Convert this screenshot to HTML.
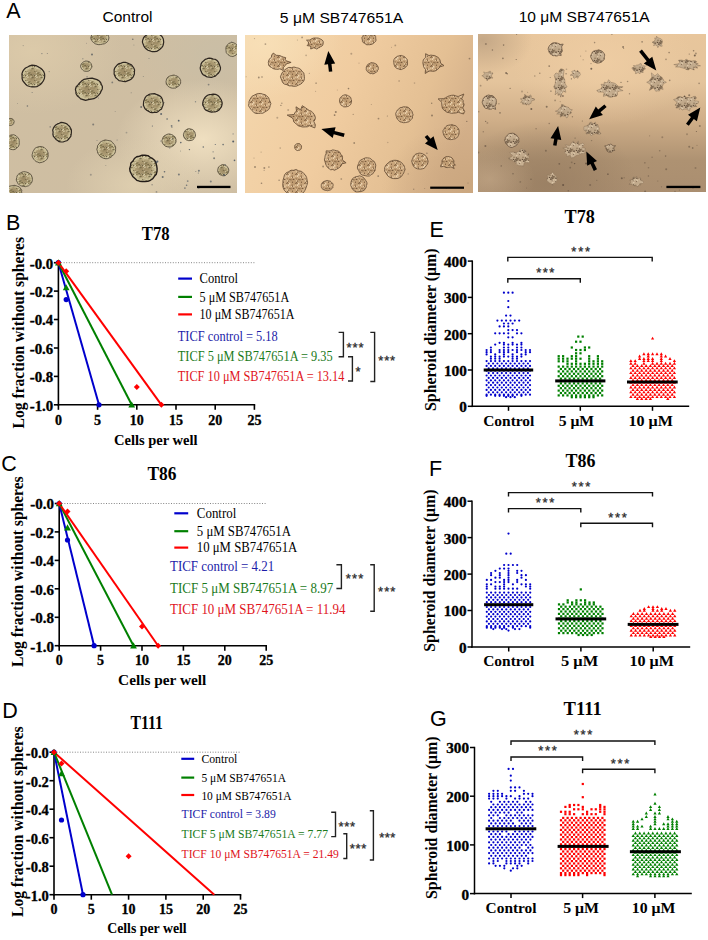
<!DOCTYPE html>
<html><head><meta charset="utf-8"><title>Figure</title>
<style>html,body{margin:0;padding:0;background:#fff;} svg{display:block;}</style>
</head><body>
<svg width="708" height="940" viewBox="0 0 708 940">
<rect width="708" height="940" fill="#fff"/>
<defs>
<pattern id="sp1" width="9" height="9" patternUnits="userSpaceOnUse"><circle cx="4.07" cy="5.04" r="0.81" fill="#d8cca4"/><circle cx="4.07" cy="7.70" r="0.44" fill="#857850"/><circle cx="4.28" cy="5.53" r="0.44" fill="#d8cca4"/><circle cx="2.73" cy="0.82" r="0.75" fill="#6f6444"/><circle cx="5.36" cy="3.57" r="0.58" fill="#857850"/><circle cx="5.85" cy="5.61" r="0.77" fill="#6f6444"/><circle cx="0.54" cy="1.71" r="0.47" fill="#6f6444"/><circle cx="7.00" cy="2.94" r="0.65" fill="#e4dab8"/><circle cx="4.67" cy="5.76" r="0.60" fill="#6f6444"/><circle cx="4.12" cy="2.50" r="0.85" fill="#6f6444"/><circle cx="6.37" cy="2.84" r="0.46" fill="#5e5438"/><circle cx="0.27" cy="5.07" r="0.40" fill="#6f6444"/><circle cx="7.62" cy="3.48" r="0.83" fill="#6f6444"/><circle cx="1.92" cy="8.34" r="0.38" fill="#d8cca4"/><circle cx="8.82" cy="3.58" r="0.39" fill="#e4dab8"/><circle cx="7.01" cy="2.43" r="0.39" fill="#5e5438"/><circle cx="0.14" cy="3.69" r="0.81" fill="#e4dab8"/><circle cx="2.22" cy="0.91" r="0.38" fill="#d8cca4"/><circle cx="1.60" cy="5.03" r="0.57" fill="#e4dab8"/><circle cx="8.87" cy="6.93" r="0.56" fill="#d8cca4"/><circle cx="1.05" cy="3.79" r="0.46" fill="#5e5438"/><circle cx="7.78" cy="8.77" r="0.65" fill="#6f6444"/><circle cx="1.90" cy="3.55" r="0.78" fill="#857850"/><circle cx="0.90" cy="8.90" r="0.46" fill="#5e5438"/><circle cx="0.09" cy="5.49" r="0.77" fill="#d8cca4"/><circle cx="0.66" cy="0.81" r="0.64" fill="#e4dab8"/><circle cx="0.14" cy="3.32" r="0.66" fill="#e4dab8"/><circle cx="8.63" cy="4.35" r="0.64" fill="#d8cca4"/><circle cx="1.65" cy="1.39" r="0.80" fill="#857850"/><circle cx="2.25" cy="1.71" r="0.72" fill="#857850"/></pattern>
<pattern id="sp2" width="9" height="9" patternUnits="userSpaceOnUse"><circle cx="1.77" cy="8.55" r="0.79" fill="#94734f"/><circle cx="0.71" cy="0.43" r="0.40" fill="#94734f"/><circle cx="8.66" cy="2.15" r="0.70" fill="#6e5034"/><circle cx="3.79" cy="8.14" r="0.60" fill="#94734f"/><circle cx="1.58" cy="6.48" r="0.38" fill="#f0d8b4"/><circle cx="4.31" cy="5.88" r="0.66" fill="#7a5c3c"/><circle cx="2.52" cy="8.26" r="0.45" fill="#7a5c3c"/><circle cx="0.62" cy="3.70" r="0.47" fill="#7a5c3c"/><circle cx="1.59" cy="3.32" r="0.64" fill="#f0d8b4"/><circle cx="0.83" cy="1.25" r="0.58" fill="#6e5034"/><circle cx="5.91" cy="6.22" r="0.64" fill="#f0d8b4"/><circle cx="5.31" cy="8.31" r="0.59" fill="#6e5034"/><circle cx="6.31" cy="8.66" r="0.36" fill="#7a5c3c"/><circle cx="4.34" cy="6.57" r="0.51" fill="#7a5c3c"/><circle cx="0.68" cy="4.91" r="0.72" fill="#f0d8b4"/><circle cx="7.14" cy="8.24" r="0.53" fill="#ead0a8"/><circle cx="8.11" cy="7.84" r="0.56" fill="#7a5c3c"/><circle cx="7.77" cy="5.16" r="0.66" fill="#ead0a8"/><circle cx="3.41" cy="0.11" r="0.39" fill="#7a5c3c"/><circle cx="5.75" cy="8.94" r="0.79" fill="#6e5034"/><circle cx="3.50" cy="6.62" r="0.64" fill="#ead0a8"/><circle cx="4.16" cy="4.87" r="0.61" fill="#94734f"/><circle cx="0.27" cy="5.41" r="0.59" fill="#f0d8b4"/><circle cx="8.62" cy="1.02" r="0.74" fill="#ead0a8"/><circle cx="2.30" cy="0.10" r="0.50" fill="#94734f"/><circle cx="1.82" cy="1.53" r="0.80" fill="#ead0a8"/><circle cx="4.48" cy="2.17" r="0.55" fill="#6e5034"/><circle cx="1.79" cy="3.88" r="0.75" fill="#f0d8b4"/><circle cx="7.92" cy="3.46" r="0.64" fill="#6e5034"/><circle cx="1.89" cy="1.21" r="0.53" fill="#7a5c3c"/></pattern>
<pattern id="sp3" width="9" height="9" patternUnits="userSpaceOnUse"><circle cx="6.40" cy="8.55" r="0.49" fill="#dcc8aa"/><circle cx="1.02" cy="4.24" r="0.81" fill="#8a7458"/><circle cx="3.44" cy="4.68" r="0.69" fill="#7a6450"/><circle cx="4.07" cy="0.67" r="0.37" fill="#7a6450"/><circle cx="0.37" cy="6.38" r="0.64" fill="#5a4634"/><circle cx="5.84" cy="5.08" r="0.67" fill="#8a7458"/><circle cx="4.09" cy="0.22" r="0.76" fill="#dcc8aa"/><circle cx="7.01" cy="7.17" r="0.84" fill="#6a5440"/><circle cx="4.02" cy="5.67" r="0.68" fill="#5a4634"/><circle cx="8.63" cy="6.16" r="0.45" fill="#8a7458"/><circle cx="2.30" cy="6.43" r="0.73" fill="#7a6450"/><circle cx="6.43" cy="1.61" r="0.49" fill="#5a4634"/><circle cx="4.86" cy="8.52" r="0.60" fill="#dcc8aa"/><circle cx="3.54" cy="7.13" r="0.80" fill="#6a5440"/><circle cx="3.69" cy="8.03" r="0.54" fill="#8a7458"/><circle cx="4.08" cy="5.63" r="0.80" fill="#8a7458"/><circle cx="4.95" cy="5.87" r="0.60" fill="#5a4634"/><circle cx="4.17" cy="5.86" r="0.45" fill="#6a5440"/><circle cx="1.92" cy="8.10" r="0.84" fill="#5a4634"/><circle cx="4.83" cy="7.12" r="0.51" fill="#6a5440"/><circle cx="3.14" cy="0.74" r="0.57" fill="#7a6450"/><circle cx="3.79" cy="2.48" r="0.81" fill="#dcc8aa"/><circle cx="7.28" cy="0.58" r="0.75" fill="#dcc8aa"/><circle cx="4.80" cy="6.18" r="0.81" fill="#8a7458"/></pattern>

<radialGradient id="f1" cx="0.5" cy="0.5" r="0.5">
 <stop offset="0" stop-color="#9a8762"/><stop offset="0.6" stop-color="#ad9c74"/><stop offset="0.88" stop-color="#cfc49c"/><stop offset="1" stop-color="#c4b890"/>
</radialGradient>
<radialGradient id="f2" cx="0.5" cy="0.5" r="0.5">
 <stop offset="0" stop-color="#bc986e"/><stop offset="0.75" stop-color="#caa67c"/><stop offset="1" stop-color="#dcbc94"/>
</radialGradient>
<radialGradient id="f3" cx="0.5" cy="0.5" r="0.5">
 <stop offset="0" stop-color="#bca486"/><stop offset="1" stop-color="#cbb496"/>
</radialGradient>
<linearGradient id="g1" x1="0" y1="0" x2="1" y2="1">
 <stop offset="0" stop-color="#d0bfa2"/><stop offset="1" stop-color="#cdbda2"/>
</linearGradient>
<radialGradient id="g1b" cx="0.85" cy="0.66" r="0.38">
 <stop offset="0" stop-color="#efdfc0" stop-opacity="1"/><stop offset="1" stop-color="#efdfc0" stop-opacity="0"/>
</radialGradient>
<radialGradient id="g1c" cx="0.1" cy="0.1" r="0.4">
 <stop offset="0" stop-color="#ddcbaa" stop-opacity="0.9"/><stop offset="1" stop-color="#ddcbaa" stop-opacity="0"/>
</radialGradient>
<radialGradient id="g1d" cx="0.55" cy="0.95" r="0.3">
 <stop offset="0" stop-color="#e2d2b2" stop-opacity="0.8"/><stop offset="1" stop-color="#e2d2b2" stop-opacity="0"/>
</radialGradient>
<linearGradient id="g2" x1="0" y1="0.2" x2="1" y2="0.5">
 <stop offset="0" stop-color="#f4d6ac"/><stop offset="0.45" stop-color="#f0cca0"/><stop offset="0.78" stop-color="#e4c094"/><stop offset="1" stop-color="#d4b08a"/>
</linearGradient>
<radialGradient id="g2b" cx="0.08" cy="0.05" r="0.35">
 <stop offset="0" stop-color="#f8e0b8" stop-opacity="0.9"/><stop offset="1" stop-color="#f8e0b8" stop-opacity="0"/>
</radialGradient>
<radialGradient id="g2c" cx="1.0" cy="0.95" r="0.4">
 <stop offset="0" stop-color="#c8a47c" stop-opacity="0.8"/><stop offset="1" stop-color="#c8a47c" stop-opacity="0"/>
</radialGradient>
<linearGradient id="g3" x1="0" y1="0" x2="0" y2="1">
 <stop offset="0" stop-color="#e8c69c"/><stop offset="0.3" stop-color="#e4c49c"/><stop offset="0.55" stop-color="#cfae88"/><stop offset="0.8" stop-color="#ae9272"/><stop offset="1" stop-color="#aa8e70"/>
</linearGradient>
<radialGradient id="g3b" cx="0.55" cy="0.18" r="0.4">
 <stop offset="0" stop-color="#f0cea4" stop-opacity="0.8"/><stop offset="1" stop-color="#f0cea4" stop-opacity="0"/>
</radialGradient>
<radialGradient id="g3c" cx="0.02" cy="0.04" r="0.22">
 <stop offset="0" stop-color="#c0a484" stop-opacity="0.9"/><stop offset="1" stop-color="#c0a484" stop-opacity="0"/>
</radialGradient>
<radialGradient id="g3e" cx="0.3" cy="0.95" r="0.4">
 <stop offset="0" stop-color="#967c60" stop-opacity="0.75"/><stop offset="0.5" stop-color="#967c60" stop-opacity="0.42"/><stop offset="1" stop-color="#967c60" stop-opacity="0"/>
</radialGradient>
<radialGradient id="g1e" cx="0.92" cy="0.12" r="0.35">
 <stop offset="0" stop-color="#c9bea6" stop-opacity="0.9"/><stop offset="1" stop-color="#c9bea6" stop-opacity="0"/>
</radialGradient>
<radialGradient id="g3d" cx="0.05" cy="0.92" r="0.2">
 <stop offset="0" stop-color="#c6aa8a" stop-opacity="0.6"/><stop offset="1" stop-color="#c6aa8a" stop-opacity="0"/>
</radialGradient>
<clipPath id="c1"><rect x="9" y="35" width="228" height="158"/></clipPath>
<clipPath id="c2"><rect x="245" y="35" width="228" height="158"/></clipPath>
<clipPath id="c3"><rect x="478" y="34" width="228" height="158"/></clipPath>
</defs>
<g clip-path="url(#c1)">
<rect x="9" y="35" width="228" height="158" fill="url(#g1)"/>
<rect x="9" y="35" width="228" height="158" fill="url(#g1e)"/>
<rect x="9" y="35" width="228" height="158" fill="url(#g1b)"/>
<rect x="9" y="35" width="228" height="158" fill="url(#g1c)"/>
<rect x="9" y="35" width="228" height="158" fill="url(#g1d)"/>
<circle cx="82.8" cy="58.8" r="0.8" fill="#3e4650" opacity="0.33"/>
<circle cx="131.2" cy="92.8" r="0.5" fill="#3e4650" opacity="0.48"/>
<circle cx="17.5" cy="103.5" r="0.5" fill="#3e4650" opacity="0.33"/>
<circle cx="105.8" cy="165.6" r="0.5" fill="#3e4650" opacity="0.38"/>
<circle cx="152.1" cy="184.7" r="0.8" fill="#3e4650" opacity="0.44"/>
<circle cx="231.6" cy="42.4" r="1.0" fill="#3e4650" opacity="0.40"/>
<circle cx="41.9" cy="53.6" r="0.6" fill="#3e4650" opacity="0.59"/>
<circle cx="50.2" cy="126.9" r="0.8" fill="#3e4650" opacity="0.43"/>
<circle cx="133.9" cy="44.9" r="0.5" fill="#3e4650" opacity="0.37"/>
<circle cx="164.1" cy="102.6" r="0.6" fill="#3e4650" opacity="0.50"/>
<circle cx="112.3" cy="82.4" r="0.9" fill="#3e4650" opacity="0.54"/>
<circle cx="64.7" cy="125.8" r="0.8" fill="#3e4650" opacity="0.61"/>
<circle cx="175.3" cy="80.5" r="1.0" fill="#3e4650" opacity="0.34"/>
<circle cx="104.3" cy="154.6" r="0.5" fill="#3e4650" opacity="0.47"/>
<circle cx="17.9" cy="140.6" r="0.9" fill="#3e4650" opacity="0.50"/>
<circle cx="208.6" cy="84.6" r="0.9" fill="#3e4650" opacity="0.51"/>
<circle cx="141.2" cy="107.1" r="1.0" fill="#3e4650" opacity="0.63"/>
<circle cx="117.1" cy="139.9" r="0.5" fill="#3e4650" opacity="0.55"/>
<circle cx="156.5" cy="191.9" r="0.9" fill="#3e4650" opacity="0.40"/>
<circle cx="97.0" cy="140.6" r="0.5" fill="#3e4650" opacity="0.46"/>
<circle cx="47.3" cy="53.5" r="0.5" fill="#3e4650" opacity="0.57"/>
<circle cx="38.5" cy="74.1" r="0.7" fill="#3e4650" opacity="0.60"/>
<circle cx="27.4" cy="106.0" r="0.8" fill="#3e4650" opacity="0.61"/>
<circle cx="195.8" cy="171.5" r="0.6" fill="#3e4650" opacity="0.45"/>
<circle cx="90.8" cy="174.7" r="1.0" fill="#3e4650" opacity="0.35"/>
<circle cx="49.2" cy="71.6" r="0.6" fill="#3e4650" opacity="0.47"/>
<circle cx="143.3" cy="76.5" r="0.5" fill="#3e4650" opacity="0.45"/>
<circle cx="93.2" cy="124.5" r="1.0" fill="#3e4650" opacity="0.54"/>
<circle cx="126.5" cy="132.6" r="0.9" fill="#3e4650" opacity="0.32"/>
<circle cx="214.1" cy="158.2" r="1.0" fill="#3e4650" opacity="0.58"/>
<circle cx="98.5" cy="98.0" r="0.5" fill="#3e4650" opacity="0.52"/>
<circle cx="23.2" cy="45.6" r="0.6" fill="#3e4650" opacity="0.36"/>
<circle cx="86.5" cy="43.3" r="0.5" fill="#3e4650" opacity="0.35"/>
<circle cx="32.1" cy="92.5" r="0.5" fill="#3e4650" opacity="0.61"/>
<circle cx="149.0" cy="58.5" r="0.6" fill="#3e4650" opacity="0.42"/>
<circle cx="92.0" cy="54.4" r="1.0" fill="#3e4650" opacity="0.65"/>
<circle cx="115.2" cy="111.4" r="0.5" fill="#3e4650" opacity="0.34"/>
<circle cx="87.1" cy="76.8" r="0.9" fill="#3e4650" opacity="0.36"/>
<circle cx="14.3" cy="185.3" r="0.8" fill="#3e4650" opacity="0.35"/>
<circle cx="132.8" cy="39.3" r="0.8" fill="#3e4650" opacity="0.64"/>
<polygon points="44.7,76.2 44.4,78.5 43.5,80.6 42.2,82.5 40.8,84.2 38.8,85.5 36.8,86.6 34.4,86.8 32.0,86.9 29.7,86.5 27.4,85.8 25.6,84.2 24.2,82.5 22.7,80.7 22.1,78.5 22.1,76.2 21.9,73.9 22.6,71.7 23.9,69.7 25.5,68.0 27.6,67.0 29.7,65.8 32.0,65.2 34.4,65.3 36.7,65.9 38.7,67.1 40.7,68.2 42.4,69.8 43.8,71.7 44.6,73.9" fill="url(#f1)"/>
<polygon points="44.7,76.2 44.4,78.5 43.5,80.6 42.2,82.5 40.8,84.2 38.8,85.5 36.8,86.6 34.4,86.8 32.0,86.9 29.7,86.5 27.4,85.8 25.6,84.2 24.2,82.5 22.7,80.7 22.1,78.5 22.1,76.2 21.9,73.9 22.6,71.7 23.9,69.7 25.5,68.0 27.6,67.0 29.7,65.8 32.0,65.2 34.4,65.3 36.7,65.9 38.7,67.1 40.7,68.2 42.4,69.8 43.8,71.7 44.6,73.9" fill="url(#sp1)"/>
<polygon points="44.7,76.2 44.4,78.5 43.5,80.6 42.2,82.5 40.8,84.2 38.8,85.5 36.8,86.6 34.4,86.8 32.0,86.9 29.7,86.5 27.4,85.8 25.6,84.2 24.2,82.5 22.7,80.7 22.1,78.5 22.1,76.2 21.9,73.9 22.6,71.7 23.9,69.7 25.5,68.0 27.6,67.0 29.7,65.8 32.0,65.2 34.4,65.3 36.7,65.9 38.7,67.1 40.7,68.2 42.4,69.8 43.8,71.7 44.6,73.9" fill="none" stroke="#2e2620" stroke-width="1.2" stroke-linejoin="round"/>
<polygon points="101.4,84.5 102.4,86.6 102.3,88.9 101.2,91.1 100.1,93.4 98.4,95.4 96.4,97.2 93.9,98.7 91.1,99.2 88.4,99.7 85.6,100.3 83.1,99.6 80.6,98.9 79.0,97.2 77.2,95.7 76.0,93.8 75.9,91.6 75.4,89.3 76.1,87.0 78.0,84.9 79.6,83.0 81.5,81.1 83.8,79.4 86.6,78.8 89.4,78.4 92.1,78.2 94.6,78.9 97.0,79.6 99.1,80.8 100.6,82.5" fill="url(#f1)"/>
<polygon points="101.4,84.5 102.4,86.6 102.3,88.9 101.2,91.1 100.1,93.4 98.4,95.4 96.4,97.2 93.9,98.7 91.1,99.2 88.4,99.7 85.6,100.3 83.1,99.6 80.6,98.9 79.0,97.2 77.2,95.7 76.0,93.8 75.9,91.6 75.4,89.3 76.1,87.0 78.0,84.9 79.6,83.0 81.5,81.1 83.8,79.4 86.6,78.8 89.4,78.4 92.1,78.2 94.6,78.9 97.0,79.6 99.1,80.8 100.6,82.5" fill="url(#sp1)"/>
<polygon points="101.4,84.5 102.4,86.6 102.3,88.9 101.2,91.1 100.1,93.4 98.4,95.4 96.4,97.2 93.9,98.7 91.1,99.2 88.4,99.7 85.6,100.3 83.1,99.6 80.6,98.9 79.0,97.2 77.2,95.7 76.0,93.8 75.9,91.6 75.4,89.3 76.1,87.0 78.0,84.9 79.6,83.0 81.5,81.1 83.8,79.4 86.6,78.8 89.4,78.4 92.1,78.2 94.6,78.9 97.0,79.6 99.1,80.8 100.6,82.5" fill="none" stroke="#2e2620" stroke-width="1.2" stroke-linejoin="round"/>
<polygon points="92.0,66.2 91.8,67.3 91.2,68.3 90.6,69.2 90.1,70.1 89.1,70.8 88.0,71.2 86.9,71.3 85.7,71.4 84.6,71.2 83.5,70.7 82.7,70.0 81.9,69.2 81.3,68.3 80.8,67.3 80.6,66.2 80.8,65.1 81.3,64.1 81.9,63.2 82.7,62.4 83.6,61.8 84.6,61.4 85.7,61.0 86.9,61.1 88.0,61.3 89.1,61.6 90.0,62.3 90.8,63.1 91.2,64.1 91.5,65.1" fill="url(#f1)"/>
<polygon points="92.0,66.2 91.8,67.3 91.2,68.3 90.6,69.2 90.1,70.1 89.1,70.8 88.0,71.2 86.9,71.3 85.7,71.4 84.6,71.2 83.5,70.7 82.7,70.0 81.9,69.2 81.3,68.3 80.8,67.3 80.6,66.2 80.8,65.1 81.3,64.1 81.9,63.2 82.7,62.4 83.6,61.8 84.6,61.4 85.7,61.0 86.9,61.1 88.0,61.3 89.1,61.6 90.0,62.3 90.8,63.1 91.2,64.1 91.5,65.1" fill="url(#sp1)"/>
<polygon points="92.0,66.2 91.8,67.3 91.2,68.3 90.6,69.2 90.1,70.1 89.1,70.8 88.0,71.2 86.9,71.3 85.7,71.4 84.6,71.2 83.5,70.7 82.7,70.0 81.9,69.2 81.3,68.3 80.8,67.3 80.6,66.2 80.8,65.1 81.3,64.1 81.9,63.2 82.7,62.4 83.6,61.8 84.6,61.4 85.7,61.0 86.9,61.1 88.0,61.3 89.1,61.6 90.0,62.3 90.8,63.1 91.2,64.1 91.5,65.1" fill="none" stroke="#5a5040" stroke-width="0.9" stroke-linejoin="round"/>
<polygon points="134.4,72.0 134.4,74.0 133.6,75.9 132.7,77.7 131.2,79.2 129.3,80.1 127.4,80.9 125.4,81.7 123.2,81.4 121.2,81.0 119.0,80.6 117.4,79.1 115.8,77.8 114.9,75.9 114.1,74.0 114.2,72.0 114.1,70.0 114.7,68.0 116.0,66.3 117.3,64.8 119.1,63.6 121.2,63.1 123.2,62.3 125.4,62.4 127.4,63.0 129.3,63.9 131.3,64.7 132.6,66.4 133.8,68.0 134.6,70.0" fill="url(#f1)"/>
<polygon points="134.4,72.0 134.4,74.0 133.6,75.9 132.7,77.7 131.2,79.2 129.3,80.1 127.4,80.9 125.4,81.7 123.2,81.4 121.2,81.0 119.0,80.6 117.4,79.1 115.8,77.8 114.9,75.9 114.1,74.0 114.2,72.0 114.1,70.0 114.7,68.0 116.0,66.3 117.3,64.8 119.1,63.6 121.2,63.1 123.2,62.3 125.4,62.4 127.4,63.0 129.3,63.9 131.3,64.7 132.6,66.4 133.8,68.0 134.6,70.0" fill="url(#sp1)"/>
<polygon points="134.4,72.0 134.4,74.0 133.6,75.9 132.7,77.7 131.2,79.2 129.3,80.1 127.4,80.9 125.4,81.7 123.2,81.4 121.2,81.0 119.0,80.6 117.4,79.1 115.8,77.8 114.9,75.9 114.1,74.0 114.2,72.0 114.1,70.0 114.7,68.0 116.0,66.3 117.3,64.8 119.1,63.6 121.2,63.1 123.2,62.3 125.4,62.4 127.4,63.0 129.3,63.9 131.3,64.7 132.6,66.4 133.8,68.0 134.6,70.0" fill="none" stroke="#2e2620" stroke-width="1.2" stroke-linejoin="round"/>
<polygon points="163.7,42.1 163.4,44.0 162.9,45.9 161.7,47.6 160.2,49.0 158.6,50.3 156.7,51.4 154.4,51.7 152.2,51.7 150.1,51.0 148.0,50.3 146.3,49.1 144.9,47.6 143.8,45.9 143.1,44.0 142.4,42.1 142.7,40.1 143.4,38.2 144.6,36.4 146.3,35.2 148.1,34.0 150.0,33.0 152.2,32.5 154.4,32.5 156.7,32.9 158.5,34.1 160.4,35.0 162.0,36.5 163.0,38.2 163.5,40.2" fill="url(#f1)"/>
<polygon points="163.7,42.1 163.4,44.0 162.9,45.9 161.7,47.6 160.2,49.0 158.6,50.3 156.7,51.4 154.4,51.7 152.2,51.7 150.1,51.0 148.0,50.3 146.3,49.1 144.9,47.6 143.8,45.9 143.1,44.0 142.4,42.1 142.7,40.1 143.4,38.2 144.6,36.4 146.3,35.2 148.1,34.0 150.0,33.0 152.2,32.5 154.4,32.5 156.7,32.9 158.5,34.1 160.4,35.0 162.0,36.5 163.0,38.2 163.5,40.2" fill="url(#sp1)"/>
<polygon points="163.7,42.1 163.4,44.0 162.9,45.9 161.7,47.6 160.2,49.0 158.6,50.3 156.7,51.4 154.4,51.7 152.2,51.7 150.1,51.0 148.0,50.3 146.3,49.1 144.9,47.6 143.8,45.9 143.1,44.0 142.4,42.1 142.7,40.1 143.4,38.2 144.6,36.4 146.3,35.2 148.1,34.0 150.0,33.0 152.2,32.5 154.4,32.5 156.7,32.9 158.5,34.1 160.4,35.0 162.0,36.5 163.0,38.2 163.5,40.2" fill="none" stroke="#2e2620" stroke-width="1.2" stroke-linejoin="round"/>
<polygon points="108.9,37.6 108.7,39.1 108.2,40.5 107.3,41.8 105.9,42.9 104.4,43.8 102.5,44.1 100.7,44.5 98.8,44.7 97.0,44.3 95.2,43.8 93.9,42.7 92.5,41.7 91.7,40.4 91.0,39.1 90.8,37.6 91.3,36.2 91.7,34.8 92.6,33.5 93.6,32.3 95.2,31.4 97.1,31.1 98.8,30.5 100.7,30.8 102.6,30.9 104.2,31.7 105.6,32.6 107.2,33.4 107.9,34.8 108.5,36.2" fill="url(#f1)"/>
<polygon points="108.9,37.6 108.7,39.1 108.2,40.5 107.3,41.8 105.9,42.9 104.4,43.8 102.5,44.1 100.7,44.5 98.8,44.7 97.0,44.3 95.2,43.8 93.9,42.7 92.5,41.7 91.7,40.4 91.0,39.1 90.8,37.6 91.3,36.2 91.7,34.8 92.6,33.5 93.6,32.3 95.2,31.4 97.1,31.1 98.8,30.5 100.7,30.8 102.6,30.9 104.2,31.7 105.6,32.6 107.2,33.4 107.9,34.8 108.5,36.2" fill="url(#sp1)"/>
<polygon points="108.9,37.6 108.7,39.1 108.2,40.5 107.3,41.8 105.9,42.9 104.4,43.8 102.5,44.1 100.7,44.5 98.8,44.7 97.0,44.3 95.2,43.8 93.9,42.7 92.5,41.7 91.7,40.4 91.0,39.1 90.8,37.6 91.3,36.2 91.7,34.8 92.6,33.5 93.6,32.3 95.2,31.4 97.1,31.1 98.8,30.5 100.7,30.8 102.6,30.9 104.2,31.7 105.6,32.6 107.2,33.4 107.9,34.8 108.5,36.2" fill="none" stroke="#5a5040" stroke-width="0.9" stroke-linejoin="round"/>
<polygon points="220.5,67.8 220.3,69.8 219.4,71.7 218.3,73.3 216.8,74.6 215.3,76.1 213.4,76.8 211.4,77.4 209.3,77.2 207.2,77.0 205.4,75.9 203.5,75.0 202.1,73.5 201.2,71.6 200.5,69.8 200.2,67.8 200.7,65.9 201.1,63.9 202.1,62.1 203.7,60.8 205.2,59.4 207.2,58.7 209.2,58.2 211.3,58.4 213.3,59.0 215.4,59.4 217.1,60.6 218.4,62.2 219.2,64.0 219.9,65.9" fill="url(#f1)"/>
<polygon points="220.5,67.8 220.3,69.8 219.4,71.7 218.3,73.3 216.8,74.6 215.3,76.1 213.4,76.8 211.4,77.4 209.3,77.2 207.2,77.0 205.4,75.9 203.5,75.0 202.1,73.5 201.2,71.6 200.5,69.8 200.2,67.8 200.7,65.9 201.1,63.9 202.1,62.1 203.7,60.8 205.2,59.4 207.2,58.7 209.2,58.2 211.3,58.4 213.3,59.0 215.4,59.4 217.1,60.6 218.4,62.2 219.2,64.0 219.9,65.9" fill="url(#sp1)"/>
<polygon points="220.5,67.8 220.3,69.8 219.4,71.7 218.3,73.3 216.8,74.6 215.3,76.1 213.4,76.8 211.4,77.4 209.3,77.2 207.2,77.0 205.4,75.9 203.5,75.0 202.1,73.5 201.2,71.6 200.5,69.8 200.2,67.8 200.7,65.9 201.1,63.9 202.1,62.1 203.7,60.8 205.2,59.4 207.2,58.7 209.2,58.2 211.3,58.4 213.3,59.0 215.4,59.4 217.1,60.6 218.4,62.2 219.2,64.0 219.9,65.9" fill="none" stroke="#2e2620" stroke-width="1.2" stroke-linejoin="round"/>
<polygon points="238.5,49.5 238.3,50.9 238.1,52.4 237.2,53.5 236.5,54.7 235.4,55.5 234.1,56.0 232.9,56.5 231.5,56.3 230.2,56.1 229.1,55.4 228.0,54.6 227.0,53.6 226.2,52.4 226.1,50.9 225.9,49.5 225.9,48.0 226.2,46.6 227.0,45.4 227.9,44.3 228.9,43.3 230.3,43.0 231.5,42.4 232.9,42.6 234.1,43.0 235.3,43.6 236.4,44.4 237.5,45.3 237.9,46.7 238.5,48.0" fill="url(#f1)"/>
<polygon points="238.5,49.5 238.3,50.9 238.1,52.4 237.2,53.5 236.5,54.7 235.4,55.5 234.1,56.0 232.9,56.5 231.5,56.3 230.2,56.1 229.1,55.4 228.0,54.6 227.0,53.6 226.2,52.4 226.1,50.9 225.9,49.5 225.9,48.0 226.2,46.6 227.0,45.4 227.9,44.3 228.9,43.3 230.3,43.0 231.5,42.4 232.9,42.6 234.1,43.0 235.3,43.6 236.4,44.4 237.5,45.3 237.9,46.7 238.5,48.0" fill="url(#sp1)"/>
<polygon points="238.5,49.5 238.3,50.9 238.1,52.4 237.2,53.5 236.5,54.7 235.4,55.5 234.1,56.0 232.9,56.5 231.5,56.3 230.2,56.1 229.1,55.4 228.0,54.6 227.0,53.6 226.2,52.4 226.1,50.9 225.9,49.5 225.9,48.0 226.2,46.6 227.0,45.4 227.9,44.3 228.9,43.3 230.3,43.0 231.5,42.4 232.9,42.6 234.1,43.0 235.3,43.6 236.4,44.4 237.5,45.3 237.9,46.7 238.5,48.0" fill="none" stroke="#5a5040" stroke-width="0.9" stroke-linejoin="round"/>
<polygon points="180.6,81.7 180.7,83.1 179.9,84.3 179.4,85.6 178.1,86.4 176.9,87.2 175.7,88.1 174.1,88.1 172.5,88.2 171.0,87.9 169.6,87.3 168.3,86.5 167.4,85.5 166.4,84.4 166.2,83.0 166.0,81.7 166.3,80.4 166.6,79.1 167.3,77.9 168.2,76.8 169.6,76.1 171.1,75.7 172.5,75.3 174.1,75.0 175.5,75.7 177.0,76.0 178.2,76.9 179.3,77.8 180.0,79.1 180.6,80.3" fill="url(#f1)"/>
<polygon points="180.6,81.7 180.7,83.1 179.9,84.3 179.4,85.6 178.1,86.4 176.9,87.2 175.7,88.1 174.1,88.1 172.5,88.2 171.0,87.9 169.6,87.3 168.3,86.5 167.4,85.5 166.4,84.4 166.2,83.0 166.0,81.7 166.3,80.4 166.6,79.1 167.3,77.9 168.2,76.8 169.6,76.1 171.1,75.7 172.5,75.3 174.1,75.0 175.5,75.7 177.0,76.0 178.2,76.9 179.3,77.8 180.0,79.1 180.6,80.3" fill="url(#sp1)"/>
<polygon points="180.6,81.7 180.7,83.1 179.9,84.3 179.4,85.6 178.1,86.4 176.9,87.2 175.7,88.1 174.1,88.1 172.5,88.2 171.0,87.9 169.6,87.3 168.3,86.5 167.4,85.5 166.4,84.4 166.2,83.0 166.0,81.7 166.3,80.4 166.6,79.1 167.3,77.9 168.2,76.8 169.6,76.1 171.1,75.7 172.5,75.3 174.1,75.0 175.5,75.7 177.0,76.0 178.2,76.9 179.3,77.8 180.0,79.1 180.6,80.3" fill="none" stroke="#5a5040" stroke-width="0.9" stroke-linejoin="round"/>
<polygon points="163.3,103.2 163.0,105.2 162.2,107.0 161.6,108.9 159.8,110.1 158.3,111.4 156.5,112.5 154.3,112.4 152.3,112.7 150.2,112.3 148.4,111.2 146.7,110.2 145.1,108.9 144.2,107.1 143.4,105.2 143.5,103.2 143.7,101.3 144.4,99.4 145.2,97.6 146.4,96.0 148.3,94.9 150.2,94.0 152.3,93.8 154.4,93.6 156.3,94.4 158.2,95.1 160.1,96.1 161.5,97.5 162.4,99.4 162.8,101.3" fill="url(#f1)"/>
<polygon points="163.3,103.2 163.0,105.2 162.2,107.0 161.6,108.9 159.8,110.1 158.3,111.4 156.5,112.5 154.3,112.4 152.3,112.7 150.2,112.3 148.4,111.2 146.7,110.2 145.1,108.9 144.2,107.1 143.4,105.2 143.5,103.2 143.7,101.3 144.4,99.4 145.2,97.6 146.4,96.0 148.3,94.9 150.2,94.0 152.3,93.8 154.4,93.6 156.3,94.4 158.2,95.1 160.1,96.1 161.5,97.5 162.4,99.4 162.8,101.3" fill="url(#sp1)"/>
<polygon points="163.3,103.2 163.0,105.2 162.2,107.0 161.6,108.9 159.8,110.1 158.3,111.4 156.5,112.5 154.3,112.4 152.3,112.7 150.2,112.3 148.4,111.2 146.7,110.2 145.1,108.9 144.2,107.1 143.4,105.2 143.5,103.2 143.7,101.3 144.4,99.4 145.2,97.6 146.4,96.0 148.3,94.9 150.2,94.0 152.3,93.8 154.4,93.6 156.3,94.4 158.2,95.1 160.1,96.1 161.5,97.5 162.4,99.4 162.8,101.3" fill="none" stroke="#2e2620" stroke-width="1.2" stroke-linejoin="round"/>
<polygon points="222.2,103.2 221.9,105.1 221.4,106.9 220.2,108.4 219.1,110.0 217.4,111.1 215.5,111.8 213.5,112.0 211.5,112.2 209.5,111.7 207.7,110.9 205.8,110.1 204.4,108.6 203.9,106.8 202.8,105.1 202.7,103.2 203.1,101.3 203.8,99.6 204.6,97.9 206.0,96.5 207.6,95.3 209.5,94.6 211.5,94.4 213.5,94.1 215.6,94.4 217.5,95.2 219.0,96.5 220.1,98.1 221.1,99.6 221.8,101.4" fill="url(#f1)"/>
<polygon points="222.2,103.2 221.9,105.1 221.4,106.9 220.2,108.4 219.1,110.0 217.4,111.1 215.5,111.8 213.5,112.0 211.5,112.2 209.5,111.7 207.7,110.9 205.8,110.1 204.4,108.6 203.9,106.8 202.8,105.1 202.7,103.2 203.1,101.3 203.8,99.6 204.6,97.9 206.0,96.5 207.6,95.3 209.5,94.6 211.5,94.4 213.5,94.1 215.6,94.4 217.5,95.2 219.0,96.5 220.1,98.1 221.1,99.6 221.8,101.4" fill="url(#sp1)"/>
<polygon points="222.2,103.2 221.9,105.1 221.4,106.9 220.2,108.4 219.1,110.0 217.4,111.1 215.5,111.8 213.5,112.0 211.5,112.2 209.5,111.7 207.7,110.9 205.8,110.1 204.4,108.6 203.9,106.8 202.8,105.1 202.7,103.2 203.1,101.3 203.8,99.6 204.6,97.9 206.0,96.5 207.6,95.3 209.5,94.6 211.5,94.4 213.5,94.1 215.6,94.4 217.5,95.2 219.0,96.5 220.1,98.1 221.1,99.6 221.8,101.4" fill="none" stroke="#2e2620" stroke-width="1.2" stroke-linejoin="round"/>
<polygon points="71.4,132.2 71.2,134.2 70.8,136.3 69.6,137.9 68.3,139.5 66.8,140.7 64.9,141.3 63.1,142.0 61.1,142.0 59.2,141.7 57.6,140.5 56.0,139.4 54.8,137.8 53.4,136.3 52.9,134.3 53.1,132.2 52.7,130.1 53.4,128.1 54.5,126.4 55.8,124.9 57.5,123.9 59.3,123.2 61.1,122.4 63.0,122.7 64.9,123.1 66.7,123.8 68.1,125.1 69.6,126.5 70.6,128.2 71.4,130.1" fill="url(#f1)"/>
<polygon points="71.4,132.2 71.2,134.2 70.8,136.3 69.6,137.9 68.3,139.5 66.8,140.7 64.9,141.3 63.1,142.0 61.1,142.0 59.2,141.7 57.6,140.5 56.0,139.4 54.8,137.8 53.4,136.3 52.9,134.3 53.1,132.2 52.7,130.1 53.4,128.1 54.5,126.4 55.8,124.9 57.5,123.9 59.3,123.2 61.1,122.4 63.0,122.7 64.9,123.1 66.7,123.8 68.1,125.1 69.6,126.5 70.6,128.2 71.4,130.1" fill="url(#sp1)"/>
<polygon points="71.4,132.2 71.2,134.2 70.8,136.3 69.6,137.9 68.3,139.5 66.8,140.7 64.9,141.3 63.1,142.0 61.1,142.0 59.2,141.7 57.6,140.5 56.0,139.4 54.8,137.8 53.4,136.3 52.9,134.3 53.1,132.2 52.7,130.1 53.4,128.1 54.5,126.4 55.8,124.9 57.5,123.9 59.3,123.2 61.1,122.4 63.0,122.7 64.9,123.1 66.7,123.8 68.1,125.1 69.6,126.5 70.6,128.2 71.4,130.1" fill="none" stroke="#2e2620" stroke-width="1.2" stroke-linejoin="round"/>
<polygon points="115.6,149.3 115.5,151.3 114.9,153.1 113.7,154.6 112.3,156.0 110.9,157.3 109.1,158.0 107.3,158.7 105.3,158.7 103.4,158.2 101.6,157.4 100.0,156.3 98.9,154.7 97.8,153.1 97.4,151.2 96.8,149.3 97.4,147.4 97.6,145.4 99.0,144.0 100.0,142.3 101.7,141.3 103.4,140.5 105.3,139.9 107.2,140.3 109.1,140.7 111.1,141.0 112.5,142.4 113.6,144.0 115.0,145.4 115.6,147.3" fill="url(#f1)"/>
<polygon points="115.6,149.3 115.5,151.3 114.9,153.1 113.7,154.6 112.3,156.0 110.9,157.3 109.1,158.0 107.3,158.7 105.3,158.7 103.4,158.2 101.6,157.4 100.0,156.3 98.9,154.7 97.8,153.1 97.4,151.2 96.8,149.3 97.4,147.4 97.6,145.4 99.0,144.0 100.0,142.3 101.7,141.3 103.4,140.5 105.3,139.9 107.2,140.3 109.1,140.7 111.1,141.0 112.5,142.4 113.6,144.0 115.0,145.4 115.6,147.3" fill="url(#sp1)"/>
<polygon points="115.6,149.3 115.5,151.3 114.9,153.1 113.7,154.6 112.3,156.0 110.9,157.3 109.1,158.0 107.3,158.7 105.3,158.7 103.4,158.2 101.6,157.4 100.0,156.3 98.9,154.7 97.8,153.1 97.4,151.2 96.8,149.3 97.4,147.4 97.6,145.4 99.0,144.0 100.0,142.3 101.7,141.3 103.4,140.5 105.3,139.9 107.2,140.3 109.1,140.7 111.1,141.0 112.5,142.4 113.6,144.0 115.0,145.4 115.6,147.3" fill="none" stroke="#5a5040" stroke-width="0.9" stroke-linejoin="round"/>
<polygon points="48.1,154.7 48.1,156.4 47.6,158.0 46.8,159.5 45.5,160.5 44.1,161.5 42.6,162.1 41.0,162.5 39.4,162.8 37.8,162.1 36.2,161.6 34.9,160.5 33.8,159.3 32.9,157.9 32.2,156.4 32.1,154.7 32.6,153.1 33.0,151.5 33.9,150.1 34.7,148.6 36.1,147.6 37.7,147.0 39.3,146.6 41.0,146.6 42.7,146.9 44.3,147.6 45.5,148.8 46.8,149.9 47.5,151.4 48.1,153.0" fill="url(#f1)"/>
<polygon points="48.1,154.7 48.1,156.4 47.6,158.0 46.8,159.5 45.5,160.5 44.1,161.5 42.6,162.1 41.0,162.5 39.4,162.8 37.8,162.1 36.2,161.6 34.9,160.5 33.8,159.3 32.9,157.9 32.2,156.4 32.1,154.7 32.6,153.1 33.0,151.5 33.9,150.1 34.7,148.6 36.1,147.6 37.7,147.0 39.3,146.6 41.0,146.6 42.7,146.9 44.3,147.6 45.5,148.8 46.8,149.9 47.5,151.4 48.1,153.0" fill="url(#sp1)"/>
<polygon points="48.1,154.7 48.1,156.4 47.6,158.0 46.8,159.5 45.5,160.5 44.1,161.5 42.6,162.1 41.0,162.5 39.4,162.8 37.8,162.1 36.2,161.6 34.9,160.5 33.8,159.3 32.9,157.9 32.2,156.4 32.1,154.7 32.6,153.1 33.0,151.5 33.9,150.1 34.7,148.6 36.1,147.6 37.7,147.0 39.3,146.6 41.0,146.6 42.7,146.9 44.3,147.6 45.5,148.8 46.8,149.9 47.5,151.4 48.1,153.0" fill="none" stroke="#5a5040" stroke-width="0.9" stroke-linejoin="round"/>
<polygon points="19.2,142.2 19.3,143.8 18.9,145.3 18.3,146.7 17.2,147.7 16.1,148.6 14.9,149.4 13.6,149.7 12.2,149.6 10.9,149.4 9.7,148.7 8.5,147.9 7.8,146.5 7.1,145.2 6.4,143.8 6.5,142.2 6.6,140.7 6.9,139.1 7.6,137.8 8.6,136.7 9.6,135.7 10.9,135.0 12.2,134.9 13.6,134.7 14.9,135.2 16.1,135.8 17.1,136.8 18.1,137.9 19.0,139.1 19.2,140.6" fill="url(#f1)"/>
<polygon points="19.2,142.2 19.3,143.8 18.9,145.3 18.3,146.7 17.2,147.7 16.1,148.6 14.9,149.4 13.6,149.7 12.2,149.6 10.9,149.4 9.7,148.7 8.5,147.9 7.8,146.5 7.1,145.2 6.4,143.8 6.5,142.2 6.6,140.7 6.9,139.1 7.6,137.8 8.6,136.7 9.6,135.7 10.9,135.0 12.2,134.9 13.6,134.7 14.9,135.2 16.1,135.8 17.1,136.8 18.1,137.9 19.0,139.1 19.2,140.6" fill="url(#sp1)"/>
<polygon points="19.2,142.2 19.3,143.8 18.9,145.3 18.3,146.7 17.2,147.7 16.1,148.6 14.9,149.4 13.6,149.7 12.2,149.6 10.9,149.4 9.7,148.7 8.5,147.9 7.8,146.5 7.1,145.2 6.4,143.8 6.5,142.2 6.6,140.7 6.9,139.1 7.6,137.8 8.6,136.7 9.6,135.7 10.9,135.0 12.2,134.9 13.6,134.7 14.9,135.2 16.1,135.8 17.1,136.8 18.1,137.9 19.0,139.1 19.2,140.6" fill="none" stroke="#5a5040" stroke-width="0.9" stroke-linejoin="round"/>
<polygon points="14.2,121.9 13.9,122.6 13.8,123.3 13.4,123.9 13.0,124.6 12.3,124.8 11.7,125.3 11.0,125.4 10.2,125.5 9.5,125.3 8.9,124.9 8.3,124.5 7.7,124.0 7.4,123.3 7.2,122.6 7.2,121.9 7.1,121.2 7.3,120.4 7.7,119.8 8.3,119.3 8.8,118.8 9.5,118.6 10.2,118.5 11.0,118.4 11.7,118.6 12.3,118.9 13.0,119.3 13.4,119.9 13.8,120.5 14.1,121.2" fill="url(#f1)"/>
<polygon points="14.2,121.9 13.9,122.6 13.8,123.3 13.4,123.9 13.0,124.6 12.3,124.8 11.7,125.3 11.0,125.4 10.2,125.5 9.5,125.3 8.9,124.9 8.3,124.5 7.7,124.0 7.4,123.3 7.2,122.6 7.2,121.9 7.1,121.2 7.3,120.4 7.7,119.8 8.3,119.3 8.8,118.8 9.5,118.6 10.2,118.5 11.0,118.4 11.7,118.6 12.3,118.9 13.0,119.3 13.4,119.9 13.8,120.5 14.1,121.2" fill="url(#sp1)"/>
<polygon points="14.2,121.9 13.9,122.6 13.8,123.3 13.4,123.9 13.0,124.6 12.3,124.8 11.7,125.3 11.0,125.4 10.2,125.5 9.5,125.3 8.9,124.9 8.3,124.5 7.7,124.0 7.4,123.3 7.2,122.6 7.2,121.9 7.1,121.2 7.3,120.4 7.7,119.8 8.3,119.3 8.8,118.8 9.5,118.6 10.2,118.5 11.0,118.4 11.7,118.6 12.3,118.9 13.0,119.3 13.4,119.9 13.8,120.5 14.1,121.2" fill="none" stroke="#5a5040" stroke-width="0.9" stroke-linejoin="round"/>
<polygon points="32.4,179.2 32.3,180.8 31.8,182.2 31.0,183.6 29.8,184.7 28.5,185.8 26.9,186.2 25.3,186.7 23.7,186.4 22.1,186.2 20.5,185.6 19.3,184.7 17.9,183.7 17.3,182.2 16.5,180.8 16.3,179.2 16.8,177.7 17.0,176.1 17.9,174.7 19.1,173.6 20.6,172.9 22.0,172.1 23.7,171.7 25.3,171.8 26.9,172.2 28.5,172.8 29.8,173.7 31.1,174.7 31.7,176.2 32.3,177.6" fill="url(#f1)"/>
<polygon points="32.4,179.2 32.3,180.8 31.8,182.2 31.0,183.6 29.8,184.7 28.5,185.8 26.9,186.2 25.3,186.7 23.7,186.4 22.1,186.2 20.5,185.6 19.3,184.7 17.9,183.7 17.3,182.2 16.5,180.8 16.3,179.2 16.8,177.7 17.0,176.1 17.9,174.7 19.1,173.6 20.6,172.9 22.0,172.1 23.7,171.7 25.3,171.8 26.9,172.2 28.5,172.8 29.8,173.7 31.1,174.7 31.7,176.2 32.3,177.6" fill="url(#sp1)"/>
<polygon points="32.4,179.2 32.3,180.8 31.8,182.2 31.0,183.6 29.8,184.7 28.5,185.8 26.9,186.2 25.3,186.7 23.7,186.4 22.1,186.2 20.5,185.6 19.3,184.7 17.9,183.7 17.3,182.2 16.5,180.8 16.3,179.2 16.8,177.7 17.0,176.1 17.9,174.7 19.1,173.6 20.6,172.9 22.0,172.1 23.7,171.7 25.3,171.8 26.9,172.2 28.5,172.8 29.8,173.7 31.1,174.7 31.7,176.2 32.3,177.6" fill="none" stroke="#5a5040" stroke-width="0.9" stroke-linejoin="round"/>
<polygon points="157.1,168.6 157.0,171.4 156.3,174.2 154.4,176.3 152.8,178.6 150.4,180.3 147.8,181.4 145.0,181.5 142.2,181.5 139.5,181.2 136.8,180.3 134.7,178.3 132.7,176.4 131.4,174.0 130.1,171.4 129.7,168.6 130.5,165.9 130.9,163.0 133.0,161.0 134.4,158.5 136.7,156.8 139.5,156.2 142.2,155.2 145.0,155.3 147.9,155.6 150.2,157.3 152.7,158.7 154.8,160.6 156.0,163.1 156.7,165.9" fill="url(#f1)"/>
<polygon points="157.1,168.6 157.0,171.4 156.3,174.2 154.4,176.3 152.8,178.6 150.4,180.3 147.8,181.4 145.0,181.5 142.2,181.5 139.5,181.2 136.8,180.3 134.7,178.3 132.7,176.4 131.4,174.0 130.1,171.4 129.7,168.6 130.5,165.9 130.9,163.0 133.0,161.0 134.4,158.5 136.7,156.8 139.5,156.2 142.2,155.2 145.0,155.3 147.9,155.6 150.2,157.3 152.7,158.7 154.8,160.6 156.0,163.1 156.7,165.9" fill="url(#sp1)"/>
<polygon points="157.1,168.6 157.0,171.4 156.3,174.2 154.4,176.3 152.8,178.6 150.4,180.3 147.8,181.4 145.0,181.5 142.2,181.5 139.5,181.2 136.8,180.3 134.7,178.3 132.7,176.4 131.4,174.0 130.1,171.4 129.7,168.6 130.5,165.9 130.9,163.0 133.0,161.0 134.4,158.5 136.7,156.8 139.5,156.2 142.2,155.2 145.0,155.3 147.9,155.6 150.2,157.3 152.7,158.7 154.8,160.6 156.0,163.1 156.7,165.9" fill="none" stroke="#231c18" stroke-width="1.4" stroke-linejoin="round"/>
<polygon points="176.0,140.6 176.0,142.0 175.4,143.2 174.7,144.4 173.8,145.4 172.6,146.2 171.3,146.8 169.8,147.0 168.4,147.0 167.0,146.7 165.6,146.3 164.5,145.4 163.4,144.5 162.6,143.3 162.1,142.0 161.9,140.6 162.4,139.3 162.8,138.0 163.4,136.7 164.4,135.7 165.7,135.1 166.9,134.4 168.4,134.0 169.8,134.0 171.2,134.5 172.6,135.0 173.6,135.9 174.9,136.7 175.4,138.0 176.0,139.2" fill="url(#f1)"/>
<polygon points="176.0,140.6 176.0,142.0 175.4,143.2 174.7,144.4 173.8,145.4 172.6,146.2 171.3,146.8 169.8,147.0 168.4,147.0 167.0,146.7 165.6,146.3 164.5,145.4 163.4,144.5 162.6,143.3 162.1,142.0 161.9,140.6 162.4,139.3 162.8,138.0 163.4,136.7 164.4,135.7 165.7,135.1 166.9,134.4 168.4,134.0 169.8,134.0 171.2,134.5 172.6,135.0 173.6,135.9 174.9,136.7 175.4,138.0 176.0,139.2" fill="url(#sp1)"/>
<polygon points="176.0,140.6 176.0,142.0 175.4,143.2 174.7,144.4 173.8,145.4 172.6,146.2 171.3,146.8 169.8,147.0 168.4,147.0 167.0,146.7 165.6,146.3 164.5,145.4 163.4,144.5 162.6,143.3 162.1,142.0 161.9,140.6 162.4,139.3 162.8,138.0 163.4,136.7 164.4,135.7 165.7,135.1 166.9,134.4 168.4,134.0 169.8,134.0 171.2,134.5 172.6,135.0 173.6,135.9 174.9,136.7 175.4,138.0 176.0,139.2" fill="none" stroke="#5a5040" stroke-width="0.9" stroke-linejoin="round"/>
<polygon points="195.5,134.8 195.4,136.1 194.9,137.2 194.3,138.3 193.4,139.2 192.5,140.2 191.2,140.4 190.0,140.6 188.8,140.7 187.6,140.4 186.4,139.9 185.4,139.2 184.7,138.2 184.0,137.2 183.6,136.0 183.4,134.8 183.6,133.6 184.1,132.4 184.6,131.3 185.4,130.3 186.4,129.6 187.5,129.0 188.8,128.7 190.0,128.9 191.2,129.2 192.4,129.5 193.5,130.3 194.2,131.3 194.9,132.3 195.2,133.6" fill="url(#f1)"/>
<polygon points="195.5,134.8 195.4,136.1 194.9,137.2 194.3,138.3 193.4,139.2 192.5,140.2 191.2,140.4 190.0,140.6 188.8,140.7 187.6,140.4 186.4,139.9 185.4,139.2 184.7,138.2 184.0,137.2 183.6,136.0 183.4,134.8 183.6,133.6 184.1,132.4 184.6,131.3 185.4,130.3 186.4,129.6 187.5,129.0 188.8,128.7 190.0,128.9 191.2,129.2 192.4,129.5 193.5,130.3 194.2,131.3 194.9,132.3 195.2,133.6" fill="url(#sp1)"/>
<polygon points="195.5,134.8 195.4,136.1 194.9,137.2 194.3,138.3 193.4,139.2 192.5,140.2 191.2,140.4 190.0,140.6 188.8,140.7 187.6,140.4 186.4,139.9 185.4,139.2 184.7,138.2 184.0,137.2 183.6,136.0 183.4,134.8 183.6,133.6 184.1,132.4 184.6,131.3 185.4,130.3 186.4,129.6 187.5,129.0 188.8,128.7 190.0,128.9 191.2,129.2 192.4,129.5 193.5,130.3 194.2,131.3 194.9,132.3 195.2,133.6" fill="none" stroke="#5a5040" stroke-width="0.9" stroke-linejoin="round"/>
<polygon points="228.8,170.2 228.6,171.4 228.3,172.5 227.8,173.5 226.8,174.2 226.0,175.0 224.9,175.6 223.8,175.8 222.6,175.7 221.5,175.3 220.5,174.9 219.4,174.4 218.9,173.4 218.2,172.4 217.7,171.4 217.7,170.2 217.9,169.1 218.2,168.0 218.6,166.9 219.6,166.2 220.5,165.5 221.5,164.9 222.6,164.6 223.8,164.7 224.9,165.1 226.0,165.4 226.8,166.2 227.5,167.0 228.1,168.0 228.6,169.0" fill="url(#f1)"/>
<polygon points="228.8,170.2 228.6,171.4 228.3,172.5 227.8,173.5 226.8,174.2 226.0,175.0 224.9,175.6 223.8,175.8 222.6,175.7 221.5,175.3 220.5,174.9 219.4,174.4 218.9,173.4 218.2,172.4 217.7,171.4 217.7,170.2 217.9,169.1 218.2,168.0 218.6,166.9 219.6,166.2 220.5,165.5 221.5,164.9 222.6,164.6 223.8,164.7 224.9,165.1 226.0,165.4 226.8,166.2 227.5,167.0 228.1,168.0 228.6,169.0" fill="url(#sp1)"/>
<polygon points="228.8,170.2 228.6,171.4 228.3,172.5 227.8,173.5 226.8,174.2 226.0,175.0 224.9,175.6 223.8,175.8 222.6,175.7 221.5,175.3 220.5,174.9 219.4,174.4 218.9,173.4 218.2,172.4 217.7,171.4 217.7,170.2 217.9,169.1 218.2,168.0 218.6,166.9 219.6,166.2 220.5,165.5 221.5,164.9 222.6,164.6 223.8,164.7 224.9,165.1 226.0,165.4 226.8,166.2 227.5,167.0 228.1,168.0 228.6,169.0" fill="none" stroke="#5a5040" stroke-width="0.9" stroke-linejoin="round"/>
<polygon points="21.6,191.5 21.7,192.8 21.2,194.0 20.3,195.0 19.1,195.9 17.9,196.8 16.3,197.3 14.6,197.5 13.0,197.5 11.4,197.1 9.9,196.5 8.5,195.9 7.3,195.0 6.7,193.9 5.8,192.8 5.9,191.5 6.1,190.3 6.7,189.1 7.1,187.9 8.4,187.0 9.7,186.2 11.3,185.8 13.0,185.7 14.6,185.6 16.3,185.8 17.7,186.4 19.3,186.9 20.2,188.0 21.0,189.1 21.8,190.2" fill="url(#f1)"/>
<polygon points="21.6,191.5 21.7,192.8 21.2,194.0 20.3,195.0 19.1,195.9 17.9,196.8 16.3,197.3 14.6,197.5 13.0,197.5 11.4,197.1 9.9,196.5 8.5,195.9 7.3,195.0 6.7,193.9 5.8,192.8 5.9,191.5 6.1,190.3 6.7,189.1 7.1,187.9 8.4,187.0 9.7,186.2 11.3,185.8 13.0,185.7 14.6,185.6 16.3,185.8 17.7,186.4 19.3,186.9 20.2,188.0 21.0,189.1 21.8,190.2" fill="url(#sp1)"/>
<polygon points="21.6,191.5 21.7,192.8 21.2,194.0 20.3,195.0 19.1,195.9 17.9,196.8 16.3,197.3 14.6,197.5 13.0,197.5 11.4,197.1 9.9,196.5 8.5,195.9 7.3,195.0 6.7,193.9 5.8,192.8 5.9,191.5 6.1,190.3 6.7,189.1 7.1,187.9 8.4,187.0 9.7,186.2 11.3,185.8 13.0,185.7 14.6,185.6 16.3,185.8 17.7,186.4 19.3,186.9 20.2,188.0 21.0,189.1 21.8,190.2" fill="none" stroke="#5a5040" stroke-width="0.9" stroke-linejoin="round"/>
<circle cx="225.1" cy="164.7" r="0.6" fill="#3e4a58" opacity="0.60"/>
<circle cx="164.5" cy="171.8" r="0.8" fill="#3e4a58" opacity="0.76"/>
<circle cx="178.7" cy="120.7" r="0.9" fill="#3e4a58" opacity="0.84"/>
<circle cx="224.2" cy="175.0" r="0.9" fill="#3e4a58" opacity="0.75"/>
<circle cx="169.7" cy="148.1" r="0.7" fill="#3e4a58" opacity="0.46"/>
<circle cx="152.4" cy="126.0" r="0.6" fill="#3e4a58" opacity="0.73"/>
<circle cx="233.2" cy="141.6" r="1.0" fill="#3e4a58" opacity="0.85"/>
<circle cx="233.1" cy="133.9" r="0.6" fill="#3e4a58" opacity="0.54"/>
<circle cx="167.1" cy="119.0" r="0.8" fill="#3e4a58" opacity="0.81"/>
<circle cx="223.1" cy="144.6" r="0.8" fill="#3e4a58" opacity="0.77"/>
<circle cx="157.4" cy="161.4" r="1.0" fill="#3e4a58" opacity="0.76"/>
<circle cx="215.3" cy="144.5" r="0.6" fill="#3e4a58" opacity="0.77"/>
<circle cx="178.9" cy="174.5" r="1.0" fill="#3e4a58" opacity="0.61"/>
<circle cx="184.9" cy="188.1" r="0.9" fill="#3e4a58" opacity="0.52"/>
<circle cx="161.1" cy="114.1" r="1.0" fill="#3e4a58" opacity="0.77"/>
<circle cx="162.7" cy="176.9" r="1.0" fill="#3e4a58" opacity="0.71"/>
<circle cx="180.5" cy="151.0" r="0.5" fill="#3e4a58" opacity="0.46"/>
<circle cx="234.5" cy="160.4" r="0.8" fill="#3e4a58" opacity="0.82"/>
<circle cx="187.7" cy="181.1" r="0.9" fill="#3e4a58" opacity="0.53"/>
<circle cx="171.9" cy="127.2" r="0.6" fill="#3e4a58" opacity="0.68"/>
<circle cx="172.6" cy="139.0" r="0.5" fill="#3e4a58" opacity="0.81"/>
<circle cx="180.8" cy="142.6" r="0.8" fill="#3e4a58" opacity="0.81"/>
<circle cx="186.6" cy="185.3" r="0.8" fill="#3e4a58" opacity="0.66"/>
<circle cx="195.5" cy="101.7" r="0.7" fill="#3e4a58" opacity="0.52"/>
<circle cx="150.3" cy="174.3" r="0.6" fill="#3e4a58" opacity="0.64"/>
<circle cx="213.1" cy="151.8" r="0.6" fill="#3e4a58" opacity="0.66"/>
<circle cx="198.3" cy="172.9" r="0.5" fill="#3e4a58" opacity="0.67"/>
<circle cx="171.6" cy="125.8" r="0.9" fill="#3e4a58" opacity="0.65"/>
<circle cx="198.9" cy="170.7" r="1.0" fill="#3e4a58" opacity="0.63"/>
<circle cx="203.3" cy="147.0" r="0.8" fill="#3e4a58" opacity="0.73"/>
<circle cx="189.4" cy="149.6" r="0.7" fill="#3e4a58" opacity="0.83"/>
<circle cx="210.8" cy="181.5" r="1.0" fill="#3e4a58" opacity="0.55"/>
<circle cx="198.7" cy="187.7" r="1.0" fill="#3e4a58" opacity="0.50"/>
<circle cx="160.6" cy="141.1" r="0.5" fill="#3e4a58" opacity="0.55"/>
<circle cx="156.4" cy="162.3" r="0.9" fill="#3e4a58" opacity="0.81"/>
<rect x="197" y="185.8" width="33.5" height="2.3" fill="#000"/>
</g>
<g clip-path="url(#c2)">
<rect x="245" y="35" width="228" height="158" fill="url(#g2)"/>
<rect x="245" y="35" width="228" height="158" fill="url(#g2b)"/>
<rect x="245" y="35" width="228" height="158" fill="url(#g2c)"/>
<circle cx="280.2" cy="148.1" r="0.8" fill="#5a4a3c" opacity="0.35"/>
<circle cx="446.3" cy="187.9" r="0.6" fill="#5a4a3c" opacity="0.63"/>
<circle cx="335.8" cy="112.0" r="1.0" fill="#5a4a3c" opacity="0.59"/>
<circle cx="281.8" cy="103.2" r="0.8" fill="#5a4a3c" opacity="0.42"/>
<circle cx="289.6" cy="85.3" r="0.9" fill="#5a4a3c" opacity="0.31"/>
<circle cx="371.3" cy="104.6" r="0.5" fill="#5a4a3c" opacity="0.42"/>
<circle cx="387.3" cy="115.9" r="0.5" fill="#5a4a3c" opacity="0.64"/>
<circle cx="424.7" cy="188.5" r="0.5" fill="#5a4a3c" opacity="0.39"/>
<circle cx="254.0" cy="158.1" r="0.6" fill="#5a4a3c" opacity="0.35"/>
<circle cx="341.3" cy="179.0" r="0.9" fill="#5a4a3c" opacity="0.39"/>
<circle cx="279.1" cy="180.2" r="0.8" fill="#5a4a3c" opacity="0.55"/>
<circle cx="265.4" cy="44.1" r="0.9" fill="#5a4a3c" opacity="0.45"/>
<circle cx="261.5" cy="183.3" r="0.8" fill="#5a4a3c" opacity="0.58"/>
<circle cx="264.1" cy="170.3" r="0.5" fill="#5a4a3c" opacity="0.60"/>
<circle cx="348.5" cy="88.6" r="0.8" fill="#5a4a3c" opacity="0.62"/>
<circle cx="306.1" cy="55.4" r="0.8" fill="#5a4a3c" opacity="0.38"/>
<circle cx="270.0" cy="60.5" r="0.5" fill="#5a4a3c" opacity="0.37"/>
<circle cx="316.1" cy="83.2" r="0.9" fill="#5a4a3c" opacity="0.40"/>
<circle cx="359.0" cy="63.1" r="0.7" fill="#5a4a3c" opacity="0.31"/>
<circle cx="302.1" cy="37.4" r="0.9" fill="#5a4a3c" opacity="0.49"/>
<circle cx="288.2" cy="110.0" r="1.0" fill="#5a4a3c" opacity="0.34"/>
<circle cx="431.7" cy="103.3" r="0.7" fill="#5a4a3c" opacity="0.59"/>
<circle cx="334.6" cy="115.1" r="0.9" fill="#5a4a3c" opacity="0.64"/>
<circle cx="323.1" cy="166.5" r="0.9" fill="#5a4a3c" opacity="0.52"/>
<circle cx="337.3" cy="89.9" r="0.5" fill="#5a4a3c" opacity="0.35"/>
<circle cx="261.1" cy="152.1" r="0.6" fill="#5a4a3c" opacity="0.36"/>
<circle cx="264.3" cy="167.9" r="1.0" fill="#5a4a3c" opacity="0.53"/>
<circle cx="309.3" cy="73.3" r="0.6" fill="#5a4a3c" opacity="0.46"/>
<circle cx="280.9" cy="105.4" r="0.6" fill="#5a4a3c" opacity="0.64"/>
<circle cx="466.8" cy="121.4" r="0.6" fill="#5a4a3c" opacity="0.64"/>
<circle cx="315.6" cy="91.3" r="0.5" fill="#5a4a3c" opacity="0.43"/>
<circle cx="353.2" cy="114.4" r="0.6" fill="#5a4a3c" opacity="0.48"/>
<circle cx="246.1" cy="76.7" r="0.5" fill="#5a4a3c" opacity="0.44"/>
<circle cx="254.5" cy="38.6" r="0.6" fill="#5a4a3c" opacity="0.38"/>
<circle cx="378.5" cy="118.6" r="0.9" fill="#5a4a3c" opacity="0.53"/>
<circle cx="408.2" cy="173.9" r="0.7" fill="#5a4a3c" opacity="0.41"/>
<circle cx="469.5" cy="58.6" r="0.9" fill="#5a4a3c" opacity="0.53"/>
<circle cx="255.0" cy="167.0" r="1.0" fill="#5a4a3c" opacity="0.52"/>
<circle cx="412.3" cy="163.3" r="0.5" fill="#5a4a3c" opacity="0.48"/>
<circle cx="360.0" cy="166.9" r="0.9" fill="#5a4a3c" opacity="0.59"/>
<circle cx="378.2" cy="176.1" r="0.9" fill="#5a4a3c" opacity="0.54"/>
<circle cx="297.4" cy="39.9" r="0.5" fill="#5a4a3c" opacity="0.43"/>
<circle cx="268.9" cy="167.1" r="0.8" fill="#5a4a3c" opacity="0.52"/>
<circle cx="387.8" cy="142.5" r="0.7" fill="#5a4a3c" opacity="0.30"/>
<circle cx="426.9" cy="153.2" r="0.8" fill="#5a4a3c" opacity="0.49"/>
<circle cx="395.3" cy="45.4" r="0.9" fill="#5a4a3c" opacity="0.39"/>
<circle cx="262.0" cy="77.0" r="0.9" fill="#5a4a3c" opacity="0.37"/>
<circle cx="413.7" cy="189.2" r="0.7" fill="#5a4a3c" opacity="0.43"/>
<circle cx="354.2" cy="143.0" r="0.9" fill="#5a4a3c" opacity="0.52"/>
<circle cx="391.5" cy="47.2" r="0.5" fill="#5a4a3c" opacity="0.39"/>
<circle cx="414.5" cy="83.1" r="0.8" fill="#5a4a3c" opacity="0.30"/>
<circle cx="258.8" cy="77.5" r="0.9" fill="#5a4a3c" opacity="0.54"/>
<circle cx="399.1" cy="81.0" r="0.8" fill="#5a4a3c" opacity="0.46"/>
<circle cx="351.3" cy="53.7" r="1.0" fill="#5a4a3c" opacity="0.37"/>
<circle cx="468.0" cy="182.9" r="0.5" fill="#5a4a3c" opacity="0.46"/>
<circle cx="431.9" cy="188.0" r="0.7" fill="#5a4a3c" opacity="0.39"/>
<circle cx="292.8" cy="184.4" r="0.6" fill="#5a4a3c" opacity="0.50"/>
<circle cx="277.3" cy="117.8" r="1.0" fill="#5a4a3c" opacity="0.35"/>
<circle cx="432.0" cy="115.4" r="1.0" fill="#5a4a3c" opacity="0.55"/>
<circle cx="297.8" cy="176.8" r="0.7" fill="#5a4a3c" opacity="0.31"/>
<polygon points="304.4,76.8 304.4,78.8 303.9,80.7 302.6,82.5 300.9,84.0 298.7,85.0 296.5,86.1 294.0,86.3 291.5,85.9 289.0,85.8 286.9,84.7 284.4,84.1 282.6,82.6 281.9,80.6 281.1,78.7 280.4,76.8 281.2,74.9 282.0,73.0 283.2,71.4 284.8,69.8 286.6,68.5 288.9,67.4 291.5,67.6 294.0,67.0 296.4,67.7 298.9,68.3 300.9,69.6 302.1,71.4 303.8,72.9 304.1,74.9" fill="url(#f2)"/>
<polygon points="304.4,76.8 304.4,78.8 303.9,80.7 302.6,82.5 300.9,84.0 298.7,85.0 296.5,86.1 294.0,86.3 291.5,85.9 289.0,85.8 286.9,84.7 284.4,84.1 282.6,82.6 281.9,80.6 281.1,78.7 280.4,76.8 281.2,74.9 282.0,73.0 283.2,71.4 284.8,69.8 286.6,68.5 288.9,67.4 291.5,67.6 294.0,67.0 296.4,67.7 298.9,68.3 300.9,69.6 302.1,71.4 303.8,72.9 304.1,74.9" fill="url(#sp2)"/>
<polygon points="304.4,76.8 304.4,78.8 303.9,80.7 302.6,82.5 300.9,84.0 298.7,85.0 296.5,86.1 294.0,86.3 291.5,85.9 289.0,85.8 286.9,84.7 284.4,84.1 282.6,82.6 281.9,80.6 281.1,78.7 280.4,76.8 281.2,74.9 282.0,73.0 283.2,71.4 284.8,69.8 286.6,68.5 288.9,67.4 291.5,67.6 294.0,67.0 296.4,67.7 298.9,68.3 300.9,69.6 302.1,71.4 303.8,72.9 304.1,74.9" fill="none" stroke="#6c523a" stroke-width="0.9" stroke-linejoin="round"/>
<polygon points="291.1,62.4 286.3,63.9 285.5,65.3 284.3,66.4 283.3,67.7 283.1,70.4 279.9,68.8 278.1,69.3 276.3,69.3 274.4,69.0 272.7,68.4 271.4,67.4 269.8,66.6 268.7,65.3 268.5,63.8 268.3,62.4 268.7,61.0 269.0,59.5 270.2,58.4 271.4,57.4 271.7,55.0 273.3,53.1 276.2,55.3 278.2,55.4 280.0,55.7 281.6,56.4 283.3,57.1 285.7,57.6 285.3,59.6 286.3,60.9" fill="url(#f2)"/>
<polygon points="291.1,62.4 286.3,63.9 285.5,65.3 284.3,66.4 283.3,67.7 283.1,70.4 279.9,68.8 278.1,69.3 276.3,69.3 274.4,69.0 272.7,68.4 271.4,67.4 269.8,66.6 268.7,65.3 268.5,63.8 268.3,62.4 268.7,61.0 269.0,59.5 270.2,58.4 271.4,57.4 271.7,55.0 273.3,53.1 276.2,55.3 278.2,55.4 280.0,55.7 281.6,56.4 283.3,57.1 285.7,57.6 285.3,59.6 286.3,60.9" fill="url(#sp2)"/>
<polygon points="291.1,62.4 286.3,63.9 285.5,65.3 284.3,66.4 283.3,67.7 283.1,70.4 279.9,68.8 278.1,69.3 276.3,69.3 274.4,69.0 272.7,68.4 271.4,67.4 269.8,66.6 268.7,65.3 268.5,63.8 268.3,62.4 268.7,61.0 269.0,59.5 270.2,58.4 271.4,57.4 271.7,55.0 273.3,53.1 276.2,55.3 278.2,55.4 280.0,55.7 281.6,56.4 283.3,57.1 285.7,57.6 285.3,59.6 286.3,60.9" fill="none" stroke="#6c523a" stroke-width="0.9" stroke-linejoin="round"/>
<polygon points="323.2,43.0 323.0,44.0 322.8,45.1 322.0,46.0 320.7,46.6 319.7,47.4 318.3,47.9 316.9,49.1 315.1,48.1 313.6,47.8 310.7,49.0 311.0,46.6 309.8,46.0 307.1,45.6 308.5,44.1 308.3,43.0 308.6,42.0 306.5,40.2 309.8,40.0 310.9,39.3 312.1,38.6 313.5,38.1 315.1,38.0 316.7,38.0 318.3,38.1 319.6,38.7 321.0,39.3 322.0,40.0 323.0,40.9 323.2,42.0" fill="url(#f2)"/>
<polygon points="323.2,43.0 323.0,44.0 322.8,45.1 322.0,46.0 320.7,46.6 319.7,47.4 318.3,47.9 316.9,49.1 315.1,48.1 313.6,47.8 310.7,49.0 311.0,46.6 309.8,46.0 307.1,45.6 308.5,44.1 308.3,43.0 308.6,42.0 306.5,40.2 309.8,40.0 310.9,39.3 312.1,38.6 313.5,38.1 315.1,38.0 316.7,38.0 318.3,38.1 319.6,38.7 321.0,39.3 322.0,40.0 323.0,40.9 323.2,42.0" fill="url(#sp2)"/>
<polygon points="323.2,43.0 323.0,44.0 322.8,45.1 322.0,46.0 320.7,46.6 319.7,47.4 318.3,47.9 316.9,49.1 315.1,48.1 313.6,47.8 310.7,49.0 311.0,46.6 309.8,46.0 307.1,45.6 308.5,44.1 308.3,43.0 308.6,42.0 306.5,40.2 309.8,40.0 310.9,39.3 312.1,38.6 313.5,38.1 315.1,38.0 316.7,38.0 318.3,38.1 319.6,38.7 321.0,39.3 322.0,40.0 323.0,40.9 323.2,42.0" fill="none" stroke="#6c523a" stroke-width="0.9" stroke-linejoin="round"/>
<polygon points="270.9,103.6 270.2,105.7 269.7,107.7 268.6,109.6 266.7,110.9 264.8,112.0 262.9,113.2 260.6,113.2 258.4,113.5 256.0,113.4 253.8,112.5 252.4,110.8 250.9,109.3 249.7,107.6 248.5,105.7 248.9,103.6 249.0,101.6 249.8,99.7 250.9,97.9 252.1,96.2 254.1,95.2 256.1,94.2 258.3,93.5 260.7,93.5 262.9,94.2 265.1,94.7 266.9,96.1 268.6,97.6 269.3,99.6 270.1,101.5" fill="url(#f2)"/>
<polygon points="270.9,103.6 270.2,105.7 269.7,107.7 268.6,109.6 266.7,110.9 264.8,112.0 262.9,113.2 260.6,113.2 258.4,113.5 256.0,113.4 253.8,112.5 252.4,110.8 250.9,109.3 249.7,107.6 248.5,105.7 248.9,103.6 249.0,101.6 249.8,99.7 250.9,97.9 252.1,96.2 254.1,95.2 256.1,94.2 258.3,93.5 260.7,93.5 262.9,94.2 265.1,94.7 266.9,96.1 268.6,97.6 269.3,99.6 270.1,101.5" fill="url(#sp2)"/>
<polygon points="270.9,103.6 270.2,105.7 269.7,107.7 268.6,109.6 266.7,110.9 264.8,112.0 262.9,113.2 260.6,113.2 258.4,113.5 256.0,113.4 253.8,112.5 252.4,110.8 250.9,109.3 249.7,107.6 248.5,105.7 248.9,103.6 249.0,101.6 249.8,99.7 250.9,97.9 252.1,96.2 254.1,95.2 256.1,94.2 258.3,93.5 260.7,93.5 262.9,94.2 265.1,94.7 266.9,96.1 268.6,97.6 269.3,99.6 270.1,101.5" fill="none" stroke="#6c523a" stroke-width="0.9" stroke-linejoin="round"/>
<polygon points="315.3,118.0 314.9,119.9 313.8,121.6 315.4,124.8 314.8,127.9 309.3,125.7 307.4,126.8 305.0,126.9 302.7,127.0 300.5,126.5 298.4,125.8 296.7,124.5 295.3,123.1 293.6,121.7 293.4,119.8 292.5,118.0 287.2,115.1 294.2,114.5 294.8,112.6 296.5,111.2 296.0,106.8 300.6,109.8 302.3,105.7 305.2,107.6 307.4,109.2 309.2,110.5 311.4,111.2 312.8,112.7 314.1,114.3 315.0,116.1" fill="url(#f2)"/>
<polygon points="315.3,118.0 314.9,119.9 313.8,121.6 315.4,124.8 314.8,127.9 309.3,125.7 307.4,126.8 305.0,126.9 302.7,127.0 300.5,126.5 298.4,125.8 296.7,124.5 295.3,123.1 293.6,121.7 293.4,119.8 292.5,118.0 287.2,115.1 294.2,114.5 294.8,112.6 296.5,111.2 296.0,106.8 300.6,109.8 302.3,105.7 305.2,107.6 307.4,109.2 309.2,110.5 311.4,111.2 312.8,112.7 314.1,114.3 315.0,116.1" fill="url(#sp2)"/>
<polygon points="315.3,118.0 314.9,119.9 313.8,121.6 315.4,124.8 314.8,127.9 309.3,125.7 307.4,126.8 305.0,126.9 302.7,127.0 300.5,126.5 298.4,125.8 296.7,124.5 295.3,123.1 293.6,121.7 293.4,119.8 292.5,118.0 287.2,115.1 294.2,114.5 294.8,112.6 296.5,111.2 296.0,106.8 300.6,109.8 302.3,105.7 305.2,107.6 307.4,109.2 309.2,110.5 311.4,111.2 312.8,112.7 314.1,114.3 315.0,116.1" fill="none" stroke="#6c523a" stroke-width="0.9" stroke-linejoin="round"/>
<polygon points="351.7,101.0 351.3,102.2 351.1,103.5 350.5,104.7 349.5,105.4 348.6,106.3 347.3,106.6 346.1,106.8 344.9,106.9 343.6,106.8 342.6,106.0 341.4,105.5 340.7,104.5 340.2,103.4 339.7,102.2 339.6,101.0 339.6,99.8 339.9,98.5 340.5,97.4 341.6,96.6 342.4,95.6 343.6,95.2 344.8,94.8 346.1,94.9 347.4,95.3 348.4,95.9 349.7,96.4 350.5,97.3 351.0,98.5 351.2,99.8" fill="url(#f2)"/>
<polygon points="351.7,101.0 351.3,102.2 351.1,103.5 350.5,104.7 349.5,105.4 348.6,106.3 347.3,106.6 346.1,106.8 344.9,106.9 343.6,106.8 342.6,106.0 341.4,105.5 340.7,104.5 340.2,103.4 339.7,102.2 339.6,101.0 339.6,99.8 339.9,98.5 340.5,97.4 341.6,96.6 342.4,95.6 343.6,95.2 344.8,94.8 346.1,94.9 347.4,95.3 348.4,95.9 349.7,96.4 350.5,97.3 351.0,98.5 351.2,99.8" fill="url(#sp2)"/>
<polygon points="351.7,101.0 351.3,102.2 351.1,103.5 350.5,104.7 349.5,105.4 348.6,106.3 347.3,106.6 346.1,106.8 344.9,106.9 343.6,106.8 342.6,106.0 341.4,105.5 340.7,104.5 340.2,103.4 339.7,102.2 339.6,101.0 339.6,99.8 339.9,98.5 340.5,97.4 341.6,96.6 342.4,95.6 343.6,95.2 344.8,94.8 346.1,94.9 347.4,95.3 348.4,95.9 349.7,96.4 350.5,97.3 351.0,98.5 351.2,99.8" fill="none" stroke="#6c523a" stroke-width="0.9" stroke-linejoin="round"/>
<polygon points="378.3,68.2 378.3,69.4 377.5,70.4 377.2,71.5 376.3,72.4 375.1,72.8 374.1,73.6 372.8,73.8 371.6,73.5 370.3,73.6 369.2,72.9 368.2,72.3 367.3,71.5 366.6,70.5 366.2,69.4 366.3,68.2 366.3,67.1 366.9,66.0 367.4,65.0 368.2,64.1 369.3,63.6 370.4,63.0 371.6,62.6 372.8,62.9 374.0,63.0 375.1,63.6 376.3,64.0 376.9,65.1 377.5,66.0 378.2,67.0" fill="url(#f2)"/>
<polygon points="378.3,68.2 378.3,69.4 377.5,70.4 377.2,71.5 376.3,72.4 375.1,72.8 374.1,73.6 372.8,73.8 371.6,73.5 370.3,73.6 369.2,72.9 368.2,72.3 367.3,71.5 366.6,70.5 366.2,69.4 366.3,68.2 366.3,67.1 366.9,66.0 367.4,65.0 368.2,64.1 369.3,63.6 370.4,63.0 371.6,62.6 372.8,62.9 374.0,63.0 375.1,63.6 376.3,64.0 376.9,65.1 377.5,66.0 378.2,67.0" fill="url(#sp2)"/>
<polygon points="378.3,68.2 378.3,69.4 377.5,70.4 377.2,71.5 376.3,72.4 375.1,72.8 374.1,73.6 372.8,73.8 371.6,73.5 370.3,73.6 369.2,72.9 368.2,72.3 367.3,71.5 366.6,70.5 366.2,69.4 366.3,68.2 366.3,67.1 366.9,66.0 367.4,65.0 368.2,64.1 369.3,63.6 370.4,63.0 371.6,62.6 372.8,62.9 374.0,63.0 375.1,63.6 376.3,64.0 376.9,65.1 377.5,66.0 378.2,67.0" fill="none" stroke="#6c523a" stroke-width="0.9" stroke-linejoin="round"/>
<polygon points="407.5,62.4 407.5,63.9 407.2,65.4 406.3,66.6 405.3,67.6 404.0,68.4 402.7,68.9 401.4,69.6 399.9,69.5 398.5,68.9 397.1,68.5 395.8,67.7 394.8,66.6 394.3,65.2 393.9,63.8 393.8,62.4 393.7,60.9 394.0,59.5 394.8,58.2 396.1,57.3 397.1,56.4 398.5,56.0 399.9,55.6 401.3,55.4 402.7,55.9 404.0,56.4 405.2,57.3 406.2,58.3 407.2,59.5 407.3,61.0" fill="url(#f2)"/>
<polygon points="407.5,62.4 407.5,63.9 407.2,65.4 406.3,66.6 405.3,67.6 404.0,68.4 402.7,68.9 401.4,69.6 399.9,69.5 398.5,68.9 397.1,68.5 395.8,67.7 394.8,66.6 394.3,65.2 393.9,63.8 393.8,62.4 393.7,60.9 394.0,59.5 394.8,58.2 396.1,57.3 397.1,56.4 398.5,56.0 399.9,55.6 401.3,55.4 402.7,55.9 404.0,56.4 405.2,57.3 406.2,58.3 407.2,59.5 407.3,61.0" fill="url(#sp2)"/>
<polygon points="407.5,62.4 407.5,63.9 407.2,65.4 406.3,66.6 405.3,67.6 404.0,68.4 402.7,68.9 401.4,69.6 399.9,69.5 398.5,68.9 397.1,68.5 395.8,67.7 394.8,66.6 394.3,65.2 393.9,63.8 393.8,62.4 393.7,60.9 394.0,59.5 394.8,58.2 396.1,57.3 397.1,56.4 398.5,56.0 399.9,55.6 401.3,55.4 402.7,55.9 404.0,56.4 405.2,57.3 406.2,58.3 407.2,59.5 407.3,61.0" fill="none" stroke="#6c523a" stroke-width="0.9" stroke-linejoin="round"/>
<polygon points="375.8,38.9 376.0,40.2 375.6,41.4 374.6,42.4 373.6,43.3 372.4,44.0 371.1,44.4 369.7,44.7 368.3,44.7 366.8,44.8 365.6,44.0 364.4,43.2 363.1,42.5 362.4,41.4 362.4,40.1 362.1,38.9 361.9,37.6 362.7,36.5 363.3,35.3 364.2,34.4 365.5,33.6 366.9,33.4 368.3,32.8 369.8,32.8 371.2,33.2 372.5,33.8 373.8,34.4 374.9,35.2 375.6,36.4 375.7,37.7" fill="url(#f2)"/>
<polygon points="375.8,38.9 376.0,40.2 375.6,41.4 374.6,42.4 373.6,43.3 372.4,44.0 371.1,44.4 369.7,44.7 368.3,44.7 366.8,44.8 365.6,44.0 364.4,43.2 363.1,42.5 362.4,41.4 362.4,40.1 362.1,38.9 361.9,37.6 362.7,36.5 363.3,35.3 364.2,34.4 365.5,33.6 366.9,33.4 368.3,32.8 369.8,32.8 371.2,33.2 372.5,33.8 373.8,34.4 374.9,35.2 375.6,36.4 375.7,37.7" fill="url(#sp2)"/>
<polygon points="375.8,38.9 376.0,40.2 375.6,41.4 374.6,42.4 373.6,43.3 372.4,44.0 371.1,44.4 369.7,44.7 368.3,44.7 366.8,44.8 365.6,44.0 364.4,43.2 363.1,42.5 362.4,41.4 362.4,40.1 362.1,38.9 361.9,37.6 362.7,36.5 363.3,35.3 364.2,34.4 365.5,33.6 366.9,33.4 368.3,32.8 369.8,32.8 371.2,33.2 372.5,33.8 373.8,34.4 374.9,35.2 375.6,36.4 375.7,37.7" fill="none" stroke="#6c523a" stroke-width="0.9" stroke-linejoin="round"/>
<polygon points="440.6,63.3 444.0,65.6 440.3,66.7 439.1,68.0 437.8,69.2 436.4,70.4 434.7,71.1 432.7,71.3 430.9,71.0 429.0,71.1 425.2,73.5 425.5,69.5 424.4,68.1 423.6,66.5 423.3,64.9 422.9,63.3 423.0,61.6 423.3,59.9 424.4,58.5 425.7,57.3 425.6,53.7 429.0,55.6 430.8,55.1 432.7,55.4 434.6,55.5 436.2,56.4 437.9,57.3 439.2,58.5 440.0,60.1 440.4,61.7" fill="url(#f2)"/>
<polygon points="440.6,63.3 444.0,65.6 440.3,66.7 439.1,68.0 437.8,69.2 436.4,70.4 434.7,71.1 432.7,71.3 430.9,71.0 429.0,71.1 425.2,73.5 425.5,69.5 424.4,68.1 423.6,66.5 423.3,64.9 422.9,63.3 423.0,61.6 423.3,59.9 424.4,58.5 425.7,57.3 425.6,53.7 429.0,55.6 430.8,55.1 432.7,55.4 434.6,55.5 436.2,56.4 437.9,57.3 439.2,58.5 440.0,60.1 440.4,61.7" fill="url(#sp2)"/>
<polygon points="440.6,63.3 444.0,65.6 440.3,66.7 439.1,68.0 437.8,69.2 436.4,70.4 434.7,71.1 432.7,71.3 430.9,71.0 429.0,71.1 425.2,73.5 425.5,69.5 424.4,68.1 423.6,66.5 423.3,64.9 422.9,63.3 423.0,61.6 423.3,59.9 424.4,58.5 425.7,57.3 425.6,53.7 429.0,55.6 430.8,55.1 432.7,55.4 434.6,55.5 436.2,56.4 437.9,57.3 439.2,58.5 440.0,60.1 440.4,61.7" fill="none" stroke="#6c523a" stroke-width="0.9" stroke-linejoin="round"/>
<polygon points="464.1,104.2 463.7,106.1 462.7,107.9 464.7,111.3 463.5,114.0 458.4,112.3 456.1,112.9 453.8,113.1 451.5,113.3 449.3,112.7 447.0,112.3 445.2,111.0 443.5,109.7 442.3,108.0 442.0,106.1 441.7,104.2 441.9,102.3 438.1,98.9 443.5,98.7 445.6,97.8 447.4,96.6 449.4,95.8 451.6,95.3 453.9,95.2 456.0,96.0 458.2,96.5 463.9,94.0 461.6,98.9 463.1,100.4 463.1,102.4" fill="url(#f2)"/>
<polygon points="464.1,104.2 463.7,106.1 462.7,107.9 464.7,111.3 463.5,114.0 458.4,112.3 456.1,112.9 453.8,113.1 451.5,113.3 449.3,112.7 447.0,112.3 445.2,111.0 443.5,109.7 442.3,108.0 442.0,106.1 441.7,104.2 441.9,102.3 438.1,98.9 443.5,98.7 445.6,97.8 447.4,96.6 449.4,95.8 451.6,95.3 453.9,95.2 456.0,96.0 458.2,96.5 463.9,94.0 461.6,98.9 463.1,100.4 463.1,102.4" fill="url(#sp2)"/>
<polygon points="464.1,104.2 463.7,106.1 462.7,107.9 464.7,111.3 463.5,114.0 458.4,112.3 456.1,112.9 453.8,113.1 451.5,113.3 449.3,112.7 447.0,112.3 445.2,111.0 443.5,109.7 442.3,108.0 442.0,106.1 441.7,104.2 441.9,102.3 438.1,98.9 443.5,98.7 445.6,97.8 447.4,96.6 449.4,95.8 451.6,95.3 453.9,95.2 456.0,96.0 458.2,96.5 463.9,94.0 461.6,98.9 463.1,100.4 463.1,102.4" fill="none" stroke="#6c523a" stroke-width="0.9" stroke-linejoin="round"/>
<polygon points="413.1,114.8 412.5,116.4 412.4,118.2 411.3,119.5 410.0,120.7 408.7,121.8 407.0,122.2 405.3,122.6 403.5,122.7 401.8,122.2 400.1,121.8 398.8,120.7 397.6,119.5 396.8,118.0 396.3,116.4 395.8,114.8 395.8,113.1 396.7,111.6 397.4,110.0 398.8,108.9 400.1,107.7 401.8,107.4 403.5,106.8 405.3,106.9 407.1,107.0 408.7,107.7 409.9,109.0 411.1,110.2 412.1,111.6 412.5,113.2" fill="url(#f2)"/>
<polygon points="413.1,114.8 412.5,116.4 412.4,118.2 411.3,119.5 410.0,120.7 408.7,121.8 407.0,122.2 405.3,122.6 403.5,122.7 401.8,122.2 400.1,121.8 398.8,120.7 397.6,119.5 396.8,118.0 396.3,116.4 395.8,114.8 395.8,113.1 396.7,111.6 397.4,110.0 398.8,108.9 400.1,107.7 401.8,107.4 403.5,106.8 405.3,106.9 407.1,107.0 408.7,107.7 409.9,109.0 411.1,110.2 412.1,111.6 412.5,113.2" fill="url(#sp2)"/>
<polygon points="413.1,114.8 412.5,116.4 412.4,118.2 411.3,119.5 410.0,120.7 408.7,121.8 407.0,122.2 405.3,122.6 403.5,122.7 401.8,122.2 400.1,121.8 398.8,120.7 397.6,119.5 396.8,118.0 396.3,116.4 395.8,114.8 395.8,113.1 396.7,111.6 397.4,110.0 398.8,108.9 400.1,107.7 401.8,107.4 403.5,106.8 405.3,106.9 407.1,107.0 408.7,107.7 409.9,109.0 411.1,110.2 412.1,111.6 412.5,113.2" fill="none" stroke="#6c523a" stroke-width="0.9" stroke-linejoin="round"/>
<polygon points="459.1,132.2 459.0,133.8 458.5,135.3 457.7,136.7 456.6,138.0 455.2,138.8 453.5,139.1 451.9,139.5 450.3,139.6 448.6,139.3 447.0,138.9 445.6,137.9 444.6,136.6 443.9,135.2 443.4,133.7 443.0,132.2 443.0,130.6 444.0,129.2 444.7,127.8 445.8,126.7 447.1,125.6 448.7,125.2 450.3,125.0 451.9,124.6 453.5,125.2 455.1,125.6 456.6,126.4 457.6,127.8 458.6,129.0 459.1,130.6" fill="url(#f2)"/>
<polygon points="459.1,132.2 459.0,133.8 458.5,135.3 457.7,136.7 456.6,138.0 455.2,138.8 453.5,139.1 451.9,139.5 450.3,139.6 448.6,139.3 447.0,138.9 445.6,137.9 444.6,136.6 443.9,135.2 443.4,133.7 443.0,132.2 443.0,130.6 444.0,129.2 444.7,127.8 445.8,126.7 447.1,125.6 448.7,125.2 450.3,125.0 451.9,124.6 453.5,125.2 455.1,125.6 456.6,126.4 457.6,127.8 458.6,129.0 459.1,130.6" fill="url(#sp2)"/>
<polygon points="459.1,132.2 459.0,133.8 458.5,135.3 457.7,136.7 456.6,138.0 455.2,138.8 453.5,139.1 451.9,139.5 450.3,139.6 448.6,139.3 447.0,138.9 445.6,137.9 444.6,136.6 443.9,135.2 443.4,133.7 443.0,132.2 443.0,130.6 444.0,129.2 444.7,127.8 445.8,126.7 447.1,125.6 448.7,125.2 450.3,125.0 451.9,124.6 453.5,125.2 455.1,125.6 456.6,126.4 457.6,127.8 458.6,129.0 459.1,130.6" fill="none" stroke="#6c523a" stroke-width="0.9" stroke-linejoin="round"/>
<polygon points="342.3,159.9 346.1,162.8 341.7,163.9 341.1,165.9 339.7,167.4 338.0,168.4 336.4,169.3 334.6,170.2 332.7,169.5 330.7,169.8 329.1,168.6 327.5,167.4 326.4,165.7 325.6,163.9 325.1,161.9 324.4,159.9 324.9,157.9 325.2,155.7 326.1,153.8 326.2,150.8 329.0,151.1 330.9,150.7 332.7,149.9 334.5,150.2 336.3,150.7 338.2,151.1 339.8,152.2 340.7,154.2 342.1,155.7 342.6,157.8" fill="url(#f2)"/>
<polygon points="342.3,159.9 346.1,162.8 341.7,163.9 341.1,165.9 339.7,167.4 338.0,168.4 336.4,169.3 334.6,170.2 332.7,169.5 330.7,169.8 329.1,168.6 327.5,167.4 326.4,165.7 325.6,163.9 325.1,161.9 324.4,159.9 324.9,157.9 325.2,155.7 326.1,153.8 326.2,150.8 329.0,151.1 330.9,150.7 332.7,149.9 334.5,150.2 336.3,150.7 338.2,151.1 339.8,152.2 340.7,154.2 342.1,155.7 342.6,157.8" fill="url(#sp2)"/>
<polygon points="342.3,159.9 346.1,162.8 341.7,163.9 341.1,165.9 339.7,167.4 338.0,168.4 336.4,169.3 334.6,170.2 332.7,169.5 330.7,169.8 329.1,168.6 327.5,167.4 326.4,165.7 325.6,163.9 325.1,161.9 324.4,159.9 324.9,157.9 325.2,155.7 326.1,153.8 326.2,150.8 329.0,151.1 330.9,150.7 332.7,149.9 334.5,150.2 336.3,150.7 338.2,151.1 339.8,152.2 340.7,154.2 342.1,155.7 342.6,157.8" fill="none" stroke="#6c523a" stroke-width="0.9" stroke-linejoin="round"/>
<polygon points="375.5,167.0 375.2,168.8 375.0,170.7 373.8,172.2 372.8,173.8 371.1,174.6 369.6,175.9 367.7,176.1 365.8,175.8 364.0,175.3 362.1,175.0 360.5,173.9 359.5,172.2 358.7,170.5 357.6,168.9 357.4,167.0 357.9,165.1 358.7,163.5 359.3,161.6 360.5,160.1 362.3,159.3 363.9,158.5 365.7,157.8 367.7,157.9 369.6,158.2 371.2,159.1 372.6,160.5 374.2,161.5 375.1,163.2 375.8,165.1" fill="url(#f2)"/>
<polygon points="375.5,167.0 375.2,168.8 375.0,170.7 373.8,172.2 372.8,173.8 371.1,174.6 369.6,175.9 367.7,176.1 365.8,175.8 364.0,175.3 362.1,175.0 360.5,173.9 359.5,172.2 358.7,170.5 357.6,168.9 357.4,167.0 357.9,165.1 358.7,163.5 359.3,161.6 360.5,160.1 362.3,159.3 363.9,158.5 365.7,157.8 367.7,157.9 369.6,158.2 371.2,159.1 372.6,160.5 374.2,161.5 375.1,163.2 375.8,165.1" fill="url(#sp2)"/>
<polygon points="375.5,167.0 375.2,168.8 375.0,170.7 373.8,172.2 372.8,173.8 371.1,174.6 369.6,175.9 367.7,176.1 365.8,175.8 364.0,175.3 362.1,175.0 360.5,173.9 359.5,172.2 358.7,170.5 357.6,168.9 357.4,167.0 357.9,165.1 358.7,163.5 359.3,161.6 360.5,160.1 362.3,159.3 363.9,158.5 365.7,157.8 367.7,157.9 369.6,158.2 371.2,159.1 372.6,160.5 374.2,161.5 375.1,163.2 375.8,165.1" fill="none" stroke="#6c523a" stroke-width="0.9" stroke-linejoin="round"/>
<polygon points="405.1,169.5 404.3,171.3 403.7,173.0 402.6,174.6 401.6,176.3 399.9,177.5 398.0,178.4 395.9,178.6 393.7,178.6 391.7,178.2 389.8,177.3 388.1,176.2 386.9,174.6 386.0,173.0 384.7,171.4 384.6,169.5 384.7,167.6 385.5,165.8 386.7,164.2 388.3,163.0 389.7,161.5 391.7,160.9 393.7,160.3 395.9,160.3 398.0,160.7 399.9,161.6 401.7,162.7 402.8,164.2 404.1,165.8 404.6,167.6" fill="url(#f2)"/>
<polygon points="405.1,169.5 404.3,171.3 403.7,173.0 402.6,174.6 401.6,176.3 399.9,177.5 398.0,178.4 395.9,178.6 393.7,178.6 391.7,178.2 389.8,177.3 388.1,176.2 386.9,174.6 386.0,173.0 384.7,171.4 384.6,169.5 384.7,167.6 385.5,165.8 386.7,164.2 388.3,163.0 389.7,161.5 391.7,160.9 393.7,160.3 395.9,160.3 398.0,160.7 399.9,161.6 401.7,162.7 402.8,164.2 404.1,165.8 404.6,167.6" fill="url(#sp2)"/>
<polygon points="405.1,169.5 404.3,171.3 403.7,173.0 402.6,174.6 401.6,176.3 399.9,177.5 398.0,178.4 395.9,178.6 393.7,178.6 391.7,178.2 389.8,177.3 388.1,176.2 386.9,174.6 386.0,173.0 384.7,171.4 384.6,169.5 384.7,167.6 385.5,165.8 386.7,164.2 388.3,163.0 389.7,161.5 391.7,160.9 393.7,160.3 395.9,160.3 398.0,160.7 399.9,161.6 401.7,162.7 402.8,164.2 404.1,165.8 404.6,167.6" fill="none" stroke="#6c523a" stroke-width="0.9" stroke-linejoin="round"/>
<polygon points="428.1,161.2 427.8,162.9 427.3,164.5 426.1,165.7 425.3,167.2 424.0,168.3 422.4,168.8 420.7,169.1 419.1,169.0 417.4,168.8 415.9,168.2 414.4,167.3 413.4,165.9 412.6,164.4 412.2,162.8 411.7,161.2 412.2,159.6 412.9,158.1 413.4,156.5 414.5,155.2 415.8,154.1 417.4,153.6 419.1,153.1 420.7,153.3 422.4,153.6 423.8,154.5 425.2,155.3 426.2,156.6 427.2,158.0 427.6,159.6" fill="url(#f2)"/>
<polygon points="428.1,161.2 427.8,162.9 427.3,164.5 426.1,165.7 425.3,167.2 424.0,168.3 422.4,168.8 420.7,169.1 419.1,169.0 417.4,168.8 415.9,168.2 414.4,167.3 413.4,165.9 412.6,164.4 412.2,162.8 411.7,161.2 412.2,159.6 412.9,158.1 413.4,156.5 414.5,155.2 415.8,154.1 417.4,153.6 419.1,153.1 420.7,153.3 422.4,153.6 423.8,154.5 425.2,155.3 426.2,156.6 427.2,158.0 427.6,159.6" fill="url(#sp2)"/>
<polygon points="428.1,161.2 427.8,162.9 427.3,164.5 426.1,165.7 425.3,167.2 424.0,168.3 422.4,168.8 420.7,169.1 419.1,169.0 417.4,168.8 415.9,168.2 414.4,167.3 413.4,165.9 412.6,164.4 412.2,162.8 411.7,161.2 412.2,159.6 412.9,158.1 413.4,156.5 414.5,155.2 415.8,154.1 417.4,153.6 419.1,153.1 420.7,153.3 422.4,153.6 423.8,154.5 425.2,155.3 426.2,156.6 427.2,158.0 427.6,159.6" fill="none" stroke="#6c523a" stroke-width="0.9" stroke-linejoin="round"/>
<polygon points="453.8,162.1 453.7,163.2 455.4,165.2 452.8,165.3 454.2,168.6 450.9,166.8 449.7,167.3 448.5,167.4 447.3,167.6 446.0,167.4 444.9,166.9 443.7,166.3 440.7,166.9 440.9,165.0 442.1,163.2 442.0,162.1 442.0,161.0 442.3,159.8 443.2,159.0 443.8,157.9 444.9,157.4 446.0,156.7 447.3,156.6 448.5,156.5 449.7,156.9 450.9,157.3 452.0,157.9 452.8,158.9 453.2,159.9 454.0,160.9" fill="url(#f2)"/>
<polygon points="453.8,162.1 453.7,163.2 455.4,165.2 452.8,165.3 454.2,168.6 450.9,166.8 449.7,167.3 448.5,167.4 447.3,167.6 446.0,167.4 444.9,166.9 443.7,166.3 440.7,166.9 440.9,165.0 442.1,163.2 442.0,162.1 442.0,161.0 442.3,159.8 443.2,159.0 443.8,157.9 444.9,157.4 446.0,156.7 447.3,156.6 448.5,156.5 449.7,156.9 450.9,157.3 452.0,157.9 452.8,158.9 453.2,159.9 454.0,160.9" fill="url(#sp2)"/>
<polygon points="453.8,162.1 453.7,163.2 455.4,165.2 452.8,165.3 454.2,168.6 450.9,166.8 449.7,167.3 448.5,167.4 447.3,167.6 446.0,167.4 444.9,166.9 443.7,166.3 440.7,166.9 440.9,165.0 442.1,163.2 442.0,162.1 442.0,161.0 442.3,159.8 443.2,159.0 443.8,157.9 444.9,157.4 446.0,156.7 447.3,156.6 448.5,156.5 449.7,156.9 450.9,157.3 452.0,157.9 452.8,158.9 453.2,159.9 454.0,160.9" fill="none" stroke="#6c523a" stroke-width="0.9" stroke-linejoin="round"/>
<polygon points="307.6,182.8 306.8,185.4 306.0,187.9 304.9,190.4 303.4,192.7 301.1,193.9 298.9,195.5 296.2,195.8 293.6,195.7 291.0,195.3 288.6,194.1 286.5,192.5 284.5,190.6 283.3,188.2 282.7,185.5 282.9,182.8 283.0,180.2 283.8,177.7 284.5,174.9 286.2,172.8 288.7,171.7 291.0,170.2 293.6,170.3 296.2,169.5 298.6,170.9 301.3,171.3 303.4,173.0 305.3,174.9 306.6,177.4 307.1,180.1" fill="url(#f2)"/>
<polygon points="307.6,182.8 306.8,185.4 306.0,187.9 304.9,190.4 303.4,192.7 301.1,193.9 298.9,195.5 296.2,195.8 293.6,195.7 291.0,195.3 288.6,194.1 286.5,192.5 284.5,190.6 283.3,188.2 282.7,185.5 282.9,182.8 283.0,180.2 283.8,177.7 284.5,174.9 286.2,172.8 288.7,171.7 291.0,170.2 293.6,170.3 296.2,169.5 298.6,170.9 301.3,171.3 303.4,173.0 305.3,174.9 306.6,177.4 307.1,180.1" fill="url(#sp2)"/>
<polygon points="307.6,182.8 306.8,185.4 306.0,187.9 304.9,190.4 303.4,192.7 301.1,193.9 298.9,195.5 296.2,195.8 293.6,195.7 291.0,195.3 288.6,194.1 286.5,192.5 284.5,190.6 283.3,188.2 282.7,185.5 282.9,182.8 283.0,180.2 283.8,177.7 284.5,174.9 286.2,172.8 288.7,171.7 291.0,170.2 293.6,170.3 296.2,169.5 298.6,170.9 301.3,171.3 303.4,173.0 305.3,174.9 306.6,177.4 307.1,180.1" fill="none" stroke="#6c523a" stroke-width="0.9" stroke-linejoin="round"/>
<polygon points="367.0,184.0 366.3,185.6 366.2,187.3 365.2,188.7 364.3,190.2 362.7,191.0 361.2,191.6 359.5,191.7 357.9,191.9 356.1,191.9 354.5,191.2 353.5,189.8 352.1,188.8 351.6,187.2 350.8,185.7 350.8,184.0 351.0,182.4 351.4,180.8 352.1,179.2 353.3,178.0 354.8,177.2 356.3,176.6 357.9,176.4 359.6,175.8 361.2,176.4 362.7,177.1 364.0,178.1 365.0,179.4 365.9,180.8 366.8,182.3" fill="url(#f2)"/>
<polygon points="367.0,184.0 366.3,185.6 366.2,187.3 365.2,188.7 364.3,190.2 362.7,191.0 361.2,191.6 359.5,191.7 357.9,191.9 356.1,191.9 354.5,191.2 353.5,189.8 352.1,188.8 351.6,187.2 350.8,185.7 350.8,184.0 351.0,182.4 351.4,180.8 352.1,179.2 353.3,178.0 354.8,177.2 356.3,176.6 357.9,176.4 359.6,175.8 361.2,176.4 362.7,177.1 364.0,178.1 365.0,179.4 365.9,180.8 366.8,182.3" fill="url(#sp2)"/>
<polygon points="367.0,184.0 366.3,185.6 366.2,187.3 365.2,188.7 364.3,190.2 362.7,191.0 361.2,191.6 359.5,191.7 357.9,191.9 356.1,191.9 354.5,191.2 353.5,189.8 352.1,188.8 351.6,187.2 350.8,185.7 350.8,184.0 351.0,182.4 351.4,180.8 352.1,179.2 353.3,178.0 354.8,177.2 356.3,176.6 357.9,176.4 359.6,175.8 361.2,176.4 362.7,177.1 364.0,178.1 365.0,179.4 365.9,180.8 366.8,182.3" fill="none" stroke="#6c523a" stroke-width="0.9" stroke-linejoin="round"/>
<polygon points="333.1,185.6 332.8,186.6 332.8,187.7 332.0,188.6 331.1,189.3 330.2,190.1 328.9,190.2 327.7,190.7 326.5,190.5 325.3,190.3 324.1,189.9 323.0,189.4 322.1,188.6 321.5,187.7 321.3,186.6 321.3,185.6 321.3,184.6 321.7,183.6 322.2,182.7 323.1,181.9 324.2,181.4 325.3,181.0 326.5,180.5 327.7,180.5 328.9,181.0 330.2,181.1 331.1,181.9 331.9,182.7 332.7,183.5 333.1,184.5" fill="url(#f2)"/>
<polygon points="333.1,185.6 332.8,186.6 332.8,187.7 332.0,188.6 331.1,189.3 330.2,190.1 328.9,190.2 327.7,190.7 326.5,190.5 325.3,190.3 324.1,189.9 323.0,189.4 322.1,188.6 321.5,187.7 321.3,186.6 321.3,185.6 321.3,184.6 321.7,183.6 322.2,182.7 323.1,181.9 324.2,181.4 325.3,181.0 326.5,180.5 327.7,180.5 328.9,181.0 330.2,181.1 331.1,181.9 331.9,182.7 332.7,183.5 333.1,184.5" fill="url(#sp2)"/>
<polygon points="333.1,185.6 332.8,186.6 332.8,187.7 332.0,188.6 331.1,189.3 330.2,190.1 328.9,190.2 327.7,190.7 326.5,190.5 325.3,190.3 324.1,189.9 323.0,189.4 322.1,188.6 321.5,187.7 321.3,186.6 321.3,185.6 321.3,184.6 321.7,183.6 322.2,182.7 323.1,181.9 324.2,181.4 325.3,181.0 326.5,180.5 327.7,180.5 328.9,181.0 330.2,181.1 331.1,181.9 331.9,182.7 332.7,183.5 333.1,184.5" fill="none" stroke="#6c523a" stroke-width="0.9" stroke-linejoin="round"/>
<polygon points="301.5,147.0 301.5,147.7 301.3,148.4 301.0,149.1 300.5,149.6 299.9,150.0 299.2,150.4 298.5,150.4 297.7,150.6 297.0,150.3 296.3,150.1 295.7,149.7 295.2,149.1 294.9,148.4 294.6,147.7 294.7,147.0 294.7,146.3 294.8,145.5 295.2,144.9 295.8,144.4 296.4,144.0 297.0,143.7 297.7,143.5 298.5,143.6 299.2,143.6 299.9,143.9 300.4,144.4 300.9,145.0 301.3,145.6 301.5,146.3" fill="url(#f2)"/>
<polygon points="301.5,147.0 301.5,147.7 301.3,148.4 301.0,149.1 300.5,149.6 299.9,150.0 299.2,150.4 298.5,150.4 297.7,150.6 297.0,150.3 296.3,150.1 295.7,149.7 295.2,149.1 294.9,148.4 294.6,147.7 294.7,147.0 294.7,146.3 294.8,145.5 295.2,144.9 295.8,144.4 296.4,144.0 297.0,143.7 297.7,143.5 298.5,143.6 299.2,143.6 299.9,143.9 300.4,144.4 300.9,145.0 301.3,145.6 301.5,146.3" fill="url(#sp2)"/>
<polygon points="301.5,147.0 301.5,147.7 301.3,148.4 301.0,149.1 300.5,149.6 299.9,150.0 299.2,150.4 298.5,150.4 297.7,150.6 297.0,150.3 296.3,150.1 295.7,149.7 295.2,149.1 294.9,148.4 294.6,147.7 294.7,147.0 294.7,146.3 294.8,145.5 295.2,144.9 295.8,144.4 296.4,144.0 297.0,143.7 297.7,143.5 298.5,143.6 299.2,143.6 299.9,143.9 300.4,144.4 300.9,145.0 301.3,145.6 301.5,146.3" fill="none" stroke="#6c523a" stroke-width="0.9" stroke-linejoin="round"/>
<polygon points="332.3,71.4 331.5,63.9 335.2,63.5 328.3,51.0 324.3,64.7 328.0,64.3 328.9,71.8" fill="#000"/>
<polygon points="344.7,133.6 334.6,130.9 335.6,127.3 321.4,129.1 332.7,137.9 333.7,134.3 343.7,137.0" fill="#000"/>
<polygon points="424.7,137.1 427.9,141.0 425.0,143.4 437.7,150.0 433.5,136.3 430.6,138.7 427.3,134.9" fill="#000"/>
<rect x="430.2" y="186.6" width="33.8" height="2.2" fill="#000"/>
</g>
<g clip-path="url(#c3)">
<rect x="478" y="34" width="228" height="158" fill="url(#g3)"/>
<rect x="478" y="34" width="228" height="158" fill="url(#g3b)"/>
<rect x="478" y="34" width="228" height="158" fill="url(#g3c)"/>
<rect x="478" y="34" width="228" height="158" fill="url(#g3e)"/>
<rect x="478" y="34" width="228" height="158" fill="url(#g3d)"/>
<circle cx="478.8" cy="111.7" r="0.7" fill="#4a3c30" opacity="0.42"/>
<circle cx="510.1" cy="88.3" r="0.6" fill="#4a3c30" opacity="0.64"/>
<circle cx="478.4" cy="152.6" r="1.0" fill="#4a3c30" opacity="0.35"/>
<circle cx="689.2" cy="146.7" r="1.0" fill="#4a3c30" opacity="0.42"/>
<circle cx="562.9" cy="96.1" r="1.0" fill="#4a3c30" opacity="0.54"/>
<circle cx="560.2" cy="101.6" r="0.6" fill="#4a3c30" opacity="0.32"/>
<circle cx="501.2" cy="165.9" r="0.6" fill="#4a3c30" opacity="0.67"/>
<circle cx="534.8" cy="76.0" r="0.8" fill="#4a3c30" opacity="0.38"/>
<circle cx="563.1" cy="185.1" r="1.0" fill="#4a3c30" opacity="0.62"/>
<circle cx="621.8" cy="178.3" r="1.0" fill="#4a3c30" opacity="0.52"/>
<circle cx="642.1" cy="41.8" r="0.9" fill="#4a3c30" opacity="0.48"/>
<circle cx="649.6" cy="135.8" r="0.6" fill="#4a3c30" opacity="0.32"/>
<circle cx="689.3" cy="54.1" r="0.7" fill="#4a3c30" opacity="0.44"/>
<circle cx="545.9" cy="150.8" r="1.0" fill="#4a3c30" opacity="0.40"/>
<circle cx="627.6" cy="81.5" r="0.8" fill="#4a3c30" opacity="0.46"/>
<circle cx="516.2" cy="59.5" r="0.6" fill="#4a3c30" opacity="0.66"/>
<circle cx="591.3" cy="68.8" r="1.0" fill="#4a3c30" opacity="0.70"/>
<circle cx="580.6" cy="56.1" r="0.6" fill="#4a3c30" opacity="0.34"/>
<circle cx="556.0" cy="48.4" r="0.6" fill="#4a3c30" opacity="0.40"/>
<circle cx="607.9" cy="174.2" r="0.9" fill="#4a3c30" opacity="0.47"/>
<circle cx="572.4" cy="116.8" r="0.7" fill="#4a3c30" opacity="0.44"/>
<circle cx="492.1" cy="77.8" r="1.0" fill="#4a3c30" opacity="0.35"/>
<circle cx="592.8" cy="133.5" r="1.0" fill="#4a3c30" opacity="0.39"/>
<circle cx="539.8" cy="73.3" r="0.7" fill="#4a3c30" opacity="0.48"/>
<circle cx="695.5" cy="168.1" r="1.0" fill="#4a3c30" opacity="0.31"/>
<circle cx="485.4" cy="146.1" r="1.0" fill="#4a3c30" opacity="0.49"/>
<circle cx="611.9" cy="34.0" r="0.7" fill="#4a3c30" opacity="0.67"/>
<circle cx="666.2" cy="169.2" r="1.0" fill="#4a3c30" opacity="0.40"/>
<circle cx="502.9" cy="58.4" r="0.8" fill="#4a3c30" opacity="0.57"/>
<circle cx="692.7" cy="148.0" r="0.8" fill="#4a3c30" opacity="0.61"/>
<circle cx="582.3" cy="121.1" r="0.5" fill="#4a3c30" opacity="0.61"/>
<circle cx="531.0" cy="179.3" r="0.8" fill="#4a3c30" opacity="0.42"/>
<circle cx="507.2" cy="73.8" r="0.8" fill="#4a3c30" opacity="0.58"/>
<circle cx="503.6" cy="45.1" r="0.8" fill="#4a3c30" opacity="0.53"/>
<circle cx="566.5" cy="69.3" r="0.8" fill="#4a3c30" opacity="0.30"/>
<circle cx="546.7" cy="106.8" r="1.0" fill="#4a3c30" opacity="0.56"/>
<circle cx="679.5" cy="109.1" r="0.6" fill="#4a3c30" opacity="0.40"/>
<circle cx="697.0" cy="145.3" r="0.6" fill="#4a3c30" opacity="0.31"/>
<circle cx="591.6" cy="140.6" r="0.7" fill="#4a3c30" opacity="0.40"/>
<circle cx="630.2" cy="180.2" r="0.6" fill="#4a3c30" opacity="0.31"/>
<circle cx="555.1" cy="100.4" r="0.9" fill="#4a3c30" opacity="0.38"/>
<circle cx="659.7" cy="150.8" r="0.8" fill="#4a3c30" opacity="0.38"/>
<circle cx="699.1" cy="83.3" r="0.9" fill="#4a3c30" opacity="0.39"/>
<circle cx="528.5" cy="154.2" r="0.6" fill="#4a3c30" opacity="0.68"/>
<circle cx="591.0" cy="63.6" r="0.6" fill="#4a3c30" opacity="0.47"/>
<circle cx="629.7" cy="183.9" r="0.5" fill="#4a3c30" opacity="0.46"/>
<circle cx="526.6" cy="187.9" r="0.5" fill="#4a3c30" opacity="0.32"/>
<circle cx="491.7" cy="96.1" r="1.0" fill="#4a3c30" opacity="0.65"/>
<circle cx="645.1" cy="191.6" r="1.0" fill="#4a3c30" opacity="0.43"/>
<circle cx="520.3" cy="181.9" r="0.9" fill="#4a3c30" opacity="0.31"/>
<circle cx="629.5" cy="93.8" r="0.7" fill="#4a3c30" opacity="0.43"/>
<circle cx="516.6" cy="34.5" r="0.6" fill="#4a3c30" opacity="0.44"/>
<circle cx="695.9" cy="53.5" r="1.0" fill="#4a3c30" opacity="0.38"/>
<circle cx="559.3" cy="163.8" r="0.9" fill="#4a3c30" opacity="0.47"/>
<circle cx="489.2" cy="108.8" r="0.7" fill="#4a3c30" opacity="0.67"/>
<circle cx="522.0" cy="91.6" r="1.0" fill="#4a3c30" opacity="0.31"/>
<circle cx="571.7" cy="162.3" r="0.9" fill="#4a3c30" opacity="0.32"/>
<circle cx="485.9" cy="43.9" r="1.0" fill="#4a3c30" opacity="0.40"/>
<circle cx="648.4" cy="176.0" r="0.7" fill="#4a3c30" opacity="0.41"/>
<circle cx="696.4" cy="131.5" r="0.6" fill="#4a3c30" opacity="0.59"/>
<circle cx="550.2" cy="77.5" r="0.5" fill="#4a3c30" opacity="0.60"/>
<circle cx="687.0" cy="134.2" r="1.0" fill="#4a3c30" opacity="0.31"/>
<circle cx="531.3" cy="109.1" r="1.0" fill="#4a3c30" opacity="0.68"/>
<circle cx="566.1" cy="73.7" r="0.7" fill="#4a3c30" opacity="0.50"/>
<circle cx="689.6" cy="62.9" r="0.9" fill="#4a3c30" opacity="0.60"/>
<circle cx="665.6" cy="156.1" r="0.8" fill="#4a3c30" opacity="0.43"/>
<circle cx="550.9" cy="91.2" r="0.9" fill="#4a3c30" opacity="0.33"/>
<circle cx="523.0" cy="153.0" r="0.6" fill="#4a3c30" opacity="0.33"/>
<circle cx="485.7" cy="121.3" r="0.6" fill="#4a3c30" opacity="0.69"/>
<circle cx="679.4" cy="190.1" r="0.6" fill="#4a3c30" opacity="0.33"/>
<circle cx="500.0" cy="112.8" r="0.9" fill="#4a3c30" opacity="0.48"/>
<circle cx="531.4" cy="99.9" r="0.8" fill="#4a3c30" opacity="0.57"/>
<circle cx="648.5" cy="167.8" r="0.8" fill="#4a3c30" opacity="0.35"/>
<circle cx="669.7" cy="80.4" r="0.8" fill="#4a3c30" opacity="0.45"/>
<circle cx="646.3" cy="65.5" r="0.6" fill="#4a3c30" opacity="0.40"/>
<circle cx="513.0" cy="173.7" r="0.8" fill="#4a3c30" opacity="0.43"/>
<circle cx="568.3" cy="190.8" r="0.8" fill="#4a3c30" opacity="0.39"/>
<circle cx="662.3" cy="137.2" r="1.0" fill="#4a3c30" opacity="0.34"/>
<circle cx="586.2" cy="163.4" r="1.0" fill="#4a3c30" opacity="0.67"/>
<circle cx="487.2" cy="80.4" r="0.5" fill="#4a3c30" opacity="0.38"/>
<circle cx="699.8" cy="126.1" r="1.0" fill="#4a3c30" opacity="0.45"/>
<circle cx="675.5" cy="105.0" r="0.6" fill="#4a3c30" opacity="0.61"/>
<circle cx="693.6" cy="50.7" r="0.8" fill="#4a3c30" opacity="0.55"/>
<circle cx="527.6" cy="92.3" r="0.5" fill="#4a3c30" opacity="0.38"/>
<circle cx="536.1" cy="128.7" r="0.8" fill="#4a3c30" opacity="0.38"/>
<circle cx="480.6" cy="85.7" r="0.9" fill="#4a3c30" opacity="0.37"/>
<circle cx="549.2" cy="66.1" r="0.9" fill="#4a3c30" opacity="0.52"/>
<circle cx="492.4" cy="50.0" r="0.7" fill="#4a3c30" opacity="0.52"/>
<circle cx="623.7" cy="48.4" r="0.5" fill="#4a3c30" opacity="0.58"/>
<circle cx="571.4" cy="78.8" r="0.6" fill="#4a3c30" opacity="0.68"/>
<circle cx="549.2" cy="123.5" r="0.7" fill="#4a3c30" opacity="0.47"/>
<circle cx="675.0" cy="191.5" r="0.7" fill="#4a3c30" opacity="0.38"/>
<circle cx="644.0" cy="66.2" r="0.5" fill="#4a3c30" opacity="0.66"/>
<circle cx="574.6" cy="163.6" r="0.7" fill="#4a3c30" opacity="0.65"/>
<circle cx="583.1" cy="59.7" r="0.5" fill="#4a3c30" opacity="0.52"/>
<circle cx="624.1" cy="177.7" r="0.5" fill="#4a3c30" opacity="0.55"/>
<circle cx="562.6" cy="113.7" r="0.5" fill="#4a3c30" opacity="0.41"/>
<circle cx="596.8" cy="180.2" r="0.5" fill="#4a3c30" opacity="0.50"/>
<circle cx="661.5" cy="186.8" r="0.6" fill="#4a3c30" opacity="0.35"/>
<circle cx="693.0" cy="188.1" r="0.7" fill="#4a3c30" opacity="0.32"/>
<circle cx="689.2" cy="95.3" r="1.0" fill="#4a3c30" opacity="0.55"/>
<circle cx="666.0" cy="59.3" r="0.9" fill="#4a3c30" opacity="0.39"/>
<circle cx="570.2" cy="167.7" r="0.9" fill="#4a3c30" opacity="0.37"/>
<circle cx="527.7" cy="97.2" r="0.8" fill="#4a3c30" opacity="0.45"/>
<circle cx="506.1" cy="73.0" r="0.9" fill="#4a3c30" opacity="0.66"/>
<circle cx="487.4" cy="122.9" r="0.9" fill="#4a3c30" opacity="0.32"/>
<circle cx="669.1" cy="52.6" r="0.8" fill="#4a3c30" opacity="0.52"/>
<circle cx="621.0" cy="82.4" r="0.7" fill="#4a3c30" opacity="0.53"/>
<circle cx="575.1" cy="138.1" r="0.7" fill="#4a3c30" opacity="0.48"/>
<circle cx="483.3" cy="131.8" r="0.7" fill="#4a3c30" opacity="0.39"/>
<circle cx="652.1" cy="157.2" r="0.7" fill="#4a3c30" opacity="0.37"/>
<circle cx="585.9" cy="50.9" r="0.5" fill="#4a3c30" opacity="0.47"/>
<circle cx="498.9" cy="103.8" r="0.8" fill="#4a3c30" opacity="0.32"/>
<circle cx="623.1" cy="47.0" r="0.9" fill="#4a3c30" opacity="0.61"/>
<circle cx="594.6" cy="42.6" r="0.8" fill="#4a3c30" opacity="0.45"/>
<circle cx="694.8" cy="55.5" r="1.0" fill="#4a3c30" opacity="0.70"/>
<circle cx="644.9" cy="162.8" r="0.6" fill="#4a3c30" opacity="0.69"/>
<circle cx="590.1" cy="185.1" r="1.0" fill="#4a3c30" opacity="0.37"/>
<circle cx="657.8" cy="181.0" r="0.5" fill="#4a3c30" opacity="0.44"/>
<circle cx="650.4" cy="59.1" r="1.0" fill="#4a3c30" opacity="0.41"/>
<polygon points="562.0,49.4 562.3,50.8 561.9,52.1 560.7,53.0 561.2,55.5 558.8,55.0 557.5,55.8 556.0,56.0 554.6,55.6 553.1,55.7 551.8,55.1 550.8,54.1 549.6,53.2 549.0,52.0 548.7,50.7 548.2,49.4 548.3,48.0 548.9,46.7 549.5,45.5 550.5,44.5 551.6,43.5 553.0,42.9 554.5,42.7 556.0,42.8 557.5,43.2 558.9,43.6 560.1,44.5 563.2,44.1 561.6,46.8 561.8,48.1" fill="url(#f3)"/>
<polygon points="562.0,49.4 562.3,50.8 561.9,52.1 560.7,53.0 561.2,55.5 558.8,55.0 557.5,55.8 556.0,56.0 554.6,55.6 553.1,55.7 551.8,55.1 550.8,54.1 549.6,53.2 549.0,52.0 548.7,50.7 548.2,49.4 548.3,48.0 548.9,46.7 549.5,45.5 550.5,44.5 551.6,43.5 553.0,42.9 554.5,42.7 556.0,42.8 557.5,43.2 558.9,43.6 560.1,44.5 563.2,44.1 561.6,46.8 561.8,48.1" fill="url(#sp3)"/>
<polygon points="562.0,49.4 562.3,50.8 561.9,52.1 560.7,53.0 561.2,55.5 558.8,55.0 557.5,55.8 556.0,56.0 554.6,55.6 553.1,55.7 551.8,55.1 550.8,54.1 549.6,53.2 549.0,52.0 548.7,50.7 548.2,49.4 548.3,48.0 548.9,46.7 549.5,45.5 550.5,44.5 551.6,43.5 553.0,42.9 554.5,42.7 556.0,42.8 557.5,43.2 558.9,43.6 560.1,44.5 563.2,44.1 561.6,46.8 561.8,48.1" fill="none" stroke="#6a5440" stroke-width="0.8" stroke-linejoin="round"/>
<polygon points="604.5,56.5 604.3,57.8 604.4,59.2 603.4,60.3 602.5,61.3 601.3,62.2 600.0,62.7 598.5,63.0 597.1,63.1 595.7,62.6 594.4,62.0 593.0,61.5 592.4,60.1 591.7,59.0 591.0,57.8 590.6,56.5 590.8,55.1 591.7,54.0 592.1,52.7 592.9,51.5 594.3,50.9 595.7,50.4 597.1,50.4 598.6,49.8 600.0,50.3 601.3,50.8 602.6,51.6 603.3,52.8 604.4,53.8 604.7,55.1" fill="url(#f3)"/>
<polygon points="604.5,56.5 604.3,57.8 604.4,59.2 603.4,60.3 602.5,61.3 601.3,62.2 600.0,62.7 598.5,63.0 597.1,63.1 595.7,62.6 594.4,62.0 593.0,61.5 592.4,60.1 591.7,59.0 591.0,57.8 590.6,56.5 590.8,55.1 591.7,54.0 592.1,52.7 592.9,51.5 594.3,50.9 595.7,50.4 597.1,50.4 598.6,49.8 600.0,50.3 601.3,50.8 602.6,51.6 603.3,52.8 604.4,53.8 604.7,55.1" fill="url(#sp3)"/>
<polygon points="604.5,56.5 604.3,57.8 604.4,59.2 603.4,60.3 602.5,61.3 601.3,62.2 600.0,62.7 598.5,63.0 597.1,63.1 595.7,62.6 594.4,62.0 593.0,61.5 592.4,60.1 591.7,59.0 591.0,57.8 590.6,56.5 590.8,55.1 591.7,54.0 592.1,52.7 592.9,51.5 594.3,50.9 595.7,50.4 597.1,50.4 598.6,49.8 600.0,50.3 601.3,50.8 602.6,51.6 603.3,52.8 604.4,53.8 604.7,55.1" fill="none" stroke="#6a5440" stroke-width="0.8" stroke-linejoin="round"/>
<polygon points="565.2,83.9 567.1,86.9 564.9,88.2 565.9,92.3 563.3,91.1 562.6,92.7 561.6,93.4 560.8,97.2 559.6,94.1 558.2,95.6 557.6,92.5 555.1,94.9 555.9,90.0 554.6,88.8 553.8,86.6 555.2,83.9 555.4,81.9 555.6,79.9 554.2,75.3 555.5,73.6 556.9,72.9 558.6,74.4 559.4,70.2 560.9,68.8 562.5,69.2 564.1,69.9 563.3,76.8 564.0,78.2 564.7,79.8 564.9,81.9" fill="url(#f3)"/>
<polygon points="565.2,83.9 567.1,86.9 564.9,88.2 565.9,92.3 563.3,91.1 562.6,92.7 561.6,93.4 560.8,97.2 559.6,94.1 558.2,95.6 557.6,92.5 555.1,94.9 555.9,90.0 554.6,88.8 553.8,86.6 555.2,83.9 555.4,81.9 555.6,79.9 554.2,75.3 555.5,73.6 556.9,72.9 558.6,74.4 559.4,70.2 560.9,68.8 562.5,69.2 564.1,69.9 563.3,76.8 564.0,78.2 564.7,79.8 564.9,81.9" fill="url(#sp3)"/>
<polygon points="565.2,83.9 567.1,86.9 564.9,88.2 565.9,92.3 563.3,91.1 562.6,92.7 561.6,93.4 560.8,97.2 559.6,94.1 558.2,95.6 557.6,92.5 555.1,94.9 555.9,90.0 554.6,88.8 553.8,86.6 555.2,83.9 555.4,81.9 555.6,79.9 554.2,75.3 555.5,73.6 556.9,72.9 558.6,74.4 559.4,70.2 560.9,68.8 562.5,69.2 564.1,69.9 563.3,76.8 564.0,78.2 564.7,79.8 564.9,81.9" fill="none" stroke="#8a7258" stroke-width="0.5" stroke-linejoin="round"/>
<polygon points="618.6,88.7 623.1,90.6 618.3,91.2 617.4,92.3 617.6,94.4 616.5,96.2 613.8,96.4 611.4,97.3 608.7,96.9 606.7,95.4 603.4,96.3 604.0,93.2 603.0,92.1 598.5,92.1 596.7,90.6 601.2,88.7 601.6,87.5 602.1,86.4 601.0,84.3 604.1,84.3 604.3,82.1 607.2,83.0 608.6,79.7 611.0,82.5 612.9,82.7 614.7,83.3 616.1,84.2 617.2,85.2 618.1,86.3 623.1,86.8" fill="url(#f3)"/>
<polygon points="618.6,88.7 623.1,90.6 618.3,91.2 617.4,92.3 617.6,94.4 616.5,96.2 613.8,96.4 611.4,97.3 608.7,96.9 606.7,95.4 603.4,96.3 604.0,93.2 603.0,92.1 598.5,92.1 596.7,90.6 601.2,88.7 601.6,87.5 602.1,86.4 601.0,84.3 604.1,84.3 604.3,82.1 607.2,83.0 608.6,79.7 611.0,82.5 612.9,82.7 614.7,83.3 616.1,84.2 617.2,85.2 618.1,86.3 623.1,86.8" fill="url(#sp3)"/>
<polygon points="618.6,88.7 623.1,90.6 618.3,91.2 617.4,92.3 617.6,94.4 616.5,96.2 613.8,96.4 611.4,97.3 608.7,96.9 606.7,95.4 603.4,96.3 604.0,93.2 603.0,92.1 598.5,92.1 596.7,90.6 601.2,88.7 601.6,87.5 602.1,86.4 601.0,84.3 604.1,84.3 604.3,82.1 607.2,83.0 608.6,79.7 611.0,82.5 612.9,82.7 614.7,83.3 616.1,84.2 617.2,85.2 618.1,86.3 623.1,86.8" fill="none" stroke="#8a7258" stroke-width="0.5" stroke-linejoin="round"/>
<polygon points="666.4,82.3 663.3,83.7 663.0,85.1 662.2,86.3 663.1,89.5 660.4,88.7 659.5,91.0 657.6,90.9 655.8,91.3 654.5,89.2 653.3,88.1 649.4,90.4 651.0,86.4 650.4,85.1 649.8,83.8 646.7,82.3 649.6,80.8 650.1,79.4 651.2,78.3 652.0,77.1 651.3,72.9 654.6,75.7 656.0,75.2 657.6,73.5 659.0,75.3 660.2,76.2 661.6,76.9 662.4,78.1 663.2,79.4 663.6,80.8" fill="url(#f3)"/>
<polygon points="666.4,82.3 663.3,83.7 663.0,85.1 662.2,86.3 663.1,89.5 660.4,88.7 659.5,91.0 657.6,90.9 655.8,91.3 654.5,89.2 653.3,88.1 649.4,90.4 651.0,86.4 650.4,85.1 649.8,83.8 646.7,82.3 649.6,80.8 650.1,79.4 651.2,78.3 652.0,77.1 651.3,72.9 654.6,75.7 656.0,75.2 657.6,73.5 659.0,75.3 660.2,76.2 661.6,76.9 662.4,78.1 663.2,79.4 663.6,80.8" fill="url(#sp3)"/>
<polygon points="666.4,82.3 663.3,83.7 663.0,85.1 662.2,86.3 663.1,89.5 660.4,88.7 659.5,91.0 657.6,90.9 655.8,91.3 654.5,89.2 653.3,88.1 649.4,90.4 651.0,86.4 650.4,85.1 649.8,83.8 646.7,82.3 649.6,80.8 650.1,79.4 651.2,78.3 652.0,77.1 651.3,72.9 654.6,75.7 656.0,75.2 657.6,73.5 659.0,75.3 660.2,76.2 661.6,76.9 662.4,78.1 663.2,79.4 663.6,80.8" fill="none" stroke="#8a7258" stroke-width="0.5" stroke-linejoin="round"/>
<polygon points="696.2,64.6 700.5,65.8 695.3,66.2 697.9,68.0 693.2,67.5 694.3,70.0 690.0,68.3 688.6,70.0 686.2,69.4 684.5,68.4 682.9,68.0 681.3,67.6 679.7,67.1 675.5,66.9 678.1,65.5 673.8,64.6 678.8,63.8 679.4,63.0 679.9,62.2 678.5,60.3 681.4,60.0 684.6,60.9 686.0,59.0 688.3,60.5 690.1,60.7 691.8,61.1 695.1,60.7 696.6,61.6 695.4,63.0 698.2,63.6" fill="url(#f3)"/>
<polygon points="696.2,64.6 700.5,65.8 695.3,66.2 697.9,68.0 693.2,67.5 694.3,70.0 690.0,68.3 688.6,70.0 686.2,69.4 684.5,68.4 682.9,68.0 681.3,67.6 679.7,67.1 675.5,66.9 678.1,65.5 673.8,64.6 678.8,63.8 679.4,63.0 679.9,62.2 678.5,60.3 681.4,60.0 684.6,60.9 686.0,59.0 688.3,60.5 690.1,60.7 691.8,61.1 695.1,60.7 696.6,61.6 695.4,63.0 698.2,63.6" fill="url(#sp3)"/>
<polygon points="696.2,64.6 700.5,65.8 695.3,66.2 697.9,68.0 693.2,67.5 694.3,70.0 690.0,68.3 688.6,70.0 686.2,69.4 684.5,68.4 682.9,68.0 681.3,67.6 679.7,67.1 675.5,66.9 678.1,65.5 673.8,64.6 678.8,63.8 679.4,63.0 679.9,62.2 678.5,60.3 681.4,60.0 684.6,60.9 686.0,59.0 688.3,60.5 690.1,60.7 691.8,61.1 695.1,60.7 696.6,61.6 695.4,63.0 698.2,63.6" fill="none" stroke="#8a7258" stroke-width="0.5" stroke-linejoin="round"/>
<polygon points="698.2,103.2 694.8,104.5 696.8,106.5 693.0,106.7 691.5,107.5 690.1,108.3 689.5,111.0 686.7,109.3 684.8,109.0 682.3,110.1 681.0,108.6 679.6,107.7 675.9,108.0 677.2,105.7 675.4,104.7 677.0,103.2 676.7,101.9 673.5,99.6 676.4,98.7 677.4,97.1 679.9,96.5 682.9,97.5 684.5,95.4 686.6,97.5 688.5,97.5 690.1,98.1 695.1,96.2 696.5,98.0 694.0,100.7 698.6,101.4" fill="url(#f3)"/>
<polygon points="698.2,103.2 694.8,104.5 696.8,106.5 693.0,106.7 691.5,107.5 690.1,108.3 689.5,111.0 686.7,109.3 684.8,109.0 682.3,110.1 681.0,108.6 679.6,107.7 675.9,108.0 677.2,105.7 675.4,104.7 677.0,103.2 676.7,101.9 673.5,99.6 676.4,98.7 677.4,97.1 679.9,96.5 682.9,97.5 684.5,95.4 686.6,97.5 688.5,97.5 690.1,98.1 695.1,96.2 696.5,98.0 694.0,100.7 698.6,101.4" fill="url(#sp3)"/>
<polygon points="698.2,103.2 694.8,104.5 696.8,106.5 693.0,106.7 691.5,107.5 690.1,108.3 689.5,111.0 686.7,109.3 684.8,109.0 682.3,110.1 681.0,108.6 679.6,107.7 675.9,108.0 677.2,105.7 675.4,104.7 677.0,103.2 676.7,101.9 673.5,99.6 676.4,98.7 677.4,97.1 679.9,96.5 682.9,97.5 684.5,95.4 686.6,97.5 688.5,97.5 690.1,98.1 695.1,96.2 696.5,98.0 694.0,100.7 698.6,101.4" fill="none" stroke="#8a7258" stroke-width="0.5" stroke-linejoin="round"/>
<polygon points="496.3,102.2 496.4,103.7 495.5,105.0 494.9,106.3 495.7,109.4 492.7,108.1 491.6,109.1 490.0,109.1 488.6,108.9 487.2,108.6 485.7,108.4 484.5,107.5 483.8,106.2 483.1,104.9 482.5,103.6 482.2,102.2 482.5,100.8 483.0,99.4 483.5,98.0 484.7,97.1 485.7,96.0 487.1,95.5 488.5,95.0 490.0,95.4 491.4,95.9 492.9,96.0 494.1,96.8 495.0,98.1 496.0,99.2 496.3,100.7" fill="url(#f3)"/>
<polygon points="496.3,102.2 496.4,103.7 495.5,105.0 494.9,106.3 495.7,109.4 492.7,108.1 491.6,109.1 490.0,109.1 488.6,108.9 487.2,108.6 485.7,108.4 484.5,107.5 483.8,106.2 483.1,104.9 482.5,103.6 482.2,102.2 482.5,100.8 483.0,99.4 483.5,98.0 484.7,97.1 485.7,96.0 487.1,95.5 488.5,95.0 490.0,95.4 491.4,95.9 492.9,96.0 494.1,96.8 495.0,98.1 496.0,99.2 496.3,100.7" fill="url(#sp3)"/>
<polygon points="496.3,102.2 496.4,103.7 495.5,105.0 494.9,106.3 495.7,109.4 492.7,108.1 491.6,109.1 490.0,109.1 488.6,108.9 487.2,108.6 485.7,108.4 484.5,107.5 483.8,106.2 483.1,104.9 482.5,103.6 482.2,102.2 482.5,100.8 483.0,99.4 483.5,98.0 484.7,97.1 485.7,96.0 487.1,95.5 488.5,95.0 490.0,95.4 491.4,95.9 492.9,96.0 494.1,96.8 495.0,98.1 496.0,99.2 496.3,100.7" fill="none" stroke="#6a5440" stroke-width="0.8" stroke-linejoin="round"/>
<polygon points="491.6,75.8 491.4,76.5 491.3,77.2 491.0,77.9 490.4,78.4 489.7,78.9 488.9,79.0 488.1,79.2 487.1,80.5 486.5,79.1 485.8,78.7 485.0,78.4 484.4,77.9 483.9,77.3 483.7,76.5 481.8,75.8 483.6,75.0 484.0,74.4 484.4,73.7 483.7,71.9 485.7,72.8 486.5,72.5 487.3,72.4 488.1,72.3 489.3,71.4 490.7,71.3 490.3,73.3 492.6,72.7 492.7,73.9 491.5,75.1" fill="url(#f3)"/>
<polygon points="491.6,75.8 491.4,76.5 491.3,77.2 491.0,77.9 490.4,78.4 489.7,78.9 488.9,79.0 488.1,79.2 487.1,80.5 486.5,79.1 485.8,78.7 485.0,78.4 484.4,77.9 483.9,77.3 483.7,76.5 481.8,75.8 483.6,75.0 484.0,74.4 484.4,73.7 483.7,71.9 485.7,72.8 486.5,72.5 487.3,72.4 488.1,72.3 489.3,71.4 490.7,71.3 490.3,73.3 492.6,72.7 492.7,73.9 491.5,75.1" fill="url(#sp3)"/>
<polygon points="491.6,75.8 491.4,76.5 491.3,77.2 491.0,77.9 490.4,78.4 489.7,78.9 488.9,79.0 488.1,79.2 487.1,80.5 486.5,79.1 485.8,78.7 485.0,78.4 484.4,77.9 483.9,77.3 483.7,76.5 481.8,75.8 483.6,75.0 484.0,74.4 484.4,73.7 483.7,71.9 485.7,72.8 486.5,72.5 487.3,72.4 488.1,72.3 489.3,71.4 490.7,71.3 490.3,73.3 492.6,72.7 492.7,73.9 491.5,75.1" fill="none" stroke="#8a7258" stroke-width="0.5" stroke-linejoin="round"/>
<polygon points="534.7,100.0 531.8,100.8 531.4,101.6 531.1,102.4 531.0,103.6 529.5,103.5 529.1,105.1 527.5,104.0 526.3,105.1 525.4,103.9 523.9,104.3 522.4,104.1 522.9,102.4 520.5,102.3 522.2,100.8 522.1,100.0 520.3,98.9 522.6,98.4 523.1,97.8 523.6,97.0 524.6,96.6 524.6,94.2 526.5,96.1 527.5,96.1 528.5,96.2 530.7,94.9 531.2,96.2 531.0,97.7 531.8,98.3 534.3,98.8" fill="url(#f3)"/>
<polygon points="534.7,100.0 531.8,100.8 531.4,101.6 531.1,102.4 531.0,103.6 529.5,103.5 529.1,105.1 527.5,104.0 526.3,105.1 525.4,103.9 523.9,104.3 522.4,104.1 522.9,102.4 520.5,102.3 522.2,100.8 522.1,100.0 520.3,98.9 522.6,98.4 523.1,97.8 523.6,97.0 524.6,96.6 524.6,94.2 526.5,96.1 527.5,96.1 528.5,96.2 530.7,94.9 531.2,96.2 531.0,97.7 531.8,98.3 534.3,98.8" fill="url(#sp3)"/>
<polygon points="534.7,100.0 531.8,100.8 531.4,101.6 531.1,102.4 531.0,103.6 529.5,103.5 529.1,105.1 527.5,104.0 526.3,105.1 525.4,103.9 523.9,104.3 522.4,104.1 522.9,102.4 520.5,102.3 522.2,100.8 522.1,100.0 520.3,98.9 522.6,98.4 523.1,97.8 523.6,97.0 524.6,96.6 524.6,94.2 526.5,96.1 527.5,96.1 528.5,96.2 530.7,94.9 531.2,96.2 531.0,97.7 531.8,98.3 534.3,98.8" fill="none" stroke="#8a7258" stroke-width="0.5" stroke-linejoin="round"/>
<polygon points="570.2,111.2 571.9,112.5 570.6,113.6 569.0,114.0 568.3,114.9 567.9,116.4 567.0,118.1 564.9,116.2 563.7,116.1 562.5,115.9 560.2,117.1 560.5,114.7 559.4,114.1 556.7,114.0 558.6,112.2 555.3,111.2 558.3,110.1 558.6,109.1 559.3,108.2 560.2,107.4 561.3,106.9 561.6,104.4 563.5,104.9 564.9,106.2 566.1,106.6 567.2,107.0 568.4,107.4 569.2,108.2 569.8,109.2 572.4,109.8" fill="url(#f3)"/>
<polygon points="570.2,111.2 571.9,112.5 570.6,113.6 569.0,114.0 568.3,114.9 567.9,116.4 567.0,118.1 564.9,116.2 563.7,116.1 562.5,115.9 560.2,117.1 560.5,114.7 559.4,114.1 556.7,114.0 558.6,112.2 555.3,111.2 558.3,110.1 558.6,109.1 559.3,108.2 560.2,107.4 561.3,106.9 561.6,104.4 563.5,104.9 564.9,106.2 566.1,106.6 567.2,107.0 568.4,107.4 569.2,108.2 569.8,109.2 572.4,109.8" fill="url(#sp3)"/>
<polygon points="570.2,111.2 571.9,112.5 570.6,113.6 569.0,114.0 568.3,114.9 567.9,116.4 567.0,118.1 564.9,116.2 563.7,116.1 562.5,115.9 560.2,117.1 560.5,114.7 559.4,114.1 556.7,114.0 558.6,112.2 555.3,111.2 558.3,110.1 558.6,109.1 559.3,108.2 560.2,107.4 561.3,106.9 561.6,104.4 563.5,104.9 564.9,106.2 566.1,106.6 567.2,107.0 568.4,107.4 569.2,108.2 569.8,109.2 572.4,109.8" fill="none" stroke="#8a7258" stroke-width="0.5" stroke-linejoin="round"/>
<polygon points="599.3,129.0 598.8,130.0 598.8,131.1 601.0,133.5 599.2,134.5 595.8,133.4 594.5,133.9 593.0,134.0 591.3,135.9 590.1,133.8 588.7,133.4 586.0,134.0 586.4,132.1 585.8,131.1 584.0,130.3 583.9,129.0 583.8,127.7 584.1,126.4 586.5,126.0 587.5,125.2 588.9,124.8 589.5,122.9 591.3,121.9 593.1,123.8 595.5,122.1 595.9,124.5 597.8,124.6 598.2,125.9 598.7,127.0 599.0,128.0" fill="url(#f3)"/>
<polygon points="599.3,129.0 598.8,130.0 598.8,131.1 601.0,133.5 599.2,134.5 595.8,133.4 594.5,133.9 593.0,134.0 591.3,135.9 590.1,133.8 588.7,133.4 586.0,134.0 586.4,132.1 585.8,131.1 584.0,130.3 583.9,129.0 583.8,127.7 584.1,126.4 586.5,126.0 587.5,125.2 588.9,124.8 589.5,122.9 591.3,121.9 593.1,123.8 595.5,122.1 595.9,124.5 597.8,124.6 598.2,125.9 598.7,127.0 599.0,128.0" fill="url(#sp3)"/>
<polygon points="599.3,129.0 598.8,130.0 598.8,131.1 601.0,133.5 599.2,134.5 595.8,133.4 594.5,133.9 593.0,134.0 591.3,135.9 590.1,133.8 588.7,133.4 586.0,134.0 586.4,132.1 585.8,131.1 584.0,130.3 583.9,129.0 583.8,127.7 584.1,126.4 586.5,126.0 587.5,125.2 588.9,124.8 589.5,122.9 591.3,121.9 593.1,123.8 595.5,122.1 595.9,124.5 597.8,124.6 598.2,125.9 598.7,127.0 599.0,128.0" fill="none" stroke="#8a7258" stroke-width="0.5" stroke-linejoin="round"/>
<polygon points="518.7,140.2 519.0,141.7 518.3,143.1 517.2,144.1 516.5,145.4 515.2,146.1 513.9,146.6 512.6,147.4 511.0,147.5 509.6,146.9 508.3,146.3 507.3,145.2 506.4,144.1 505.5,143.0 505.2,141.6 504.6,140.2 505.2,138.8 505.4,137.4 506.4,136.3 507.3,135.2 508.4,134.2 509.6,133.5 511.1,133.4 512.5,133.2 514.0,133.5 515.2,134.3 516.5,135.0 517.2,136.3 518.3,137.3 518.9,138.7" fill="url(#f3)"/>
<polygon points="518.7,140.2 519.0,141.7 518.3,143.1 517.2,144.1 516.5,145.4 515.2,146.1 513.9,146.6 512.6,147.4 511.0,147.5 509.6,146.9 508.3,146.3 507.3,145.2 506.4,144.1 505.5,143.0 505.2,141.6 504.6,140.2 505.2,138.8 505.4,137.4 506.4,136.3 507.3,135.2 508.4,134.2 509.6,133.5 511.1,133.4 512.5,133.2 514.0,133.5 515.2,134.3 516.5,135.0 517.2,136.3 518.3,137.3 518.9,138.7" fill="url(#sp3)"/>
<polygon points="518.7,140.2 519.0,141.7 518.3,143.1 517.2,144.1 516.5,145.4 515.2,146.1 513.9,146.6 512.6,147.4 511.0,147.5 509.6,146.9 508.3,146.3 507.3,145.2 506.4,144.1 505.5,143.0 505.2,141.6 504.6,140.2 505.2,138.8 505.4,137.4 506.4,136.3 507.3,135.2 508.4,134.2 509.6,133.5 511.1,133.4 512.5,133.2 514.0,133.5 515.2,134.3 516.5,135.0 517.2,136.3 518.3,137.3 518.9,138.7" fill="none" stroke="#6a5440" stroke-width="0.8" stroke-linejoin="round"/>
<polygon points="529.2,157.9 527.7,159.1 529.8,161.2 528.7,162.7 525.2,162.3 524.0,163.3 523.6,166.3 521.0,165.7 518.8,165.7 517.0,164.7 515.9,163.1 514.8,162.2 513.3,161.5 512.8,160.3 509.3,159.6 508.4,157.9 512.0,156.6 512.6,155.5 509.8,152.4 512.9,152.0 515.8,152.5 517.4,152.2 518.9,150.7 521.2,148.8 523.5,149.5 525.6,150.5 526.5,152.4 526.6,154.3 526.9,155.6 529.3,156.4" fill="url(#f3)"/>
<polygon points="529.2,157.9 527.7,159.1 529.8,161.2 528.7,162.7 525.2,162.3 524.0,163.3 523.6,166.3 521.0,165.7 518.8,165.7 517.0,164.7 515.9,163.1 514.8,162.2 513.3,161.5 512.8,160.3 509.3,159.6 508.4,157.9 512.0,156.6 512.6,155.5 509.8,152.4 512.9,152.0 515.8,152.5 517.4,152.2 518.9,150.7 521.2,148.8 523.5,149.5 525.6,150.5 526.5,152.4 526.6,154.3 526.9,155.6 529.3,156.4" fill="url(#sp3)"/>
<polygon points="529.2,157.9 527.7,159.1 529.8,161.2 528.7,162.7 525.2,162.3 524.0,163.3 523.6,166.3 521.0,165.7 518.8,165.7 517.0,164.7 515.9,163.1 514.8,162.2 513.3,161.5 512.8,160.3 509.3,159.6 508.4,157.9 512.0,156.6 512.6,155.5 509.8,152.4 512.9,152.0 515.8,152.5 517.4,152.2 518.9,150.7 521.2,148.8 523.5,149.5 525.6,150.5 526.5,152.4 526.6,154.3 526.9,155.6 529.3,156.4" fill="none" stroke="#8a7258" stroke-width="0.5" stroke-linejoin="round"/>
<polygon points="585.1,149.9 584.6,151.5 585.2,153.4 581.3,153.6 579.8,154.3 578.7,155.3 577.0,155.3 575.5,156.1 573.5,157.6 571.0,158.1 570.5,155.2 566.6,156.5 566.7,154.2 564.8,153.2 564.9,151.4 566.2,149.9 562.7,148.0 567.2,147.4 565.1,144.7 569.3,145.5 570.6,144.7 571.5,142.8 573.4,141.2 575.4,143.9 578.4,141.2 578.5,144.9 582.9,143.0 584.0,144.8 582.2,147.4 585.3,148.2" fill="url(#f3)"/>
<polygon points="585.1,149.9 584.6,151.5 585.2,153.4 581.3,153.6 579.8,154.3 578.7,155.3 577.0,155.3 575.5,156.1 573.5,157.6 571.0,158.1 570.5,155.2 566.6,156.5 566.7,154.2 564.8,153.2 564.9,151.4 566.2,149.9 562.7,148.0 567.2,147.4 565.1,144.7 569.3,145.5 570.6,144.7 571.5,142.8 573.4,141.2 575.4,143.9 578.4,141.2 578.5,144.9 582.9,143.0 584.0,144.8 582.2,147.4 585.3,148.2" fill="url(#sp3)"/>
<polygon points="585.1,149.9 584.6,151.5 585.2,153.4 581.3,153.6 579.8,154.3 578.7,155.3 577.0,155.3 575.5,156.1 573.5,157.6 571.0,158.1 570.5,155.2 566.6,156.5 566.7,154.2 564.8,153.2 564.9,151.4 566.2,149.9 562.7,148.0 567.2,147.4 565.1,144.7 569.3,145.5 570.6,144.7 571.5,142.8 573.4,141.2 575.4,143.9 578.4,141.2 578.5,144.9 582.9,143.0 584.0,144.8 582.2,147.4 585.3,148.2" fill="none" stroke="#8a7258" stroke-width="0.5" stroke-linejoin="round"/>
<polygon points="613.8,148.3 613.8,149.1 614.7,150.4 613.3,150.7 612.7,151.3 612.0,151.7 611.3,152.2 610.4,152.3 609.6,152.3 608.8,152.1 608.0,151.8 607.3,151.3 606.9,150.5 606.5,149.9 606.3,149.1 605.9,148.3 605.9,147.4 604.7,145.9 606.6,145.8 607.3,145.3 608.0,144.8 608.8,144.5 609.6,144.5 610.4,144.2 611.3,144.3 611.9,145.0 612.6,145.4 613.2,145.9 615.6,145.8 613.8,147.5" fill="url(#f3)"/>
<polygon points="613.8,148.3 613.8,149.1 614.7,150.4 613.3,150.7 612.7,151.3 612.0,151.7 611.3,152.2 610.4,152.3 609.6,152.3 608.8,152.1 608.0,151.8 607.3,151.3 606.9,150.5 606.5,149.9 606.3,149.1 605.9,148.3 605.9,147.4 604.7,145.9 606.6,145.8 607.3,145.3 608.0,144.8 608.8,144.5 609.6,144.5 610.4,144.2 611.3,144.3 611.9,145.0 612.6,145.4 613.2,145.9 615.6,145.8 613.8,147.5" fill="url(#sp3)"/>
<polygon points="613.8,148.3 613.8,149.1 614.7,150.4 613.3,150.7 612.7,151.3 612.0,151.7 611.3,152.2 610.4,152.3 609.6,152.3 608.8,152.1 608.0,151.8 607.3,151.3 606.9,150.5 606.5,149.9 606.3,149.1 605.9,148.3 605.9,147.4 604.7,145.9 606.6,145.8 607.3,145.3 608.0,144.8 608.8,144.5 609.6,144.5 610.4,144.2 611.3,144.3 611.9,145.0 612.6,145.4 613.2,145.9 615.6,145.8 613.8,147.5" fill="none" stroke="#6a5440" stroke-width="0.8" stroke-linejoin="round"/>
<polygon points="580.3,74.2 580.2,74.8 579.8,75.4 579.4,75.9 578.9,76.4 578.2,76.8 578.0,78.3 576.6,77.3 575.8,77.2 574.5,78.2 573.5,77.8 573.6,76.4 572.8,76.0 572.6,75.4 570.2,75.2 572.1,74.2 572.3,73.6 572.7,73.0 571.7,71.8 572.3,71.0 573.7,71.0 574.4,70.2 575.8,71.3 576.6,71.3 577.8,70.5 578.2,71.6 578.9,72.0 579.5,72.4 580.0,72.9 580.0,73.6" fill="url(#f3)"/>
<polygon points="580.3,74.2 580.2,74.8 579.8,75.4 579.4,75.9 578.9,76.4 578.2,76.8 578.0,78.3 576.6,77.3 575.8,77.2 574.5,78.2 573.5,77.8 573.6,76.4 572.8,76.0 572.6,75.4 570.2,75.2 572.1,74.2 572.3,73.6 572.7,73.0 571.7,71.8 572.3,71.0 573.7,71.0 574.4,70.2 575.8,71.3 576.6,71.3 577.8,70.5 578.2,71.6 578.9,72.0 579.5,72.4 580.0,72.9 580.0,73.6" fill="url(#sp3)"/>
<polygon points="580.3,74.2 580.2,74.8 579.8,75.4 579.4,75.9 578.9,76.4 578.2,76.8 578.0,78.3 576.6,77.3 575.8,77.2 574.5,78.2 573.5,77.8 573.6,76.4 572.8,76.0 572.6,75.4 570.2,75.2 572.1,74.2 572.3,73.6 572.7,73.0 571.7,71.8 572.3,71.0 573.7,71.0 574.4,70.2 575.8,71.3 576.6,71.3 577.8,70.5 578.2,71.6 578.9,72.0 579.5,72.4 580.0,72.9 580.0,73.6" fill="none" stroke="#8a7258" stroke-width="0.5" stroke-linejoin="round"/>
<polygon points="557.3,178.8 556.9,179.8 556.6,180.8 556.1,181.7 555.4,182.5 554.7,183.2 553.6,183.4 552.8,185.6 551.6,184.0 550.6,183.4 549.7,183.0 548.9,182.4 548.0,181.8 547.4,180.9 547.1,179.9 547.1,178.8 547.3,177.8 547.8,176.9 547.1,175.1 548.8,175.2 549.6,174.5 550.5,173.9 551.6,173.6 552.8,171.7 553.7,173.9 554.6,174.4 555.3,175.2 556.1,175.9 556.7,176.8 557.0,177.8" fill="url(#f3)"/>
<polygon points="557.3,178.8 556.9,179.8 556.6,180.8 556.1,181.7 555.4,182.5 554.7,183.2 553.6,183.4 552.8,185.6 551.6,184.0 550.6,183.4 549.7,183.0 548.9,182.4 548.0,181.8 547.4,180.9 547.1,179.9 547.1,178.8 547.3,177.8 547.8,176.9 547.1,175.1 548.8,175.2 549.6,174.5 550.5,173.9 551.6,173.6 552.8,171.7 553.7,173.9 554.6,174.4 555.3,175.2 556.1,175.9 556.7,176.8 557.0,177.8" fill="url(#sp3)"/>
<polygon points="557.3,178.8 556.9,179.8 556.6,180.8 556.1,181.7 555.4,182.5 554.7,183.2 553.6,183.4 552.8,185.6 551.6,184.0 550.6,183.4 549.7,183.0 548.9,182.4 548.0,181.8 547.4,180.9 547.1,179.9 547.1,178.8 547.3,177.8 547.8,176.9 547.1,175.1 548.8,175.2 549.6,174.5 550.5,173.9 551.6,173.6 552.8,171.7 553.7,173.9 554.6,174.4 555.3,175.2 556.1,175.9 556.7,176.8 557.0,177.8" fill="none" stroke="#8a7258" stroke-width="0.5" stroke-linejoin="round"/>
<polygon points="643.3,182.0 643.1,183.2 640.2,183.6 641.0,185.0 639.1,184.9 638.4,185.6 637.8,187.0 636.3,185.8 635.3,185.8 634.2,185.8 633.4,185.4 632.4,185.0 631.9,184.3 628.9,184.5 630.8,182.9 630.8,182.0 630.8,181.1 630.5,180.1 631.9,179.7 632.3,178.9 632.8,177.8 633.7,176.8 635.3,177.9 636.6,176.2 637.3,178.3 638.3,178.5 640.5,177.8 640.8,179.1 640.6,180.3 642.8,180.8" fill="url(#f3)"/>
<polygon points="643.3,182.0 643.1,183.2 640.2,183.6 641.0,185.0 639.1,184.9 638.4,185.6 637.8,187.0 636.3,185.8 635.3,185.8 634.2,185.8 633.4,185.4 632.4,185.0 631.9,184.3 628.9,184.5 630.8,182.9 630.8,182.0 630.8,181.1 630.5,180.1 631.9,179.7 632.3,178.9 632.8,177.8 633.7,176.8 635.3,177.9 636.6,176.2 637.3,178.3 638.3,178.5 640.5,177.8 640.8,179.1 640.6,180.3 642.8,180.8" fill="url(#sp3)"/>
<polygon points="643.3,182.0 643.1,183.2 640.2,183.6 641.0,185.0 639.1,184.9 638.4,185.6 637.8,187.0 636.3,185.8 635.3,185.8 634.2,185.8 633.4,185.4 632.4,185.0 631.9,184.3 628.9,184.5 630.8,182.9 630.8,182.0 630.8,181.1 630.5,180.1 631.9,179.7 632.3,178.9 632.8,177.8 633.7,176.8 635.3,177.9 636.6,176.2 637.3,178.3 638.3,178.5 640.5,177.8 640.8,179.1 640.6,180.3 642.8,180.8" fill="none" stroke="#8a7258" stroke-width="0.5" stroke-linejoin="round"/>
<polygon points="662.5,42.0 662.1,42.8 661.9,43.6 661.6,44.3 662.2,46.2 660.9,46.3 659.6,45.6 658.8,46.1 657.8,47.7 657.2,45.7 656.4,45.5 655.8,44.9 653.5,45.6 654.7,43.6 653.0,43.1 652.3,42.0 654.7,41.2 654.7,40.4 655.1,39.6 654.7,37.9 656.3,38.4 656.5,36.1 658.0,38.0 658.8,37.9 659.6,38.3 660.3,38.6 661.2,38.9 661.8,39.6 662.1,40.4 662.3,41.2" fill="url(#f3)"/>
<polygon points="662.5,42.0 662.1,42.8 661.9,43.6 661.6,44.3 662.2,46.2 660.9,46.3 659.6,45.6 658.8,46.1 657.8,47.7 657.2,45.7 656.4,45.5 655.8,44.9 653.5,45.6 654.7,43.6 653.0,43.1 652.3,42.0 654.7,41.2 654.7,40.4 655.1,39.6 654.7,37.9 656.3,38.4 656.5,36.1 658.0,38.0 658.8,37.9 659.6,38.3 660.3,38.6 661.2,38.9 661.8,39.6 662.1,40.4 662.3,41.2" fill="url(#sp3)"/>
<polygon points="662.5,42.0 662.1,42.8 661.9,43.6 661.6,44.3 662.2,46.2 660.9,46.3 659.6,45.6 658.8,46.1 657.8,47.7 657.2,45.7 656.4,45.5 655.8,44.9 653.5,45.6 654.7,43.6 653.0,43.1 652.3,42.0 654.7,41.2 654.7,40.4 655.1,39.6 654.7,37.9 656.3,38.4 656.5,36.1 658.0,38.0 658.8,37.9 659.6,38.3 660.3,38.6 661.2,38.9 661.8,39.6 662.1,40.4 662.3,41.2" fill="none" stroke="#8a7258" stroke-width="0.5" stroke-linejoin="round"/>
<polygon points="645.6,68.8 643.8,69.6 643.6,70.4 642.9,71.1 643.2,72.5 641.5,72.3 640.5,72.5 639.7,74.0 638.5,72.6 637.4,72.8 635.4,73.7 635.8,71.6 634.9,71.2 633.7,70.7 633.9,69.7 632.0,68.8 632.1,67.6 634.5,67.2 633.4,65.5 635.6,65.8 636.4,65.2 637.5,65.0 638.5,65.0 639.7,63.8 641.1,63.6 641.6,65.3 642.3,65.9 644.1,65.8 645.3,66.6 643.9,68.0" fill="url(#f3)"/>
<polygon points="645.6,68.8 643.8,69.6 643.6,70.4 642.9,71.1 643.2,72.5 641.5,72.3 640.5,72.5 639.7,74.0 638.5,72.6 637.4,72.8 635.4,73.7 635.8,71.6 634.9,71.2 633.7,70.7 633.9,69.7 632.0,68.8 632.1,67.6 634.5,67.2 633.4,65.5 635.6,65.8 636.4,65.2 637.5,65.0 638.5,65.0 639.7,63.8 641.1,63.6 641.6,65.3 642.3,65.9 644.1,65.8 645.3,66.6 643.9,68.0" fill="url(#sp3)"/>
<polygon points="645.6,68.8 643.8,69.6 643.6,70.4 642.9,71.1 643.2,72.5 641.5,72.3 640.5,72.5 639.7,74.0 638.5,72.6 637.4,72.8 635.4,73.7 635.8,71.6 634.9,71.2 633.7,70.7 633.9,69.7 632.0,68.8 632.1,67.6 634.5,67.2 633.4,65.5 635.6,65.8 636.4,65.2 637.5,65.0 638.5,65.0 639.7,63.8 641.1,63.6 641.6,65.3 642.3,65.9 644.1,65.8 645.3,66.6 643.9,68.0" fill="none" stroke="#8a7258" stroke-width="0.5" stroke-linejoin="round"/>
<polygon points="639.1,51.8 646.7,61.2 643.8,63.5 656.3,70.4 652.3,56.7 649.4,59.0 641.9,49.6" fill="#000"/>
<polygon points="604.4,104.4 598.2,109.5 595.8,106.6 589.2,119.3 602.9,115.1 600.5,112.2 606.6,107.0" fill="#000"/>
<polygon points="688.8,125.8 693.8,119.0 696.9,121.3 700.3,107.4 688.0,114.7 691.0,117.0 686.0,123.8" fill="#000"/>
<polygon points="556.5,145.8 557.6,139.4 561.3,140.0 558.1,126.1 550.5,138.2 554.2,138.8 553.1,145.2" fill="#000"/>
<polygon points="597.0,169.3 593.7,162.6 597.0,160.9 586.3,151.5 587.2,165.8 590.5,164.1 593.8,170.9" fill="#000"/>
<rect x="666.4" y="185.8" width="34" height="2.3" fill="#000"/>
</g>
<text x="6.2" y="17.6" font-family="'Liberation Sans', sans-serif" font-size="21.5" font-weight="normal" fill="#000" text-anchor="start">A</text>
<text x="102.5" y="22.4" font-family="'Liberation Sans', sans-serif" font-size="15.5" font-weight="normal" fill="#000" text-anchor="start" textLength="50.0" lengthAdjust="spacingAndGlyphs">Control</text>
<text x="279.8" y="22.6" font-family="'Liberation Sans', sans-serif" font-size="15.5" font-weight="normal" fill="#000" text-anchor="start" textLength="123.4" lengthAdjust="spacingAndGlyphs">5 μM SB747651A</text>
<text x="518.7" y="22.0" font-family="'Liberation Sans', sans-serif" font-size="15.5" font-weight="normal" fill="#000" text-anchor="start" textLength="131.0" lengthAdjust="spacingAndGlyphs">10 μM SB747651A</text>
<text x="6.0" y="229.7" font-family="'Liberation Sans', sans-serif" font-size="21.5" font-weight="normal" fill="#000" text-anchor="start">B</text>
<text x="141.8" y="240.3" font-family="'Liberation Serif', serif" font-size="18.5" font-weight="bold" fill="#000" text-anchor="start" textLength="27.8" lengthAdjust="spacingAndGlyphs">T78</text>
<line x1="58.4" y1="262.7" x2="254.5" y2="262.7" stroke="#666" stroke-width="0.8" stroke-dasharray="1,1.6"/>
<line x1="58.4" y1="262.7" x2="58.4" y2="405.6" stroke="#000" stroke-width="1.6"/>
<line x1="57.6" y1="404.8" x2="255.2" y2="404.8" stroke="#000" stroke-width="1.6"/>
<line x1="53.9" y1="262.7" x2="58.4" y2="262.7" stroke="#000" stroke-width="1.6"/>
<text x="53.2" y="268.6" font-family="'Liberation Serif', serif" font-size="15" font-weight="bold" fill="#000" text-anchor="end" textLength="23.5" lengthAdjust="spacingAndGlyphs" stroke="#000" stroke-width="0.35">-0.0</text>
<line x1="53.9" y1="291.1" x2="58.4" y2="291.1" stroke="#000" stroke-width="1.6"/>
<text x="53.2" y="297.0" font-family="'Liberation Serif', serif" font-size="15" font-weight="bold" fill="#000" text-anchor="end" textLength="23.5" lengthAdjust="spacingAndGlyphs" stroke="#000" stroke-width="0.35">-0.2</text>
<line x1="53.9" y1="319.5" x2="58.4" y2="319.5" stroke="#000" stroke-width="1.6"/>
<text x="53.2" y="325.4" font-family="'Liberation Serif', serif" font-size="15" font-weight="bold" fill="#000" text-anchor="end" textLength="23.5" lengthAdjust="spacingAndGlyphs" stroke="#000" stroke-width="0.35">-0.4</text>
<line x1="53.9" y1="348.0" x2="58.4" y2="348.0" stroke="#000" stroke-width="1.6"/>
<text x="53.2" y="353.9" font-family="'Liberation Serif', serif" font-size="15" font-weight="bold" fill="#000" text-anchor="end" textLength="23.5" lengthAdjust="spacingAndGlyphs" stroke="#000" stroke-width="0.35">-0.6</text>
<line x1="53.9" y1="376.4" x2="58.4" y2="376.4" stroke="#000" stroke-width="1.6"/>
<text x="53.2" y="382.3" font-family="'Liberation Serif', serif" font-size="15" font-weight="bold" fill="#000" text-anchor="end" textLength="23.5" lengthAdjust="spacingAndGlyphs" stroke="#000" stroke-width="0.35">-0.8</text>
<line x1="53.9" y1="404.8" x2="58.4" y2="404.8" stroke="#000" stroke-width="1.6"/>
<text x="53.2" y="410.7" font-family="'Liberation Serif', serif" font-size="15" font-weight="bold" fill="#000" text-anchor="end" textLength="23.5" lengthAdjust="spacingAndGlyphs" stroke="#000" stroke-width="0.35">-1.0</text>
<line x1="58.4" y1="404.8" x2="58.4" y2="409.8" stroke="#000" stroke-width="1.6"/>
<text x="58.4" y="424.8" font-family="'Liberation Serif', serif" font-size="15" font-weight="bold" fill="#000" text-anchor="middle" textLength="7.0" lengthAdjust="spacingAndGlyphs" stroke="#000" stroke-width="0.35">0</text>
<line x1="97.6" y1="404.8" x2="97.6" y2="409.8" stroke="#000" stroke-width="1.6"/>
<text x="97.6" y="424.8" font-family="'Liberation Serif', serif" font-size="15" font-weight="bold" fill="#000" text-anchor="middle" textLength="7.0" lengthAdjust="spacingAndGlyphs" stroke="#000" stroke-width="0.35">5</text>
<line x1="136.8" y1="404.8" x2="136.8" y2="409.8" stroke="#000" stroke-width="1.6"/>
<text x="136.8" y="424.8" font-family="'Liberation Serif', serif" font-size="15" font-weight="bold" fill="#000" text-anchor="middle" textLength="14.0" lengthAdjust="spacingAndGlyphs" stroke="#000" stroke-width="0.35">10</text>
<line x1="176.0" y1="404.8" x2="176.0" y2="409.8" stroke="#000" stroke-width="1.6"/>
<text x="176.0" y="424.8" font-family="'Liberation Serif', serif" font-size="15" font-weight="bold" fill="#000" text-anchor="middle" textLength="14.0" lengthAdjust="spacingAndGlyphs" stroke="#000" stroke-width="0.35">15</text>
<line x1="215.2" y1="404.8" x2="215.2" y2="409.8" stroke="#000" stroke-width="1.6"/>
<text x="215.2" y="424.8" font-family="'Liberation Serif', serif" font-size="15" font-weight="bold" fill="#000" text-anchor="middle" textLength="14.0" lengthAdjust="spacingAndGlyphs" stroke="#000" stroke-width="0.35">20</text>
<line x1="254.4" y1="404.8" x2="254.4" y2="409.8" stroke="#000" stroke-width="1.6"/>
<text x="254.4" y="424.8" font-family="'Liberation Serif', serif" font-size="15" font-weight="bold" fill="#000" text-anchor="middle" textLength="14.0" lengthAdjust="spacingAndGlyphs" stroke="#000" stroke-width="0.35">25</text>
<text x="114.0" y="444.5" font-family="'Liberation Serif', serif" font-size="15.5" font-weight="bold" fill="#000" text-anchor="start" textLength="83.6" lengthAdjust="spacingAndGlyphs">Cells per well</text>
<text transform="translate(24.3,428.4) rotate(-90)" font-family="'Liberation Serif', serif" font-size="17" font-weight="bold" textLength="191.4" lengthAdjust="spacingAndGlyphs">Log fraction without spheres</text>
<line x1="58.4" y1="262.7" x2="99.0" y2="404.8" stroke="#0000cc" stroke-width="2.0"/>
<line x1="58.4" y1="262.7" x2="131.7" y2="404.8" stroke="#008000" stroke-width="2.0"/>
<line x1="58.4" y1="262.7" x2="161.4" y2="404.8" stroke="#ff0000" stroke-width="2.0"/>
<circle cx="58.4" cy="262.7" r="2.6" fill="#0000cc"/>
<polygon points="58.4,259.3 61.8,265.4 55.0,265.4" fill="#008000"/>
<polygon points="58.4,259.7 61.4,262.7 58.4,265.7 55.4,262.7" fill="#ff0000"/>
<circle cx="66.2" cy="299.6" r="2.6" fill="#0000cc"/>
<polygon points="66.2,284.2 69.6,290.3 62.8,290.3" fill="#008000"/>
<polygon points="66.2,268.2 69.2,271.2 66.2,274.2 63.2,271.2" fill="#ff0000"/>
<polygon points="136.8,383.9 139.8,386.9 136.8,389.9 133.8,386.9" fill="#ff0000"/>
<circle cx="99.0" cy="404.8" r="2.6" fill="#0000cc"/>
<polygon points="131.7,401.4 135.1,407.5 128.3,407.5" fill="#008000"/>
<polygon points="161.4,401.8 164.4,404.8 161.4,407.8 158.4,404.8" fill="#ff0000"/>
<line x1="178.2" y1="278.6" x2="192.0" y2="278.6" stroke="#0000cc" stroke-width="2.2"/>
<text x="199.6" y="282.7" font-family="'Liberation Serif', serif" font-size="14" font-weight="normal" fill="#000" text-anchor="start" textLength="38.4" lengthAdjust="spacingAndGlyphs">Control</text>
<line x1="178.2" y1="296.9" x2="192.0" y2="296.9" stroke="#008000" stroke-width="2.2"/>
<text x="199.6" y="301.5" font-family="'Liberation Serif', serif" font-size="14" font-weight="normal" fill="#000" text-anchor="start" textLength="89.6" lengthAdjust="spacingAndGlyphs">5 μM SB747651A</text>
<line x1="178.2" y1="314.4" x2="192.0" y2="314.4" stroke="#ff0000" stroke-width="2.2"/>
<text x="199.6" y="319.2" font-family="'Liberation Serif', serif" font-size="14" font-weight="normal" fill="#000" text-anchor="start" textLength="94.8" lengthAdjust="spacingAndGlyphs">10 μM SB747651A</text>
<text x="177.8" y="341.1" font-family="'Liberation Serif', serif" font-size="14" font-weight="normal" fill="#1c1ca8" text-anchor="start" textLength="99.9" lengthAdjust="spacingAndGlyphs">TICF control = 5.18</text>
<text x="177.8" y="360.7" font-family="'Liberation Serif', serif" font-size="14" font-weight="normal" fill="#1a7a1a" text-anchor="start" textLength="154.9" lengthAdjust="spacingAndGlyphs">TICF 5 μM SB747651A = 9.35</text>
<text x="177.8" y="380.7" font-family="'Liberation Serif', serif" font-size="14" font-weight="normal" fill="#e0141c" text-anchor="start" textLength="166.6" lengthAdjust="spacingAndGlyphs">TICF 10 μM SB747651A = 13.14</text>
<polyline points="338.6,332.4 343.4,332.4 343.4,356.7 338.6,356.7" fill="none" stroke="#222" stroke-width="1.4"/>
<text x="349.1" y="352.0" font-family="'Liberation Sans', sans-serif" font-size="13.0" fill="#2a2a2a" text-anchor="middle" stroke="#2a2a2a" stroke-width="0.3">*</text>
<text x="355.1" y="352.0" font-family="'Liberation Sans', sans-serif" font-size="13.0" fill="#2a2a2a" text-anchor="middle" stroke="#2a2a2a" stroke-width="0.3">*</text>
<text x="361.1" y="352.0" font-family="'Liberation Sans', sans-serif" font-size="13.0" fill="#2a2a2a" text-anchor="middle" stroke="#2a2a2a" stroke-width="0.3">*</text>
<polyline points="348.0,356.7 352.4,356.7 352.4,381.0 348.0,381.0" fill="none" stroke="#222" stroke-width="1.4"/>
<text x="358.1" y="375.8" font-family="'Liberation Sans', sans-serif" font-size="13.0" fill="#2a2a2a" text-anchor="middle" stroke="#2a2a2a" stroke-width="0.3">*</text>
<polyline points="370.3,332.4 374.6,332.4 374.6,381.5 370.3,381.5" fill="none" stroke="#222" stroke-width="1.4"/>
<text x="380.8" y="364.5" font-family="'Liberation Sans', sans-serif" font-size="13.0" fill="#2a2a2a" text-anchor="middle" stroke="#2a2a2a" stroke-width="0.3">*</text>
<text x="386.7" y="364.5" font-family="'Liberation Sans', sans-serif" font-size="13.0" fill="#2a2a2a" text-anchor="middle" stroke="#2a2a2a" stroke-width="0.3">*</text>
<text x="392.6" y="364.5" font-family="'Liberation Sans', sans-serif" font-size="13.0" fill="#2a2a2a" text-anchor="middle" stroke="#2a2a2a" stroke-width="0.3">*</text>
<text x="1.2" y="471.2" font-family="'Liberation Sans', sans-serif" font-size="21.5" font-weight="normal" fill="#000" text-anchor="start">C</text>
<text x="147.4" y="480.2" font-family="'Liberation Serif', serif" font-size="18.5" font-weight="bold" fill="#000" text-anchor="start" textLength="29.0" lengthAdjust="spacingAndGlyphs">T86</text>
<line x1="59.2" y1="503.5" x2="265.8" y2="503.5" stroke="#666" stroke-width="0.8" stroke-dasharray="1,1.6"/>
<line x1="59.2" y1="503.5" x2="59.2" y2="646.5" stroke="#000" stroke-width="1.6"/>
<line x1="58.4" y1="645.7" x2="267.0" y2="645.7" stroke="#000" stroke-width="1.6"/>
<line x1="54.7" y1="503.5" x2="59.2" y2="503.5" stroke="#000" stroke-width="1.6"/>
<text x="54.0" y="509.4" font-family="'Liberation Serif', serif" font-size="15" font-weight="bold" fill="#000" text-anchor="end" textLength="23.7" lengthAdjust="spacingAndGlyphs" stroke="#000" stroke-width="0.35">-0.0</text>
<line x1="54.7" y1="531.9" x2="59.2" y2="531.9" stroke="#000" stroke-width="1.6"/>
<text x="54.0" y="537.8" font-family="'Liberation Serif', serif" font-size="15" font-weight="bold" fill="#000" text-anchor="end" textLength="23.7" lengthAdjust="spacingAndGlyphs" stroke="#000" stroke-width="0.35">-0.2</text>
<line x1="54.7" y1="560.4" x2="59.2" y2="560.4" stroke="#000" stroke-width="1.6"/>
<text x="54.0" y="566.3" font-family="'Liberation Serif', serif" font-size="15" font-weight="bold" fill="#000" text-anchor="end" textLength="23.7" lengthAdjust="spacingAndGlyphs" stroke="#000" stroke-width="0.35">-0.4</text>
<line x1="54.7" y1="588.8" x2="59.2" y2="588.8" stroke="#000" stroke-width="1.6"/>
<text x="54.0" y="594.7" font-family="'Liberation Serif', serif" font-size="15" font-weight="bold" fill="#000" text-anchor="end" textLength="23.7" lengthAdjust="spacingAndGlyphs" stroke="#000" stroke-width="0.35">-0.6</text>
<line x1="54.7" y1="617.3" x2="59.2" y2="617.3" stroke="#000" stroke-width="1.6"/>
<text x="54.0" y="623.2" font-family="'Liberation Serif', serif" font-size="15" font-weight="bold" fill="#000" text-anchor="end" textLength="23.7" lengthAdjust="spacingAndGlyphs" stroke="#000" stroke-width="0.35">-0.8</text>
<line x1="54.7" y1="645.7" x2="59.2" y2="645.7" stroke="#000" stroke-width="1.6"/>
<text x="54.0" y="651.6" font-family="'Liberation Serif', serif" font-size="15" font-weight="bold" fill="#000" text-anchor="end" textLength="23.7" lengthAdjust="spacingAndGlyphs" stroke="#000" stroke-width="0.35">-1.0</text>
<line x1="59.2" y1="645.7" x2="59.2" y2="650.7" stroke="#000" stroke-width="1.6"/>
<text x="59.2" y="665.2" font-family="'Liberation Serif', serif" font-size="15" font-weight="bold" fill="#000" text-anchor="middle" textLength="7.0" lengthAdjust="spacingAndGlyphs" stroke="#000" stroke-width="0.35">0</text>
<line x1="100.6" y1="645.7" x2="100.6" y2="650.7" stroke="#000" stroke-width="1.6"/>
<text x="100.6" y="665.2" font-family="'Liberation Serif', serif" font-size="15" font-weight="bold" fill="#000" text-anchor="middle" textLength="7.0" lengthAdjust="spacingAndGlyphs" stroke="#000" stroke-width="0.35">5</text>
<line x1="142.0" y1="645.7" x2="142.0" y2="650.7" stroke="#000" stroke-width="1.6"/>
<text x="142.0" y="665.2" font-family="'Liberation Serif', serif" font-size="15" font-weight="bold" fill="#000" text-anchor="middle" textLength="14.0" lengthAdjust="spacingAndGlyphs" stroke="#000" stroke-width="0.35">10</text>
<line x1="183.4" y1="645.7" x2="183.4" y2="650.7" stroke="#000" stroke-width="1.6"/>
<text x="183.4" y="665.2" font-family="'Liberation Serif', serif" font-size="15" font-weight="bold" fill="#000" text-anchor="middle" textLength="14.0" lengthAdjust="spacingAndGlyphs" stroke="#000" stroke-width="0.35">15</text>
<line x1="224.8" y1="645.7" x2="224.8" y2="650.7" stroke="#000" stroke-width="1.6"/>
<text x="224.8" y="665.2" font-family="'Liberation Serif', serif" font-size="15" font-weight="bold" fill="#000" text-anchor="middle" textLength="14.0" lengthAdjust="spacingAndGlyphs" stroke="#000" stroke-width="0.35">20</text>
<line x1="266.2" y1="645.7" x2="266.2" y2="650.7" stroke="#000" stroke-width="1.6"/>
<text x="266.2" y="665.2" font-family="'Liberation Serif', serif" font-size="15" font-weight="bold" fill="#000" text-anchor="middle" textLength="14.0" lengthAdjust="spacingAndGlyphs" stroke="#000" stroke-width="0.35">25</text>
<text x="118.1" y="684.7" font-family="'Liberation Serif', serif" font-size="15.5" font-weight="bold" fill="#000" text-anchor="start" textLength="88.3" lengthAdjust="spacingAndGlyphs">Cells per well</text>
<text transform="translate(22.7,667.1) rotate(-90)" font-family="'Liberation Serif', serif" font-size="17" font-weight="bold" textLength="190.7" lengthAdjust="spacingAndGlyphs">Log fraction without spheres</text>
<line x1="59.2" y1="503.5" x2="94.1" y2="645.7" stroke="#0000cc" stroke-width="2.0"/>
<line x1="59.2" y1="503.5" x2="133.5" y2="645.7" stroke="#008000" stroke-width="2.0"/>
<line x1="59.2" y1="503.5" x2="158.1" y2="645.7" stroke="#ff0000" stroke-width="2.0"/>
<circle cx="59.2" cy="503.5" r="2.6" fill="#0000cc"/>
<polygon points="59.2,500.1 62.6,506.2 55.8,506.2" fill="#008000"/>
<polygon points="59.2,500.5 62.2,503.5 59.2,506.5 56.2,503.5" fill="#ff0000"/>
<circle cx="67.5" cy="540.0" r="2.6" fill="#0000cc"/>
<polygon points="67.5,524.3 70.9,530.4 64.1,530.4" fill="#008000"/>
<polygon points="67.5,508.5 70.5,511.5 67.5,514.5 64.5,511.5" fill="#ff0000"/>
<polygon points="142.0,623.4 145.0,626.4 142.0,629.4 139.0,626.4" fill="#ff0000"/>
<circle cx="94.1" cy="645.7" r="2.6" fill="#0000cc"/>
<polygon points="133.5,642.3 136.9,648.4 130.1,648.4" fill="#008000"/>
<polygon points="158.1,642.7 161.1,645.7 158.1,648.7 155.1,645.7" fill="#ff0000"/>
<line x1="174.3" y1="513.3" x2="188.2" y2="513.3" stroke="#0000cc" stroke-width="2.2"/>
<text x="196.8" y="517.7" font-family="'Liberation Serif', serif" font-size="14" font-weight="normal" fill="#000" text-anchor="start" textLength="39.5" lengthAdjust="spacingAndGlyphs">Control</text>
<line x1="174.3" y1="531.2" x2="188.2" y2="531.2" stroke="#008000" stroke-width="2.2"/>
<text x="196.8" y="536.0" font-family="'Liberation Serif', serif" font-size="14" font-weight="normal" fill="#000" text-anchor="start" textLength="94.2" lengthAdjust="spacingAndGlyphs">5 μM SB747651A</text>
<line x1="174.3" y1="547.6" x2="188.2" y2="547.6" stroke="#ff0000" stroke-width="2.2"/>
<text x="196.8" y="551.6" font-family="'Liberation Serif', serif" font-size="14" font-weight="normal" fill="#000" text-anchor="start" textLength="100.5" lengthAdjust="spacingAndGlyphs">10 μM SB747651A</text>
<text x="170.0" y="570.5" font-family="'Liberation Serif', serif" font-size="14" font-weight="normal" fill="#1c1ca8" text-anchor="start" textLength="104.2" lengthAdjust="spacingAndGlyphs">TICF control = 4.21</text>
<text x="170.0" y="593.0" font-family="'Liberation Serif', serif" font-size="14" font-weight="normal" fill="#1a7a1a" text-anchor="start" textLength="163.2" lengthAdjust="spacingAndGlyphs">TICF 5 μM SB747651A = 8.97</text>
<text x="170.0" y="613.7" font-family="'Liberation Serif', serif" font-size="14" font-weight="normal" fill="#e0141c" text-anchor="start" textLength="175.4" lengthAdjust="spacingAndGlyphs">TICF 10 μM SB747651A = 11.94</text>
<polyline points="336.4,564.7 341.4,564.7 341.4,588.5 336.4,588.5" fill="none" stroke="#222" stroke-width="1.4"/>
<text x="348.3" y="582.6" font-family="'Liberation Sans', sans-serif" font-size="13.0" fill="#2a2a2a" text-anchor="middle" stroke="#2a2a2a" stroke-width="0.3">*</text>
<text x="354.5" y="582.6" font-family="'Liberation Sans', sans-serif" font-size="13.0" fill="#2a2a2a" text-anchor="middle" stroke="#2a2a2a" stroke-width="0.3">*</text>
<text x="360.7" y="582.6" font-family="'Liberation Sans', sans-serif" font-size="13.0" fill="#2a2a2a" text-anchor="middle" stroke="#2a2a2a" stroke-width="0.3">*</text>
<polyline points="370.2,564.7 374.2,564.7 374.2,611.2 370.2,611.2" fill="none" stroke="#222" stroke-width="1.4"/>
<text x="380.5" y="596.2" font-family="'Liberation Sans', sans-serif" font-size="13.0" fill="#2a2a2a" text-anchor="middle" stroke="#2a2a2a" stroke-width="0.3">*</text>
<text x="386.7" y="596.2" font-family="'Liberation Sans', sans-serif" font-size="13.0" fill="#2a2a2a" text-anchor="middle" stroke="#2a2a2a" stroke-width="0.3">*</text>
<text x="392.9" y="596.2" font-family="'Liberation Sans', sans-serif" font-size="13.0" fill="#2a2a2a" text-anchor="middle" stroke="#2a2a2a" stroke-width="0.3">*</text>
<text x="2.3" y="718.3" font-family="'Liberation Sans', sans-serif" font-size="21.5" font-weight="normal" fill="#000" text-anchor="start">D</text>
<text x="130.5" y="729.3" font-family="'Liberation Serif', serif" font-size="18.5" font-weight="bold" fill="#000" text-anchor="start" textLength="32.4" lengthAdjust="spacingAndGlyphs">T111</text>
<line x1="54.0" y1="752.2" x2="241.1" y2="752.2" stroke="#666" stroke-width="0.8" stroke-dasharray="1,1.6"/>
<line x1="54.0" y1="752.2" x2="54.0" y2="895.5" stroke="#000" stroke-width="1.6"/>
<line x1="53.2" y1="894.7" x2="241.3" y2="894.7" stroke="#000" stroke-width="1.6"/>
<line x1="49.5" y1="752.2" x2="54.0" y2="752.2" stroke="#000" stroke-width="1.6"/>
<text x="48.8" y="758.1" font-family="'Liberation Serif', serif" font-size="15" font-weight="bold" fill="#000" text-anchor="end" textLength="23.0" lengthAdjust="spacingAndGlyphs" stroke="#000" stroke-width="0.35">-0.0</text>
<line x1="49.5" y1="780.7" x2="54.0" y2="780.7" stroke="#000" stroke-width="1.6"/>
<text x="48.8" y="786.6" font-family="'Liberation Serif', serif" font-size="15" font-weight="bold" fill="#000" text-anchor="end" textLength="23.0" lengthAdjust="spacingAndGlyphs" stroke="#000" stroke-width="0.35">-0.2</text>
<line x1="49.5" y1="809.2" x2="54.0" y2="809.2" stroke="#000" stroke-width="1.6"/>
<text x="48.8" y="815.1" font-family="'Liberation Serif', serif" font-size="15" font-weight="bold" fill="#000" text-anchor="end" textLength="23.0" lengthAdjust="spacingAndGlyphs" stroke="#000" stroke-width="0.35">-0.4</text>
<line x1="49.5" y1="837.7" x2="54.0" y2="837.7" stroke="#000" stroke-width="1.6"/>
<text x="48.8" y="843.6" font-family="'Liberation Serif', serif" font-size="15" font-weight="bold" fill="#000" text-anchor="end" textLength="23.0" lengthAdjust="spacingAndGlyphs" stroke="#000" stroke-width="0.35">-0.6</text>
<line x1="49.5" y1="866.2" x2="54.0" y2="866.2" stroke="#000" stroke-width="1.6"/>
<text x="48.8" y="872.1" font-family="'Liberation Serif', serif" font-size="15" font-weight="bold" fill="#000" text-anchor="end" textLength="23.0" lengthAdjust="spacingAndGlyphs" stroke="#000" stroke-width="0.35">-0.8</text>
<line x1="49.5" y1="894.7" x2="54.0" y2="894.7" stroke="#000" stroke-width="1.6"/>
<text x="48.8" y="900.6" font-family="'Liberation Serif', serif" font-size="15" font-weight="bold" fill="#000" text-anchor="end" textLength="23.0" lengthAdjust="spacingAndGlyphs" stroke="#000" stroke-width="0.35">-1.0</text>
<line x1="54.0" y1="894.7" x2="54.0" y2="899.7" stroke="#000" stroke-width="1.6"/>
<text x="54.0" y="914.2" font-family="'Liberation Serif', serif" font-size="15" font-weight="bold" fill="#000" text-anchor="middle" textLength="7.0" lengthAdjust="spacingAndGlyphs" stroke="#000" stroke-width="0.35">0</text>
<line x1="91.3" y1="894.7" x2="91.3" y2="899.7" stroke="#000" stroke-width="1.6"/>
<text x="91.3" y="914.2" font-family="'Liberation Serif', serif" font-size="15" font-weight="bold" fill="#000" text-anchor="middle" textLength="7.0" lengthAdjust="spacingAndGlyphs" stroke="#000" stroke-width="0.35">5</text>
<line x1="128.6" y1="894.7" x2="128.6" y2="899.7" stroke="#000" stroke-width="1.6"/>
<text x="128.6" y="914.2" font-family="'Liberation Serif', serif" font-size="15" font-weight="bold" fill="#000" text-anchor="middle" textLength="14.0" lengthAdjust="spacingAndGlyphs" stroke="#000" stroke-width="0.35">10</text>
<line x1="165.9" y1="894.7" x2="165.9" y2="899.7" stroke="#000" stroke-width="1.6"/>
<text x="165.9" y="914.2" font-family="'Liberation Serif', serif" font-size="15" font-weight="bold" fill="#000" text-anchor="middle" textLength="14.0" lengthAdjust="spacingAndGlyphs" stroke="#000" stroke-width="0.35">15</text>
<line x1="203.2" y1="894.7" x2="203.2" y2="899.7" stroke="#000" stroke-width="1.6"/>
<text x="203.2" y="914.2" font-family="'Liberation Serif', serif" font-size="15" font-weight="bold" fill="#000" text-anchor="middle" textLength="14.0" lengthAdjust="spacingAndGlyphs" stroke="#000" stroke-width="0.35">20</text>
<line x1="240.5" y1="894.7" x2="240.5" y2="899.7" stroke="#000" stroke-width="1.6"/>
<text x="240.5" y="914.2" font-family="'Liberation Serif', serif" font-size="15" font-weight="bold" fill="#000" text-anchor="middle" textLength="14.0" lengthAdjust="spacingAndGlyphs" stroke="#000" stroke-width="0.35">25</text>
<text x="107.2" y="933.3" font-family="'Liberation Serif', serif" font-size="15.5" font-weight="bold" fill="#000" text-anchor="start" textLength="79.5" lengthAdjust="spacingAndGlyphs">Cells per well</text>
<text transform="translate(22.9,916.9) rotate(-90)" font-family="'Liberation Serif', serif" font-size="16.5" font-weight="bold" textLength="190.5" lengthAdjust="spacingAndGlyphs">Log fraction without spheres</text>
<line x1="54.0" y1="752.2" x2="83.0" y2="894.7" stroke="#0000cc" stroke-width="2.0"/>
<line x1="54.0" y1="752.2" x2="112.0" y2="894.7" stroke="#008000" stroke-width="2.0"/>
<line x1="54.0" y1="752.2" x2="214.3" y2="894.7" stroke="#ff0000" stroke-width="2.0"/>
<circle cx="54.0" cy="752.2" r="2.6" fill="#0000cc"/>
<polygon points="54.0,748.8 57.4,754.9 50.6,754.9" fill="#008000"/>
<polygon points="54.0,749.2 57.0,752.2 54.0,755.2 51.0,752.2" fill="#ff0000"/>
<circle cx="61.5" cy="820.0" r="2.6" fill="#0000cc"/>
<polygon points="61.5,770.2 64.9,776.3 58.1,776.3" fill="#008000"/>
<polygon points="61.5,760.6 64.5,763.6 61.5,766.6 58.5,763.6" fill="#ff0000"/>
<polygon points="128.6,853.2 131.6,856.2 128.6,859.2 125.6,856.2" fill="#ff0000"/>
<circle cx="83.0" cy="894.7" r="2.6" fill="#0000cc"/>
<line x1="181.3" y1="758.8" x2="194.2" y2="758.8" stroke="#0000cc" stroke-width="2.2"/>
<text x="201.4" y="762.9" font-family="'Liberation Serif', serif" font-size="13.5" font-weight="normal" fill="#000" text-anchor="start" textLength="35.9" lengthAdjust="spacingAndGlyphs">Control</text>
<line x1="181.3" y1="777.6" x2="194.2" y2="777.6" stroke="#008000" stroke-width="2.2"/>
<text x="201.4" y="782.1" font-family="'Liberation Serif', serif" font-size="13.5" font-weight="normal" fill="#000" text-anchor="start" textLength="84.6" lengthAdjust="spacingAndGlyphs">5 μM SB747651A</text>
<line x1="181.3" y1="795.0" x2="194.2" y2="795.0" stroke="#ff0000" stroke-width="2.2"/>
<text x="201.4" y="799.6" font-family="'Liberation Serif', serif" font-size="13.5" font-weight="normal" fill="#000" text-anchor="start" textLength="90.1" lengthAdjust="spacingAndGlyphs">10 μM SB747651A</text>
<text x="181.6" y="818.2" font-family="'Liberation Serif', serif" font-size="13.5" font-weight="normal" fill="#1c1ca8" text-anchor="start" textLength="94.2" lengthAdjust="spacingAndGlyphs">TICF control = 3.89</text>
<text x="181.6" y="838.1" font-family="'Liberation Serif', serif" font-size="13.5" font-weight="normal" fill="#1a7a1a" text-anchor="start" textLength="146.4" lengthAdjust="spacingAndGlyphs">TICF 5 μM SB747651A = 7.77</text>
<text x="181.6" y="858.3" font-family="'Liberation Serif', serif" font-size="13.5" font-weight="normal" fill="#e0141c" text-anchor="start" textLength="157.2" lengthAdjust="spacingAndGlyphs">TICF 10 μM SB747651A = 21.49</text>
<polyline points="331.2,812.3 335.5,812.3 335.5,836.6 331.2,836.6" fill="none" stroke="#222" stroke-width="1.4"/>
<text x="341.1" y="831.3" font-family="'Liberation Sans', sans-serif" font-size="13.0" fill="#2a2a2a" text-anchor="middle" stroke="#2a2a2a" stroke-width="0.3">*</text>
<text x="346.8" y="831.3" font-family="'Liberation Sans', sans-serif" font-size="13.0" fill="#2a2a2a" text-anchor="middle" stroke="#2a2a2a" stroke-width="0.3">*</text>
<text x="352.5" y="831.3" font-family="'Liberation Sans', sans-serif" font-size="13.0" fill="#2a2a2a" text-anchor="middle" stroke="#2a2a2a" stroke-width="0.3">*</text>
<polyline points="343.3,833.7 346.7,833.7 346.7,858.5 343.3,858.5" fill="none" stroke="#222" stroke-width="1.4"/>
<text x="352.3" y="852.5" font-family="'Liberation Sans', sans-serif" font-size="13.0" fill="#2a2a2a" text-anchor="middle" stroke="#2a2a2a" stroke-width="0.3">*</text>
<text x="358.0" y="852.5" font-family="'Liberation Sans', sans-serif" font-size="13.0" fill="#2a2a2a" text-anchor="middle" stroke="#2a2a2a" stroke-width="0.3">*</text>
<text x="363.7" y="852.5" font-family="'Liberation Sans', sans-serif" font-size="13.0" fill="#2a2a2a" text-anchor="middle" stroke="#2a2a2a" stroke-width="0.3">*</text>
<polyline points="369.8,810.8 373.4,810.8 373.4,860.0 369.8,860.0" fill="none" stroke="#222" stroke-width="1.4"/>
<text x="381.7" y="841.8" font-family="'Liberation Sans', sans-serif" font-size="13.0" fill="#2a2a2a" text-anchor="middle" stroke="#2a2a2a" stroke-width="0.3">*</text>
<text x="387.3" y="841.8" font-family="'Liberation Sans', sans-serif" font-size="13.0" fill="#2a2a2a" text-anchor="middle" stroke="#2a2a2a" stroke-width="0.3">*</text>
<text x="392.9" y="841.8" font-family="'Liberation Sans', sans-serif" font-size="13.0" fill="#2a2a2a" text-anchor="middle" stroke="#2a2a2a" stroke-width="0.3">*</text>
<text x="429.4" y="236.8" font-family="'Liberation Sans', sans-serif" font-size="21.5" font-weight="normal" fill="#000" text-anchor="start">E</text>
<text x="564.6" y="223.1" font-family="'Liberation Serif', serif" font-size="18.5" font-weight="bold" fill="#000" text-anchor="start" textLength="30.3" lengthAdjust="spacingAndGlyphs">T78</text>
<g fill="#0000cc">
<circle cx="486.6" cy="394.7" r="1.1"/>
<circle cx="490.9" cy="394.7" r="1.1"/>
<circle cx="495.2" cy="394.7" r="1.1"/>
<circle cx="499.6" cy="394.7" r="1.1"/>
<circle cx="503.9" cy="394.7" r="1.1"/>
<circle cx="508.3" cy="394.7" r="1.1"/>
<circle cx="512.6" cy="394.7" r="1.1"/>
<circle cx="517.0" cy="394.7" r="1.1"/>
<circle cx="521.4" cy="394.7" r="1.1"/>
<circle cx="525.7" cy="394.7" r="1.1"/>
<circle cx="530.0" cy="394.7" r="1.1"/>
<circle cx="488.7" cy="392.3" r="1.1"/>
<circle cx="493.1" cy="392.3" r="1.1"/>
<circle cx="497.4" cy="392.3" r="1.1"/>
<circle cx="501.8" cy="392.3" r="1.1"/>
<circle cx="506.1" cy="392.3" r="1.1"/>
<circle cx="510.5" cy="392.3" r="1.1"/>
<circle cx="514.8" cy="392.3" r="1.1"/>
<circle cx="519.2" cy="392.3" r="1.1"/>
<circle cx="523.5" cy="392.3" r="1.1"/>
<circle cx="527.9" cy="392.3" r="1.1"/>
<circle cx="486.6" cy="389.9" r="1.1"/>
<circle cx="490.9" cy="389.9" r="1.1"/>
<circle cx="495.2" cy="389.9" r="1.1"/>
<circle cx="499.6" cy="389.9" r="1.1"/>
<circle cx="503.9" cy="389.9" r="1.1"/>
<circle cx="508.3" cy="389.9" r="1.1"/>
<circle cx="512.6" cy="389.9" r="1.1"/>
<circle cx="517.0" cy="389.9" r="1.1"/>
<circle cx="521.4" cy="389.9" r="1.1"/>
<circle cx="525.7" cy="389.9" r="1.1"/>
<circle cx="530.0" cy="389.9" r="1.1"/>
<circle cx="488.7" cy="387.5" r="1.1"/>
<circle cx="493.1" cy="387.5" r="1.1"/>
<circle cx="497.4" cy="387.5" r="1.1"/>
<circle cx="501.8" cy="387.5" r="1.1"/>
<circle cx="506.1" cy="387.5" r="1.1"/>
<circle cx="510.5" cy="387.5" r="1.1"/>
<circle cx="514.8" cy="387.5" r="1.1"/>
<circle cx="519.2" cy="387.5" r="1.1"/>
<circle cx="523.5" cy="387.5" r="1.1"/>
<circle cx="527.9" cy="387.5" r="1.1"/>
<circle cx="486.6" cy="385.1" r="1.1"/>
<circle cx="490.9" cy="385.1" r="1.1"/>
<circle cx="495.2" cy="385.1" r="1.1"/>
<circle cx="499.6" cy="385.1" r="1.1"/>
<circle cx="503.9" cy="385.1" r="1.1"/>
<circle cx="508.3" cy="385.1" r="1.1"/>
<circle cx="512.6" cy="385.1" r="1.1"/>
<circle cx="517.0" cy="385.1" r="1.1"/>
<circle cx="521.4" cy="385.1" r="1.1"/>
<circle cx="525.7" cy="385.1" r="1.1"/>
<circle cx="530.0" cy="385.1" r="1.1"/>
<circle cx="488.7" cy="382.7" r="1.1"/>
<circle cx="493.1" cy="382.7" r="1.1"/>
<circle cx="497.4" cy="382.7" r="1.1"/>
<circle cx="501.8" cy="382.7" r="1.1"/>
<circle cx="506.1" cy="382.7" r="1.1"/>
<circle cx="510.5" cy="382.7" r="1.1"/>
<circle cx="514.8" cy="382.7" r="1.1"/>
<circle cx="519.2" cy="382.7" r="1.1"/>
<circle cx="523.5" cy="382.7" r="1.1"/>
<circle cx="527.9" cy="382.7" r="1.1"/>
<circle cx="486.6" cy="380.3" r="1.1"/>
<circle cx="490.9" cy="380.3" r="1.1"/>
<circle cx="495.2" cy="380.3" r="1.1"/>
<circle cx="499.6" cy="380.3" r="1.1"/>
<circle cx="503.9" cy="380.3" r="1.1"/>
<circle cx="508.3" cy="380.3" r="1.1"/>
<circle cx="512.6" cy="380.3" r="1.1"/>
<circle cx="517.0" cy="380.3" r="1.1"/>
<circle cx="521.4" cy="380.3" r="1.1"/>
<circle cx="525.7" cy="380.3" r="1.1"/>
<circle cx="530.0" cy="380.3" r="1.1"/>
<circle cx="488.7" cy="377.9" r="1.1"/>
<circle cx="493.1" cy="377.9" r="1.1"/>
<circle cx="497.4" cy="377.9" r="1.1"/>
<circle cx="501.8" cy="377.9" r="1.1"/>
<circle cx="506.1" cy="377.9" r="1.1"/>
<circle cx="510.5" cy="377.9" r="1.1"/>
<circle cx="514.8" cy="377.9" r="1.1"/>
<circle cx="519.2" cy="377.9" r="1.1"/>
<circle cx="523.5" cy="377.9" r="1.1"/>
<circle cx="527.9" cy="377.9" r="1.1"/>
<circle cx="486.6" cy="375.5" r="1.1"/>
<circle cx="490.9" cy="375.5" r="1.1"/>
<circle cx="495.2" cy="375.5" r="1.1"/>
<circle cx="499.6" cy="375.5" r="1.1"/>
<circle cx="503.9" cy="375.5" r="1.1"/>
<circle cx="508.3" cy="375.5" r="1.1"/>
<circle cx="512.6" cy="375.5" r="1.1"/>
<circle cx="517.0" cy="375.5" r="1.1"/>
<circle cx="521.4" cy="375.5" r="1.1"/>
<circle cx="525.7" cy="375.5" r="1.1"/>
<circle cx="530.0" cy="375.5" r="1.1"/>
<circle cx="488.7" cy="373.1" r="1.1"/>
<circle cx="493.1" cy="373.1" r="1.1"/>
<circle cx="497.4" cy="373.1" r="1.1"/>
<circle cx="501.8" cy="373.1" r="1.1"/>
<circle cx="506.1" cy="373.1" r="1.1"/>
<circle cx="510.5" cy="373.1" r="1.1"/>
<circle cx="514.8" cy="373.1" r="1.1"/>
<circle cx="519.2" cy="373.1" r="1.1"/>
<circle cx="523.5" cy="373.1" r="1.1"/>
<circle cx="527.9" cy="373.1" r="1.1"/>
<circle cx="486.6" cy="370.7" r="1.1"/>
<circle cx="490.9" cy="370.7" r="1.1"/>
<circle cx="495.2" cy="370.7" r="1.1"/>
<circle cx="499.6" cy="370.7" r="1.1"/>
<circle cx="503.9" cy="370.7" r="1.1"/>
<circle cx="508.3" cy="370.7" r="1.1"/>
<circle cx="512.6" cy="370.7" r="1.1"/>
<circle cx="517.0" cy="370.7" r="1.1"/>
<circle cx="521.4" cy="370.7" r="1.1"/>
<circle cx="525.7" cy="370.7" r="1.1"/>
<circle cx="530.0" cy="370.7" r="1.1"/>
<circle cx="488.7" cy="368.3" r="1.1"/>
<circle cx="493.1" cy="368.3" r="1.1"/>
<circle cx="497.4" cy="368.3" r="1.1"/>
<circle cx="501.8" cy="368.3" r="1.1"/>
<circle cx="506.1" cy="368.3" r="1.1"/>
<circle cx="510.5" cy="368.3" r="1.1"/>
<circle cx="514.8" cy="368.3" r="1.1"/>
<circle cx="519.2" cy="368.3" r="1.1"/>
<circle cx="523.5" cy="368.3" r="1.1"/>
<circle cx="527.9" cy="368.3" r="1.1"/>
<circle cx="486.6" cy="365.9" r="1.1"/>
<circle cx="490.9" cy="365.9" r="1.1"/>
<circle cx="495.2" cy="365.9" r="1.1"/>
<circle cx="499.6" cy="365.9" r="1.1"/>
<circle cx="503.9" cy="365.9" r="1.1"/>
<circle cx="508.3" cy="365.9" r="1.1"/>
<circle cx="512.6" cy="365.9" r="1.1"/>
<circle cx="517.0" cy="365.9" r="1.1"/>
<circle cx="521.4" cy="365.9" r="1.1"/>
<circle cx="525.7" cy="365.9" r="1.1"/>
<circle cx="530.0" cy="365.9" r="1.1"/>
<circle cx="488.7" cy="363.5" r="1.1"/>
<circle cx="493.1" cy="363.5" r="1.1"/>
<circle cx="497.4" cy="363.5" r="1.1"/>
<circle cx="501.8" cy="363.5" r="1.1"/>
<circle cx="506.1" cy="363.5" r="1.1"/>
<circle cx="510.5" cy="363.5" r="1.1"/>
<circle cx="514.8" cy="363.5" r="1.1"/>
<circle cx="519.2" cy="363.5" r="1.1"/>
<circle cx="523.5" cy="363.5" r="1.1"/>
<circle cx="527.9" cy="363.5" r="1.1"/>
<circle cx="486.6" cy="361.1" r="1.1"/>
<circle cx="490.9" cy="361.1" r="1.1"/>
<circle cx="495.2" cy="361.1" r="1.1"/>
<circle cx="499.6" cy="361.1" r="1.1"/>
<circle cx="503.9" cy="361.1" r="1.1"/>
<circle cx="508.3" cy="361.1" r="1.1"/>
<circle cx="512.6" cy="361.1" r="1.1"/>
<circle cx="517.0" cy="361.1" r="1.1"/>
<circle cx="521.4" cy="361.1" r="1.1"/>
<circle cx="525.7" cy="361.1" r="1.1"/>
<circle cx="530.0" cy="361.1" r="1.1"/>
<circle cx="506.1" cy="397.2" r="1.1"/>
<circle cx="510.5" cy="397.2" r="1.1"/>
<circle cx="514.8" cy="397.2" r="1.1"/>
<circle cx="486.6" cy="395.8" r="1.1"/>
<circle cx="495.2" cy="395.8" r="1.1"/>
<circle cx="499.6" cy="395.8" r="1.1"/>
<circle cx="503.9" cy="395.8" r="1.1"/>
<circle cx="508.3" cy="395.8" r="1.1"/>
<circle cx="512.6" cy="395.8" r="1.1"/>
<circle cx="521.4" cy="395.8" r="1.1"/>
<circle cx="490.9" cy="358.7" r="1.1"/>
<circle cx="495.2" cy="358.7" r="1.1"/>
<circle cx="499.6" cy="358.7" r="1.1"/>
<circle cx="512.6" cy="358.7" r="1.1"/>
<circle cx="517.0" cy="358.7" r="1.1"/>
<circle cx="490.9" cy="356.6" r="1.1"/>
<circle cx="495.2" cy="356.6" r="1.1"/>
<circle cx="499.6" cy="356.6" r="1.1"/>
<circle cx="503.9" cy="356.6" r="1.1"/>
<circle cx="508.3" cy="356.6" r="1.1"/>
<circle cx="512.6" cy="356.6" r="1.1"/>
<circle cx="517.0" cy="356.6" r="1.1"/>
<circle cx="521.4" cy="356.6" r="1.1"/>
<circle cx="486.6" cy="354.4" r="1.1"/>
<circle cx="495.2" cy="354.4" r="1.1"/>
<circle cx="503.9" cy="354.4" r="1.1"/>
<circle cx="512.6" cy="354.4" r="1.1"/>
<circle cx="521.4" cy="354.4" r="1.1"/>
<circle cx="525.7" cy="354.4" r="1.1"/>
<circle cx="486.6" cy="352.2" r="1.1"/>
<circle cx="490.9" cy="352.2" r="1.1"/>
<circle cx="499.6" cy="352.2" r="1.1"/>
<circle cx="503.9" cy="352.2" r="1.1"/>
<circle cx="508.3" cy="352.2" r="1.1"/>
<circle cx="517.0" cy="352.2" r="1.1"/>
<circle cx="525.7" cy="352.2" r="1.1"/>
<circle cx="530.0" cy="352.2" r="1.1"/>
<circle cx="486.6" cy="350.0" r="1.1"/>
<circle cx="490.9" cy="350.0" r="1.1"/>
<circle cx="499.6" cy="350.0" r="1.1"/>
<circle cx="503.9" cy="350.0" r="1.1"/>
<circle cx="508.3" cy="350.0" r="1.1"/>
<circle cx="512.6" cy="350.0" r="1.1"/>
<circle cx="517.0" cy="350.0" r="1.1"/>
<circle cx="521.4" cy="350.0" r="1.1"/>
<circle cx="525.7" cy="350.0" r="1.1"/>
<circle cx="530.0" cy="350.0" r="1.1"/>
<circle cx="490.9" cy="347.5" r="1.1"/>
<circle cx="503.9" cy="347.5" r="1.1"/>
<circle cx="508.3" cy="347.5" r="1.1"/>
<circle cx="517.0" cy="347.5" r="1.1"/>
<circle cx="521.4" cy="347.5" r="1.1"/>
<circle cx="495.2" cy="344.6" r="1.1"/>
<circle cx="503.9" cy="344.6" r="1.1"/>
<circle cx="508.3" cy="344.6" r="1.1"/>
<circle cx="512.6" cy="344.6" r="1.1"/>
<circle cx="517.0" cy="344.6" r="1.1"/>
<circle cx="521.4" cy="344.6" r="1.1"/>
<circle cx="499.6" cy="342.8" r="1.1"/>
<circle cx="503.9" cy="342.8" r="1.1"/>
<circle cx="512.6" cy="342.8" r="1.1"/>
<circle cx="521.4" cy="342.8" r="1.1"/>
<circle cx="508.3" cy="337.3" r="1.1"/>
<circle cx="512.6" cy="337.3" r="1.1"/>
<circle cx="495.2" cy="333.3" r="1.1"/>
<circle cx="499.6" cy="333.3" r="1.1"/>
<circle cx="503.9" cy="333.3" r="1.1"/>
<circle cx="508.3" cy="333.3" r="1.1"/>
<circle cx="517.0" cy="333.3" r="1.1"/>
<circle cx="521.4" cy="333.3" r="1.1"/>
<circle cx="508.3" cy="330.1" r="1.1"/>
<circle cx="512.6" cy="330.1" r="1.1"/>
<circle cx="517.0" cy="330.1" r="1.1"/>
<circle cx="499.6" cy="326.4" r="1.1"/>
<circle cx="503.9" cy="326.4" r="1.1"/>
<circle cx="508.3" cy="326.4" r="1.1"/>
<circle cx="503.9" cy="323.5" r="1.1"/>
<circle cx="508.3" cy="323.5" r="1.1"/>
<circle cx="512.6" cy="323.5" r="1.1"/>
<circle cx="497.4" cy="320.6" r="1.1"/>
<circle cx="501.8" cy="320.6" r="1.1"/>
<circle cx="506.1" cy="320.6" r="1.1"/>
<circle cx="510.5" cy="320.6" r="1.1"/>
<circle cx="514.8" cy="320.6" r="1.1"/>
<circle cx="519.2" cy="320.6" r="1.1"/>
<circle cx="506.1" cy="315.6" r="1.1"/>
<circle cx="510.5" cy="315.6" r="1.1"/>
<circle cx="508.3" cy="307.2" r="1.1"/>
<circle cx="508.3" cy="301.0" r="1.1"/>
<circle cx="503.9" cy="292.7" r="1.1"/>
<circle cx="508.3" cy="292.7" r="1.1"/>
<circle cx="512.6" cy="292.7" r="1.1"/>
</g>
<g fill="#008000">
<rect x="557.6" y="394.3" width="2.2" height="2.2"/>
<rect x="562.0" y="394.3" width="2.2" height="2.2"/>
<rect x="566.4" y="394.3" width="2.2" height="2.2"/>
<rect x="570.7" y="394.3" width="2.2" height="2.2"/>
<rect x="575.0" y="394.3" width="2.2" height="2.2"/>
<rect x="579.4" y="394.3" width="2.2" height="2.2"/>
<rect x="583.8" y="394.3" width="2.2" height="2.2"/>
<rect x="588.1" y="394.3" width="2.2" height="2.2"/>
<rect x="592.4" y="394.3" width="2.2" height="2.2"/>
<rect x="596.8" y="394.3" width="2.2" height="2.2"/>
<rect x="601.1" y="394.3" width="2.2" height="2.2"/>
<rect x="559.8" y="391.9" width="2.2" height="2.2"/>
<rect x="564.2" y="391.9" width="2.2" height="2.2"/>
<rect x="568.5" y="391.9" width="2.2" height="2.2"/>
<rect x="572.9" y="391.9" width="2.2" height="2.2"/>
<rect x="577.2" y="391.9" width="2.2" height="2.2"/>
<rect x="581.6" y="391.9" width="2.2" height="2.2"/>
<rect x="585.9" y="391.9" width="2.2" height="2.2"/>
<rect x="590.3" y="391.9" width="2.2" height="2.2"/>
<rect x="594.6" y="391.9" width="2.2" height="2.2"/>
<rect x="599.0" y="391.9" width="2.2" height="2.2"/>
<rect x="557.6" y="389.5" width="2.2" height="2.2"/>
<rect x="562.0" y="389.5" width="2.2" height="2.2"/>
<rect x="566.4" y="389.5" width="2.2" height="2.2"/>
<rect x="570.7" y="389.5" width="2.2" height="2.2"/>
<rect x="575.0" y="389.5" width="2.2" height="2.2"/>
<rect x="579.4" y="389.5" width="2.2" height="2.2"/>
<rect x="583.8" y="389.5" width="2.2" height="2.2"/>
<rect x="588.1" y="389.5" width="2.2" height="2.2"/>
<rect x="592.4" y="389.5" width="2.2" height="2.2"/>
<rect x="596.8" y="389.5" width="2.2" height="2.2"/>
<rect x="601.1" y="389.5" width="2.2" height="2.2"/>
<rect x="559.8" y="387.1" width="2.2" height="2.2"/>
<rect x="564.2" y="387.1" width="2.2" height="2.2"/>
<rect x="568.5" y="387.1" width="2.2" height="2.2"/>
<rect x="572.9" y="387.1" width="2.2" height="2.2"/>
<rect x="577.2" y="387.1" width="2.2" height="2.2"/>
<rect x="581.6" y="387.1" width="2.2" height="2.2"/>
<rect x="585.9" y="387.1" width="2.2" height="2.2"/>
<rect x="590.3" y="387.1" width="2.2" height="2.2"/>
<rect x="594.6" y="387.1" width="2.2" height="2.2"/>
<rect x="599.0" y="387.1" width="2.2" height="2.2"/>
<rect x="557.6" y="384.7" width="2.2" height="2.2"/>
<rect x="562.0" y="384.7" width="2.2" height="2.2"/>
<rect x="566.4" y="384.7" width="2.2" height="2.2"/>
<rect x="570.7" y="384.7" width="2.2" height="2.2"/>
<rect x="575.0" y="384.7" width="2.2" height="2.2"/>
<rect x="579.4" y="384.7" width="2.2" height="2.2"/>
<rect x="583.8" y="384.7" width="2.2" height="2.2"/>
<rect x="588.1" y="384.7" width="2.2" height="2.2"/>
<rect x="592.4" y="384.7" width="2.2" height="2.2"/>
<rect x="596.8" y="384.7" width="2.2" height="2.2"/>
<rect x="601.1" y="384.7" width="2.2" height="2.2"/>
<rect x="559.8" y="382.3" width="2.2" height="2.2"/>
<rect x="564.2" y="382.3" width="2.2" height="2.2"/>
<rect x="568.5" y="382.3" width="2.2" height="2.2"/>
<rect x="572.9" y="382.3" width="2.2" height="2.2"/>
<rect x="577.2" y="382.3" width="2.2" height="2.2"/>
<rect x="581.6" y="382.3" width="2.2" height="2.2"/>
<rect x="585.9" y="382.3" width="2.2" height="2.2"/>
<rect x="590.3" y="382.3" width="2.2" height="2.2"/>
<rect x="594.6" y="382.3" width="2.2" height="2.2"/>
<rect x="599.0" y="382.3" width="2.2" height="2.2"/>
<rect x="557.6" y="379.9" width="2.2" height="2.2"/>
<rect x="562.0" y="379.9" width="2.2" height="2.2"/>
<rect x="566.4" y="379.9" width="2.2" height="2.2"/>
<rect x="570.7" y="379.9" width="2.2" height="2.2"/>
<rect x="575.0" y="379.9" width="2.2" height="2.2"/>
<rect x="579.4" y="379.9" width="2.2" height="2.2"/>
<rect x="583.8" y="379.9" width="2.2" height="2.2"/>
<rect x="588.1" y="379.9" width="2.2" height="2.2"/>
<rect x="592.4" y="379.9" width="2.2" height="2.2"/>
<rect x="596.8" y="379.9" width="2.2" height="2.2"/>
<rect x="601.1" y="379.9" width="2.2" height="2.2"/>
<rect x="559.8" y="377.5" width="2.2" height="2.2"/>
<rect x="564.2" y="377.5" width="2.2" height="2.2"/>
<rect x="568.5" y="377.5" width="2.2" height="2.2"/>
<rect x="572.9" y="377.5" width="2.2" height="2.2"/>
<rect x="577.2" y="377.5" width="2.2" height="2.2"/>
<rect x="581.6" y="377.5" width="2.2" height="2.2"/>
<rect x="585.9" y="377.5" width="2.2" height="2.2"/>
<rect x="590.3" y="377.5" width="2.2" height="2.2"/>
<rect x="594.6" y="377.5" width="2.2" height="2.2"/>
<rect x="599.0" y="377.5" width="2.2" height="2.2"/>
<rect x="557.6" y="375.1" width="2.2" height="2.2"/>
<rect x="562.0" y="375.1" width="2.2" height="2.2"/>
<rect x="566.4" y="375.1" width="2.2" height="2.2"/>
<rect x="570.7" y="375.1" width="2.2" height="2.2"/>
<rect x="575.0" y="375.1" width="2.2" height="2.2"/>
<rect x="579.4" y="375.1" width="2.2" height="2.2"/>
<rect x="583.8" y="375.1" width="2.2" height="2.2"/>
<rect x="588.1" y="375.1" width="2.2" height="2.2"/>
<rect x="592.4" y="375.1" width="2.2" height="2.2"/>
<rect x="596.8" y="375.1" width="2.2" height="2.2"/>
<rect x="601.1" y="375.1" width="2.2" height="2.2"/>
<rect x="559.8" y="372.7" width="2.2" height="2.2"/>
<rect x="564.2" y="372.7" width="2.2" height="2.2"/>
<rect x="568.5" y="372.7" width="2.2" height="2.2"/>
<rect x="572.9" y="372.7" width="2.2" height="2.2"/>
<rect x="577.2" y="372.7" width="2.2" height="2.2"/>
<rect x="581.6" y="372.7" width="2.2" height="2.2"/>
<rect x="585.9" y="372.7" width="2.2" height="2.2"/>
<rect x="590.3" y="372.7" width="2.2" height="2.2"/>
<rect x="594.6" y="372.7" width="2.2" height="2.2"/>
<rect x="599.0" y="372.7" width="2.2" height="2.2"/>
<rect x="557.6" y="370.3" width="2.2" height="2.2"/>
<rect x="562.0" y="370.3" width="2.2" height="2.2"/>
<rect x="566.4" y="370.3" width="2.2" height="2.2"/>
<rect x="570.7" y="370.3" width="2.2" height="2.2"/>
<rect x="575.0" y="370.3" width="2.2" height="2.2"/>
<rect x="579.4" y="370.3" width="2.2" height="2.2"/>
<rect x="583.8" y="370.3" width="2.2" height="2.2"/>
<rect x="588.1" y="370.3" width="2.2" height="2.2"/>
<rect x="592.4" y="370.3" width="2.2" height="2.2"/>
<rect x="596.8" y="370.3" width="2.2" height="2.2"/>
<rect x="601.1" y="370.3" width="2.2" height="2.2"/>
<rect x="559.8" y="367.9" width="2.2" height="2.2"/>
<rect x="564.2" y="367.9" width="2.2" height="2.2"/>
<rect x="568.5" y="367.9" width="2.2" height="2.2"/>
<rect x="572.9" y="367.9" width="2.2" height="2.2"/>
<rect x="577.2" y="367.9" width="2.2" height="2.2"/>
<rect x="581.6" y="367.9" width="2.2" height="2.2"/>
<rect x="585.9" y="367.9" width="2.2" height="2.2"/>
<rect x="590.3" y="367.9" width="2.2" height="2.2"/>
<rect x="594.6" y="367.9" width="2.2" height="2.2"/>
<rect x="599.0" y="367.9" width="2.2" height="2.2"/>
<rect x="557.6" y="365.5" width="2.2" height="2.2"/>
<rect x="562.0" y="365.5" width="2.2" height="2.2"/>
<rect x="566.4" y="365.5" width="2.2" height="2.2"/>
<rect x="570.7" y="365.5" width="2.2" height="2.2"/>
<rect x="575.0" y="365.5" width="2.2" height="2.2"/>
<rect x="579.4" y="365.5" width="2.2" height="2.2"/>
<rect x="583.8" y="365.5" width="2.2" height="2.2"/>
<rect x="588.1" y="365.5" width="2.2" height="2.2"/>
<rect x="592.4" y="365.5" width="2.2" height="2.2"/>
<rect x="596.8" y="365.5" width="2.2" height="2.2"/>
<rect x="601.1" y="365.5" width="2.2" height="2.2"/>
<rect x="570.7" y="396.1" width="2.2" height="2.2"/>
<rect x="575.0" y="396.1" width="2.2" height="2.2"/>
<rect x="579.4" y="396.1" width="2.2" height="2.2"/>
<rect x="583.8" y="396.1" width="2.2" height="2.2"/>
<rect x="588.1" y="396.1" width="2.2" height="2.2"/>
<rect x="592.4" y="396.1" width="2.2" height="2.2"/>
<rect x="566.4" y="362.7" width="2.2" height="2.2"/>
<rect x="570.7" y="362.7" width="2.2" height="2.2"/>
<rect x="575.0" y="362.7" width="2.2" height="2.2"/>
<rect x="579.4" y="362.7" width="2.2" height="2.2"/>
<rect x="583.8" y="362.7" width="2.2" height="2.2"/>
<rect x="588.1" y="362.7" width="2.2" height="2.2"/>
<rect x="592.4" y="362.7" width="2.2" height="2.2"/>
<rect x="596.8" y="362.7" width="2.2" height="2.2"/>
<rect x="601.1" y="362.7" width="2.2" height="2.2"/>
<rect x="557.6" y="360.2" width="2.2" height="2.2"/>
<rect x="562.0" y="360.2" width="2.2" height="2.2"/>
<rect x="566.4" y="360.2" width="2.2" height="2.2"/>
<rect x="575.0" y="360.2" width="2.2" height="2.2"/>
<rect x="588.1" y="360.2" width="2.2" height="2.2"/>
<rect x="592.4" y="360.2" width="2.2" height="2.2"/>
<rect x="596.8" y="360.2" width="2.2" height="2.2"/>
<rect x="601.1" y="360.2" width="2.2" height="2.2"/>
<rect x="557.6" y="357.6" width="2.2" height="2.2"/>
<rect x="562.0" y="357.6" width="2.2" height="2.2"/>
<rect x="566.4" y="357.6" width="2.2" height="2.2"/>
<rect x="570.7" y="357.6" width="2.2" height="2.2"/>
<rect x="575.0" y="357.6" width="2.2" height="2.2"/>
<rect x="579.4" y="357.6" width="2.2" height="2.2"/>
<rect x="588.1" y="357.6" width="2.2" height="2.2"/>
<rect x="596.8" y="357.6" width="2.2" height="2.2"/>
<rect x="557.6" y="355.1" width="2.2" height="2.2"/>
<rect x="562.0" y="355.1" width="2.2" height="2.2"/>
<rect x="570.7" y="355.1" width="2.2" height="2.2"/>
<rect x="575.0" y="355.1" width="2.2" height="2.2"/>
<rect x="588.1" y="355.1" width="2.2" height="2.2"/>
<rect x="596.8" y="355.1" width="2.2" height="2.2"/>
<rect x="575.0" y="352.2" width="2.2" height="2.2"/>
<rect x="579.4" y="352.2" width="2.2" height="2.2"/>
<rect x="575.0" y="348.9" width="2.2" height="2.2"/>
<rect x="579.4" y="348.9" width="2.2" height="2.2"/>
<rect x="583.8" y="348.9" width="2.2" height="2.2"/>
<rect x="570.7" y="346.4" width="2.2" height="2.2"/>
<rect x="583.8" y="346.4" width="2.2" height="2.2"/>
<rect x="588.1" y="346.4" width="2.2" height="2.2"/>
<rect x="575.0" y="340.6" width="2.2" height="2.2"/>
<rect x="579.4" y="340.6" width="2.2" height="2.2"/>
<rect x="577.2" y="335.5" width="2.2" height="2.2"/>
<rect x="581.6" y="335.5" width="2.2" height="2.2"/>
</g>
<g fill="#ff0000">
<polygon points="630.9,395.2 632.5,398.1 629.2,398.1"/>
<polygon points="635.2,395.2 636.8,398.1 633.6,398.1"/>
<polygon points="639.6,395.2 641.2,398.1 638.0,398.1"/>
<polygon points="643.9,395.2 645.5,398.1 642.3,398.1"/>
<polygon points="648.2,395.2 649.9,398.1 646.6,398.1"/>
<polygon points="652.6,395.2 654.2,398.1 651.0,398.1"/>
<polygon points="657.0,395.2 658.6,398.1 655.4,398.1"/>
<polygon points="661.3,395.2 662.9,398.1 659.7,398.1"/>
<polygon points="665.6,395.2 667.2,398.1 664.0,398.1"/>
<polygon points="670.0,395.2 671.6,398.1 668.4,398.1"/>
<polygon points="674.4,395.2 676.0,398.1 672.8,398.1"/>
<polygon points="633.0,392.8 634.6,395.7 631.4,395.7"/>
<polygon points="637.4,392.8 639.0,395.7 635.8,395.7"/>
<polygon points="641.7,392.8 643.3,395.7 640.1,395.7"/>
<polygon points="646.1,392.8 647.7,395.7 644.5,395.7"/>
<polygon points="650.4,392.8 652.0,395.7 648.8,395.7"/>
<polygon points="654.8,392.8 656.4,395.7 653.2,395.7"/>
<polygon points="659.1,392.8 660.7,395.7 657.5,395.7"/>
<polygon points="663.5,392.8 665.1,395.7 661.9,395.7"/>
<polygon points="667.8,392.8 669.4,395.7 666.2,395.7"/>
<polygon points="672.2,392.8 673.8,395.7 670.6,395.7"/>
<polygon points="630.9,390.4 632.5,393.3 629.2,393.3"/>
<polygon points="635.2,390.4 636.8,393.3 633.6,393.3"/>
<polygon points="639.6,390.4 641.2,393.3 638.0,393.3"/>
<polygon points="643.9,390.4 645.5,393.3 642.3,393.3"/>
<polygon points="648.2,390.4 649.9,393.3 646.6,393.3"/>
<polygon points="652.6,390.4 654.2,393.3 651.0,393.3"/>
<polygon points="657.0,390.4 658.6,393.3 655.4,393.3"/>
<polygon points="661.3,390.4 662.9,393.3 659.7,393.3"/>
<polygon points="665.6,390.4 667.2,393.3 664.0,393.3"/>
<polygon points="670.0,390.4 671.6,393.3 668.4,393.3"/>
<polygon points="674.4,390.4 676.0,393.3 672.8,393.3"/>
<polygon points="633.0,388.0 634.6,390.9 631.4,390.9"/>
<polygon points="637.4,388.0 639.0,390.9 635.8,390.9"/>
<polygon points="641.7,388.0 643.3,390.9 640.1,390.9"/>
<polygon points="646.1,388.0 647.7,390.9 644.5,390.9"/>
<polygon points="650.4,388.0 652.0,390.9 648.8,390.9"/>
<polygon points="654.8,388.0 656.4,390.9 653.2,390.9"/>
<polygon points="659.1,388.0 660.7,390.9 657.5,390.9"/>
<polygon points="663.5,388.0 665.1,390.9 661.9,390.9"/>
<polygon points="667.8,388.0 669.4,390.9 666.2,390.9"/>
<polygon points="672.2,388.0 673.8,390.9 670.6,390.9"/>
<polygon points="630.9,385.6 632.5,388.5 629.2,388.5"/>
<polygon points="635.2,385.6 636.8,388.5 633.6,388.5"/>
<polygon points="639.6,385.6 641.2,388.5 638.0,388.5"/>
<polygon points="643.9,385.6 645.5,388.5 642.3,388.5"/>
<polygon points="648.2,385.6 649.9,388.5 646.6,388.5"/>
<polygon points="652.6,385.6 654.2,388.5 651.0,388.5"/>
<polygon points="657.0,385.6 658.6,388.5 655.4,388.5"/>
<polygon points="661.3,385.6 662.9,388.5 659.7,388.5"/>
<polygon points="665.6,385.6 667.2,388.5 664.0,388.5"/>
<polygon points="670.0,385.6 671.6,388.5 668.4,388.5"/>
<polygon points="674.4,385.6 676.0,388.5 672.8,388.5"/>
<polygon points="633.0,383.2 634.6,386.1 631.4,386.1"/>
<polygon points="637.4,383.2 639.0,386.1 635.8,386.1"/>
<polygon points="641.7,383.2 643.3,386.1 640.1,386.1"/>
<polygon points="646.1,383.2 647.7,386.1 644.5,386.1"/>
<polygon points="650.4,383.2 652.0,386.1 648.8,386.1"/>
<polygon points="654.8,383.2 656.4,386.1 653.2,386.1"/>
<polygon points="659.1,383.2 660.7,386.1 657.5,386.1"/>
<polygon points="663.5,383.2 665.1,386.1 661.9,386.1"/>
<polygon points="667.8,383.2 669.4,386.1 666.2,386.1"/>
<polygon points="672.2,383.2 673.8,386.1 670.6,386.1"/>
<polygon points="630.9,380.8 632.5,383.7 629.2,383.7"/>
<polygon points="635.2,380.8 636.8,383.7 633.6,383.7"/>
<polygon points="639.6,380.8 641.2,383.7 638.0,383.7"/>
<polygon points="643.9,380.8 645.5,383.7 642.3,383.7"/>
<polygon points="648.2,380.8 649.9,383.7 646.6,383.7"/>
<polygon points="652.6,380.8 654.2,383.7 651.0,383.7"/>
<polygon points="657.0,380.8 658.6,383.7 655.4,383.7"/>
<polygon points="661.3,380.8 662.9,383.7 659.7,383.7"/>
<polygon points="665.6,380.8 667.2,383.7 664.0,383.7"/>
<polygon points="670.0,380.8 671.6,383.7 668.4,383.7"/>
<polygon points="674.4,380.8 676.0,383.7 672.8,383.7"/>
<polygon points="633.0,378.4 634.6,381.3 631.4,381.3"/>
<polygon points="637.4,378.4 639.0,381.3 635.8,381.3"/>
<polygon points="641.7,378.4 643.3,381.3 640.1,381.3"/>
<polygon points="646.1,378.4 647.7,381.3 644.5,381.3"/>
<polygon points="650.4,378.4 652.0,381.3 648.8,381.3"/>
<polygon points="654.8,378.4 656.4,381.3 653.2,381.3"/>
<polygon points="659.1,378.4 660.7,381.3 657.5,381.3"/>
<polygon points="663.5,378.4 665.1,381.3 661.9,381.3"/>
<polygon points="667.8,378.4 669.4,381.3 666.2,381.3"/>
<polygon points="672.2,378.4 673.8,381.3 670.6,381.3"/>
<polygon points="630.9,376.0 632.5,378.9 629.2,378.9"/>
<polygon points="635.2,376.0 636.8,378.9 633.6,378.9"/>
<polygon points="639.6,376.0 641.2,378.9 638.0,378.9"/>
<polygon points="643.9,376.0 645.5,378.9 642.3,378.9"/>
<polygon points="648.2,376.0 649.9,378.9 646.6,378.9"/>
<polygon points="652.6,376.0 654.2,378.9 651.0,378.9"/>
<polygon points="657.0,376.0 658.6,378.9 655.4,378.9"/>
<polygon points="661.3,376.0 662.9,378.9 659.7,378.9"/>
<polygon points="665.6,376.0 667.2,378.9 664.0,378.9"/>
<polygon points="670.0,376.0 671.6,378.9 668.4,378.9"/>
<polygon points="674.4,376.0 676.0,378.9 672.8,378.9"/>
<polygon points="633.0,373.6 634.6,376.5 631.4,376.5"/>
<polygon points="637.4,373.6 639.0,376.5 635.8,376.5"/>
<polygon points="641.7,373.6 643.3,376.5 640.1,376.5"/>
<polygon points="646.1,373.6 647.7,376.5 644.5,376.5"/>
<polygon points="650.4,373.6 652.0,376.5 648.8,376.5"/>
<polygon points="654.8,373.6 656.4,376.5 653.2,376.5"/>
<polygon points="659.1,373.6 660.7,376.5 657.5,376.5"/>
<polygon points="663.5,373.6 665.1,376.5 661.9,376.5"/>
<polygon points="667.8,373.6 669.4,376.5 666.2,376.5"/>
<polygon points="672.2,373.6 673.8,376.5 670.6,376.5"/>
<polygon points="630.9,371.2 632.5,374.1 629.2,374.1"/>
<polygon points="635.2,371.2 636.8,374.1 633.6,374.1"/>
<polygon points="639.6,371.2 641.2,374.1 638.0,374.1"/>
<polygon points="643.9,371.2 645.5,374.1 642.3,374.1"/>
<polygon points="648.2,371.2 649.9,374.1 646.6,374.1"/>
<polygon points="652.6,371.2 654.2,374.1 651.0,374.1"/>
<polygon points="657.0,371.2 658.6,374.1 655.4,374.1"/>
<polygon points="661.3,371.2 662.9,374.1 659.7,374.1"/>
<polygon points="665.6,371.2 667.2,374.1 664.0,374.1"/>
<polygon points="670.0,371.2 671.6,374.1 668.4,374.1"/>
<polygon points="674.4,371.2 676.0,374.1 672.8,374.1"/>
<polygon points="633.0,368.8 634.6,371.7 631.4,371.7"/>
<polygon points="637.4,368.8 639.0,371.7 635.8,371.7"/>
<polygon points="641.7,368.8 643.3,371.7 640.1,371.7"/>
<polygon points="646.1,368.8 647.7,371.7 644.5,371.7"/>
<polygon points="650.4,368.8 652.0,371.7 648.8,371.7"/>
<polygon points="654.8,368.8 656.4,371.7 653.2,371.7"/>
<polygon points="659.1,368.8 660.7,371.7 657.5,371.7"/>
<polygon points="663.5,368.8 665.1,371.7 661.9,371.7"/>
<polygon points="667.8,368.8 669.4,371.7 666.2,371.7"/>
<polygon points="672.2,368.8 673.8,371.7 670.6,371.7"/>
<polygon points="630.9,366.4 632.5,369.3 629.2,369.3"/>
<polygon points="635.2,366.4 636.8,369.3 633.6,369.3"/>
<polygon points="639.6,366.4 641.2,369.3 638.0,369.3"/>
<polygon points="643.9,366.4 645.5,369.3 642.3,369.3"/>
<polygon points="648.2,366.4 649.9,369.3 646.6,369.3"/>
<polygon points="652.6,366.4 654.2,369.3 651.0,369.3"/>
<polygon points="657.0,366.4 658.6,369.3 655.4,369.3"/>
<polygon points="661.3,366.4 662.9,369.3 659.7,369.3"/>
<polygon points="665.6,366.4 667.2,369.3 664.0,369.3"/>
<polygon points="670.0,366.4 671.6,369.3 668.4,369.3"/>
<polygon points="674.4,366.4 676.0,369.3 672.8,369.3"/>
<polygon points="633.0,364.0 634.6,366.9 631.4,366.9"/>
<polygon points="637.4,364.0 639.0,366.9 635.8,366.9"/>
<polygon points="641.7,364.0 643.3,366.9 640.1,366.9"/>
<polygon points="646.1,364.0 647.7,366.9 644.5,366.9"/>
<polygon points="650.4,364.0 652.0,366.9 648.8,366.9"/>
<polygon points="654.8,364.0 656.4,366.9 653.2,366.9"/>
<polygon points="659.1,364.0 660.7,366.9 657.5,366.9"/>
<polygon points="663.5,364.0 665.1,366.9 661.9,366.9"/>
<polygon points="667.8,364.0 669.4,366.9 666.2,366.9"/>
<polygon points="672.2,364.0 673.8,366.9 670.6,366.9"/>
<polygon points="637.4,397.0 639.0,399.9 635.8,399.9"/>
<polygon points="641.7,397.0 643.3,399.9 640.1,399.9"/>
<polygon points="646.1,397.0 647.7,399.9 644.5,399.9"/>
<polygon points="650.4,397.0 652.0,399.9 648.8,399.9"/>
<polygon points="667.8,397.0 669.4,399.9 666.2,399.9"/>
<polygon points="630.9,361.8 632.5,364.7 629.2,364.7"/>
<polygon points="635.2,361.8 636.8,364.7 633.6,364.7"/>
<polygon points="643.9,361.8 645.5,364.7 642.3,364.7"/>
<polygon points="652.6,361.8 654.2,364.7 651.0,364.7"/>
<polygon points="657.0,361.8 658.6,364.7 655.4,364.7"/>
<polygon points="661.3,361.8 662.9,364.7 659.7,364.7"/>
<polygon points="665.6,361.8 667.2,364.7 664.0,364.7"/>
<polygon points="670.0,361.8 671.6,364.7 668.4,364.7"/>
<polygon points="674.4,361.8 676.0,364.7 672.8,364.7"/>
<polygon points="630.9,359.2 632.5,362.1 629.2,362.1"/>
<polygon points="635.2,359.2 636.8,362.1 633.6,362.1"/>
<polygon points="643.9,359.2 645.5,362.1 642.3,362.1"/>
<polygon points="648.2,359.2 649.9,362.1 646.6,362.1"/>
<polygon points="652.6,359.2 654.2,362.1 651.0,362.1"/>
<polygon points="661.3,359.2 662.9,362.1 659.7,362.1"/>
<polygon points="674.4,359.2 676.0,362.1 672.8,362.1"/>
<polygon points="639.6,357.0 641.2,359.9 638.0,359.9"/>
<polygon points="643.9,357.0 645.5,359.9 642.3,359.9"/>
<polygon points="648.2,357.0 649.9,359.9 646.6,359.9"/>
<polygon points="652.6,357.0 654.2,359.9 651.0,359.9"/>
<polygon points="661.3,357.0 662.9,359.9 659.7,359.9"/>
<polygon points="670.0,357.0 671.6,359.9 668.4,359.9"/>
<polygon points="639.6,354.5 641.2,357.4 638.0,357.4"/>
<polygon points="648.2,354.5 649.9,357.4 646.6,357.4"/>
<polygon points="661.3,354.5 662.9,357.4 659.7,357.4"/>
<polygon points="665.6,354.5 667.2,357.4 664.0,357.4"/>
<polygon points="643.9,352.3 645.5,355.2 642.3,355.2"/>
<polygon points="648.2,352.3 649.9,355.2 646.6,355.2"/>
<polygon points="652.6,352.3 654.2,355.2 651.0,355.2"/>
<polygon points="657.0,352.3 658.6,355.2 655.4,355.2"/>
<polygon points="661.3,352.3 662.9,355.2 659.7,355.2"/>
<polygon points="652.6,336.7 654.2,339.6 651.0,339.6"/>
</g>
<rect x="483.7" y="368.5" width="49.5" height="3" fill="#000"/>
<rect x="555.2" y="379.4" width="50.2" height="3" fill="#000"/>
<rect x="627.0" y="380.5" width="50.7" height="3" fill="#000"/>
<line x1="472.3" y1="260.4" x2="472.3" y2="407.1" stroke="#000" stroke-width="1.5"/>
<line x1="471.6" y1="406.3" x2="689.2" y2="406.3" stroke="#000" stroke-width="1.5"/>
<line x1="467.8" y1="406.3" x2="472.3" y2="406.3" stroke="#000" stroke-width="1.5"/>
<text x="466.8" y="412.2" font-family="'Liberation Serif', serif" font-size="15" font-weight="bold" fill="#000" text-anchor="end" textLength="7.6" lengthAdjust="spacingAndGlyphs" stroke="#000" stroke-width="0.35">0</text>
<line x1="467.8" y1="370.0" x2="472.3" y2="370.0" stroke="#000" stroke-width="1.5"/>
<text x="466.8" y="375.9" font-family="'Liberation Serif', serif" font-size="15" font-weight="bold" fill="#000" text-anchor="end" textLength="22.8" lengthAdjust="spacingAndGlyphs" stroke="#000" stroke-width="0.35">100</text>
<line x1="467.8" y1="333.7" x2="472.3" y2="333.7" stroke="#000" stroke-width="1.5"/>
<text x="466.8" y="339.6" font-family="'Liberation Serif', serif" font-size="15" font-weight="bold" fill="#000" text-anchor="end" textLength="22.8" lengthAdjust="spacingAndGlyphs" stroke="#000" stroke-width="0.35">200</text>
<line x1="467.8" y1="297.4" x2="472.3" y2="297.4" stroke="#000" stroke-width="1.5"/>
<text x="466.8" y="303.3" font-family="'Liberation Serif', serif" font-size="15" font-weight="bold" fill="#000" text-anchor="end" textLength="22.8" lengthAdjust="spacingAndGlyphs" stroke="#000" stroke-width="0.35">300</text>
<line x1="467.8" y1="261.1" x2="472.3" y2="261.1" stroke="#000" stroke-width="1.5"/>
<text x="466.8" y="267.0" font-family="'Liberation Serif', serif" font-size="15" font-weight="bold" fill="#000" text-anchor="end" textLength="22.8" lengthAdjust="spacingAndGlyphs" stroke="#000" stroke-width="0.35">400</text>
<line x1="508.5" y1="406.3" x2="508.5" y2="410.8" stroke="#000" stroke-width="1.5"/>
<text x="483.2" y="425.9" font-family="'Liberation Serif', serif" font-size="15.5" font-weight="bold" fill="#000" text-anchor="start" textLength="51.2" lengthAdjust="spacingAndGlyphs">Control</text>
<line x1="580.3" y1="406.3" x2="580.3" y2="410.8" stroke="#000" stroke-width="1.5"/>
<text x="558.7" y="425.9" font-family="'Liberation Serif', serif" font-size="15.5" font-weight="bold" fill="#000" text-anchor="start" textLength="35.5" lengthAdjust="spacingAndGlyphs">5 μM</text>
<line x1="652.5" y1="406.3" x2="652.5" y2="410.8" stroke="#000" stroke-width="1.5"/>
<text x="628.4" y="425.9" font-family="'Liberation Serif', serif" font-size="15.5" font-weight="bold" fill="#000" text-anchor="start" textLength="44.5" lengthAdjust="spacingAndGlyphs">10 μM</text>
<text transform="translate(435.8,411.0) rotate(-90)" font-family="'Liberation Serif', serif" font-size="17" font-weight="bold" textLength="162.6" lengthAdjust="spacingAndGlyphs">Spheroid diameter (μm)</text>
<polyline points="507.8,261.4 507.8,257.4 652.2,257.4 652.2,261.4" fill="none" stroke="#111" stroke-width="1.4"/>
<text x="573.8" y="255.8" font-family="'Liberation Sans', sans-serif" font-size="13.0" fill="#2a2a2a" text-anchor="middle" stroke="#2a2a2a" stroke-width="0.3">*</text>
<text x="580.7" y="255.8" font-family="'Liberation Sans', sans-serif" font-size="13.0" fill="#2a2a2a" text-anchor="middle" stroke="#2a2a2a" stroke-width="0.3">*</text>
<text x="587.6" y="255.8" font-family="'Liberation Sans', sans-serif" font-size="13.0" fill="#2a2a2a" text-anchor="middle" stroke="#2a2a2a" stroke-width="0.3">*</text>
<polyline points="507.8,282.7 507.8,278.7 580.3,278.7 580.3,282.7" fill="none" stroke="#111" stroke-width="1.4"/>
<text x="538.9" y="277.1" font-family="'Liberation Sans', sans-serif" font-size="13.0" fill="#2a2a2a" text-anchor="middle" stroke="#2a2a2a" stroke-width="0.3">*</text>
<text x="545.4" y="277.1" font-family="'Liberation Sans', sans-serif" font-size="13.0" fill="#2a2a2a" text-anchor="middle" stroke="#2a2a2a" stroke-width="0.3">*</text>
<text x="551.9" y="277.1" font-family="'Liberation Sans', sans-serif" font-size="13.0" fill="#2a2a2a" text-anchor="middle" stroke="#2a2a2a" stroke-width="0.3">*</text>
<text x="429.1" y="475.8" font-family="'Liberation Sans', sans-serif" font-size="21.5" font-weight="normal" fill="#000" text-anchor="start">F</text>
<text x="565.5" y="467.1" font-family="'Liberation Serif', serif" font-size="18.5" font-weight="bold" fill="#000" text-anchor="start" textLength="29.9" lengthAdjust="spacingAndGlyphs">T86</text>
<g fill="#0000cc">
<circle cx="486.8" cy="626.2" r="1.1"/>
<circle cx="491.1" cy="626.2" r="1.1"/>
<circle cx="495.4" cy="626.2" r="1.1"/>
<circle cx="499.8" cy="626.2" r="1.1"/>
<circle cx="504.1" cy="626.2" r="1.1"/>
<circle cx="508.5" cy="626.2" r="1.1"/>
<circle cx="512.9" cy="626.2" r="1.1"/>
<circle cx="517.2" cy="626.2" r="1.1"/>
<circle cx="521.5" cy="626.2" r="1.1"/>
<circle cx="525.9" cy="626.2" r="1.1"/>
<circle cx="530.2" cy="626.2" r="1.1"/>
<circle cx="488.9" cy="623.8" r="1.1"/>
<circle cx="493.3" cy="623.8" r="1.1"/>
<circle cx="497.6" cy="623.8" r="1.1"/>
<circle cx="502.0" cy="623.8" r="1.1"/>
<circle cx="506.3" cy="623.8" r="1.1"/>
<circle cx="510.7" cy="623.8" r="1.1"/>
<circle cx="515.0" cy="623.8" r="1.1"/>
<circle cx="519.4" cy="623.8" r="1.1"/>
<circle cx="523.7" cy="623.8" r="1.1"/>
<circle cx="528.1" cy="623.8" r="1.1"/>
<circle cx="486.8" cy="621.4" r="1.1"/>
<circle cx="491.1" cy="621.4" r="1.1"/>
<circle cx="495.4" cy="621.4" r="1.1"/>
<circle cx="499.8" cy="621.4" r="1.1"/>
<circle cx="504.1" cy="621.4" r="1.1"/>
<circle cx="508.5" cy="621.4" r="1.1"/>
<circle cx="512.9" cy="621.4" r="1.1"/>
<circle cx="517.2" cy="621.4" r="1.1"/>
<circle cx="521.5" cy="621.4" r="1.1"/>
<circle cx="525.9" cy="621.4" r="1.1"/>
<circle cx="530.2" cy="621.4" r="1.1"/>
<circle cx="488.9" cy="619.0" r="1.1"/>
<circle cx="493.3" cy="619.0" r="1.1"/>
<circle cx="497.6" cy="619.0" r="1.1"/>
<circle cx="502.0" cy="619.0" r="1.1"/>
<circle cx="506.3" cy="619.0" r="1.1"/>
<circle cx="510.7" cy="619.0" r="1.1"/>
<circle cx="515.0" cy="619.0" r="1.1"/>
<circle cx="519.4" cy="619.0" r="1.1"/>
<circle cx="523.7" cy="619.0" r="1.1"/>
<circle cx="528.1" cy="619.0" r="1.1"/>
<circle cx="486.8" cy="616.6" r="1.1"/>
<circle cx="491.1" cy="616.6" r="1.1"/>
<circle cx="495.4" cy="616.6" r="1.1"/>
<circle cx="499.8" cy="616.6" r="1.1"/>
<circle cx="504.1" cy="616.6" r="1.1"/>
<circle cx="508.5" cy="616.6" r="1.1"/>
<circle cx="512.9" cy="616.6" r="1.1"/>
<circle cx="517.2" cy="616.6" r="1.1"/>
<circle cx="521.5" cy="616.6" r="1.1"/>
<circle cx="525.9" cy="616.6" r="1.1"/>
<circle cx="530.2" cy="616.6" r="1.1"/>
<circle cx="488.9" cy="614.2" r="1.1"/>
<circle cx="493.3" cy="614.2" r="1.1"/>
<circle cx="497.6" cy="614.2" r="1.1"/>
<circle cx="502.0" cy="614.2" r="1.1"/>
<circle cx="506.3" cy="614.2" r="1.1"/>
<circle cx="510.7" cy="614.2" r="1.1"/>
<circle cx="515.0" cy="614.2" r="1.1"/>
<circle cx="519.4" cy="614.2" r="1.1"/>
<circle cx="523.7" cy="614.2" r="1.1"/>
<circle cx="528.1" cy="614.2" r="1.1"/>
<circle cx="486.8" cy="611.8" r="1.1"/>
<circle cx="491.1" cy="611.8" r="1.1"/>
<circle cx="495.4" cy="611.8" r="1.1"/>
<circle cx="499.8" cy="611.8" r="1.1"/>
<circle cx="504.1" cy="611.8" r="1.1"/>
<circle cx="508.5" cy="611.8" r="1.1"/>
<circle cx="512.9" cy="611.8" r="1.1"/>
<circle cx="517.2" cy="611.8" r="1.1"/>
<circle cx="521.5" cy="611.8" r="1.1"/>
<circle cx="525.9" cy="611.8" r="1.1"/>
<circle cx="530.2" cy="611.8" r="1.1"/>
<circle cx="488.9" cy="609.4" r="1.1"/>
<circle cx="493.3" cy="609.4" r="1.1"/>
<circle cx="497.6" cy="609.4" r="1.1"/>
<circle cx="502.0" cy="609.4" r="1.1"/>
<circle cx="506.3" cy="609.4" r="1.1"/>
<circle cx="510.7" cy="609.4" r="1.1"/>
<circle cx="515.0" cy="609.4" r="1.1"/>
<circle cx="519.4" cy="609.4" r="1.1"/>
<circle cx="523.7" cy="609.4" r="1.1"/>
<circle cx="528.1" cy="609.4" r="1.1"/>
<circle cx="486.8" cy="607.0" r="1.1"/>
<circle cx="491.1" cy="607.0" r="1.1"/>
<circle cx="495.4" cy="607.0" r="1.1"/>
<circle cx="499.8" cy="607.0" r="1.1"/>
<circle cx="504.1" cy="607.0" r="1.1"/>
<circle cx="508.5" cy="607.0" r="1.1"/>
<circle cx="512.9" cy="607.0" r="1.1"/>
<circle cx="517.2" cy="607.0" r="1.1"/>
<circle cx="521.5" cy="607.0" r="1.1"/>
<circle cx="525.9" cy="607.0" r="1.1"/>
<circle cx="530.2" cy="607.0" r="1.1"/>
<circle cx="488.9" cy="604.6" r="1.1"/>
<circle cx="493.3" cy="604.6" r="1.1"/>
<circle cx="497.6" cy="604.6" r="1.1"/>
<circle cx="502.0" cy="604.6" r="1.1"/>
<circle cx="506.3" cy="604.6" r="1.1"/>
<circle cx="510.7" cy="604.6" r="1.1"/>
<circle cx="515.0" cy="604.6" r="1.1"/>
<circle cx="519.4" cy="604.6" r="1.1"/>
<circle cx="523.7" cy="604.6" r="1.1"/>
<circle cx="528.1" cy="604.6" r="1.1"/>
<circle cx="486.8" cy="602.2" r="1.1"/>
<circle cx="491.1" cy="602.2" r="1.1"/>
<circle cx="495.4" cy="602.2" r="1.1"/>
<circle cx="499.8" cy="602.2" r="1.1"/>
<circle cx="504.1" cy="602.2" r="1.1"/>
<circle cx="508.5" cy="602.2" r="1.1"/>
<circle cx="512.9" cy="602.2" r="1.1"/>
<circle cx="517.2" cy="602.2" r="1.1"/>
<circle cx="521.5" cy="602.2" r="1.1"/>
<circle cx="525.9" cy="602.2" r="1.1"/>
<circle cx="530.2" cy="602.2" r="1.1"/>
<circle cx="488.9" cy="599.8" r="1.1"/>
<circle cx="493.3" cy="599.8" r="1.1"/>
<circle cx="497.6" cy="599.8" r="1.1"/>
<circle cx="502.0" cy="599.8" r="1.1"/>
<circle cx="506.3" cy="599.8" r="1.1"/>
<circle cx="510.7" cy="599.8" r="1.1"/>
<circle cx="515.0" cy="599.8" r="1.1"/>
<circle cx="519.4" cy="599.8" r="1.1"/>
<circle cx="523.7" cy="599.8" r="1.1"/>
<circle cx="528.1" cy="599.8" r="1.1"/>
<circle cx="486.8" cy="597.4" r="1.1"/>
<circle cx="491.1" cy="597.4" r="1.1"/>
<circle cx="495.4" cy="597.4" r="1.1"/>
<circle cx="499.8" cy="597.4" r="1.1"/>
<circle cx="504.1" cy="597.4" r="1.1"/>
<circle cx="508.5" cy="597.4" r="1.1"/>
<circle cx="512.9" cy="597.4" r="1.1"/>
<circle cx="517.2" cy="597.4" r="1.1"/>
<circle cx="521.5" cy="597.4" r="1.1"/>
<circle cx="525.9" cy="597.4" r="1.1"/>
<circle cx="530.2" cy="597.4" r="1.1"/>
<circle cx="488.9" cy="595.0" r="1.1"/>
<circle cx="493.3" cy="595.0" r="1.1"/>
<circle cx="497.6" cy="595.0" r="1.1"/>
<circle cx="502.0" cy="595.0" r="1.1"/>
<circle cx="506.3" cy="595.0" r="1.1"/>
<circle cx="510.7" cy="595.0" r="1.1"/>
<circle cx="515.0" cy="595.0" r="1.1"/>
<circle cx="519.4" cy="595.0" r="1.1"/>
<circle cx="523.7" cy="595.0" r="1.1"/>
<circle cx="528.1" cy="595.0" r="1.1"/>
<circle cx="486.8" cy="592.6" r="1.1"/>
<circle cx="491.1" cy="592.6" r="1.1"/>
<circle cx="495.4" cy="592.6" r="1.1"/>
<circle cx="499.8" cy="592.6" r="1.1"/>
<circle cx="504.1" cy="592.6" r="1.1"/>
<circle cx="508.5" cy="592.6" r="1.1"/>
<circle cx="512.9" cy="592.6" r="1.1"/>
<circle cx="517.2" cy="592.6" r="1.1"/>
<circle cx="521.5" cy="592.6" r="1.1"/>
<circle cx="525.9" cy="592.6" r="1.1"/>
<circle cx="530.2" cy="592.6" r="1.1"/>
<circle cx="508.5" cy="630.6" r="1.1"/>
<circle cx="493.3" cy="629.1" r="1.1"/>
<circle cx="502.0" cy="629.1" r="1.1"/>
<circle cx="506.3" cy="629.1" r="1.1"/>
<circle cx="515.0" cy="629.1" r="1.1"/>
<circle cx="519.4" cy="629.1" r="1.1"/>
<circle cx="486.8" cy="627.7" r="1.1"/>
<circle cx="491.1" cy="627.7" r="1.1"/>
<circle cx="495.4" cy="627.7" r="1.1"/>
<circle cx="499.8" cy="627.7" r="1.1"/>
<circle cx="504.1" cy="627.7" r="1.1"/>
<circle cx="512.9" cy="627.7" r="1.1"/>
<circle cx="530.2" cy="627.7" r="1.1"/>
<circle cx="486.8" cy="588.7" r="1.1"/>
<circle cx="495.4" cy="588.7" r="1.1"/>
<circle cx="499.8" cy="588.7" r="1.1"/>
<circle cx="504.1" cy="588.7" r="1.1"/>
<circle cx="508.5" cy="588.7" r="1.1"/>
<circle cx="512.9" cy="588.7" r="1.1"/>
<circle cx="517.2" cy="588.7" r="1.1"/>
<circle cx="530.2" cy="588.7" r="1.1"/>
<circle cx="486.8" cy="586.5" r="1.1"/>
<circle cx="495.4" cy="586.5" r="1.1"/>
<circle cx="499.8" cy="586.5" r="1.1"/>
<circle cx="504.1" cy="586.5" r="1.1"/>
<circle cx="525.9" cy="586.5" r="1.1"/>
<circle cx="530.2" cy="586.5" r="1.1"/>
<circle cx="486.8" cy="584.3" r="1.1"/>
<circle cx="491.1" cy="584.3" r="1.1"/>
<circle cx="504.1" cy="584.3" r="1.1"/>
<circle cx="512.9" cy="584.3" r="1.1"/>
<circle cx="521.5" cy="584.3" r="1.1"/>
<circle cx="525.9" cy="584.3" r="1.1"/>
<circle cx="530.2" cy="584.3" r="1.1"/>
<circle cx="495.4" cy="582.1" r="1.1"/>
<circle cx="499.8" cy="582.1" r="1.1"/>
<circle cx="504.1" cy="582.1" r="1.1"/>
<circle cx="508.5" cy="582.1" r="1.1"/>
<circle cx="517.2" cy="582.1" r="1.1"/>
<circle cx="486.8" cy="579.9" r="1.1"/>
<circle cx="491.1" cy="579.9" r="1.1"/>
<circle cx="504.1" cy="579.9" r="1.1"/>
<circle cx="508.5" cy="579.9" r="1.1"/>
<circle cx="517.2" cy="579.9" r="1.1"/>
<circle cx="525.9" cy="579.9" r="1.1"/>
<circle cx="495.4" cy="577.7" r="1.1"/>
<circle cx="499.8" cy="577.7" r="1.1"/>
<circle cx="508.5" cy="577.7" r="1.1"/>
<circle cx="521.5" cy="577.7" r="1.1"/>
<circle cx="491.1" cy="575.2" r="1.1"/>
<circle cx="499.8" cy="575.2" r="1.1"/>
<circle cx="508.5" cy="575.2" r="1.1"/>
<circle cx="521.5" cy="575.2" r="1.1"/>
<circle cx="525.9" cy="575.2" r="1.1"/>
<circle cx="491.1" cy="573.0" r="1.1"/>
<circle cx="499.8" cy="573.0" r="1.1"/>
<circle cx="508.5" cy="573.0" r="1.1"/>
<circle cx="517.2" cy="573.0" r="1.1"/>
<circle cx="495.4" cy="570.8" r="1.1"/>
<circle cx="508.5" cy="570.8" r="1.1"/>
<circle cx="517.2" cy="570.8" r="1.1"/>
<circle cx="521.5" cy="570.8" r="1.1"/>
<circle cx="499.8" cy="568.6" r="1.1"/>
<circle cx="504.1" cy="568.6" r="1.1"/>
<circle cx="508.5" cy="568.6" r="1.1"/>
<circle cx="504.1" cy="565.0" r="1.1"/>
<circle cx="508.5" cy="565.0" r="1.1"/>
<circle cx="512.9" cy="565.0" r="1.1"/>
<circle cx="517.2" cy="565.0" r="1.1"/>
<circle cx="506.3" cy="553.7" r="1.1"/>
<circle cx="510.7" cy="553.7" r="1.1"/>
<circle cx="508.5" cy="533.6" r="1.1"/>
</g>
<g fill="#008000">
<rect x="557.9" y="632.0" width="2.2" height="2.2"/>
<rect x="562.3" y="632.0" width="2.2" height="2.2"/>
<rect x="566.6" y="632.0" width="2.2" height="2.2"/>
<rect x="571.0" y="632.0" width="2.2" height="2.2"/>
<rect x="575.3" y="632.0" width="2.2" height="2.2"/>
<rect x="579.7" y="632.0" width="2.2" height="2.2"/>
<rect x="584.0" y="632.0" width="2.2" height="2.2"/>
<rect x="588.4" y="632.0" width="2.2" height="2.2"/>
<rect x="592.7" y="632.0" width="2.2" height="2.2"/>
<rect x="597.1" y="632.0" width="2.2" height="2.2"/>
<rect x="601.4" y="632.0" width="2.2" height="2.2"/>
<rect x="560.1" y="629.6" width="2.2" height="2.2"/>
<rect x="564.5" y="629.6" width="2.2" height="2.2"/>
<rect x="568.8" y="629.6" width="2.2" height="2.2"/>
<rect x="573.2" y="629.6" width="2.2" height="2.2"/>
<rect x="577.5" y="629.6" width="2.2" height="2.2"/>
<rect x="581.9" y="629.6" width="2.2" height="2.2"/>
<rect x="586.2" y="629.6" width="2.2" height="2.2"/>
<rect x="590.6" y="629.6" width="2.2" height="2.2"/>
<rect x="594.9" y="629.6" width="2.2" height="2.2"/>
<rect x="599.3" y="629.6" width="2.2" height="2.2"/>
<rect x="557.9" y="627.2" width="2.2" height="2.2"/>
<rect x="562.3" y="627.2" width="2.2" height="2.2"/>
<rect x="566.6" y="627.2" width="2.2" height="2.2"/>
<rect x="571.0" y="627.2" width="2.2" height="2.2"/>
<rect x="575.3" y="627.2" width="2.2" height="2.2"/>
<rect x="579.7" y="627.2" width="2.2" height="2.2"/>
<rect x="584.0" y="627.2" width="2.2" height="2.2"/>
<rect x="588.4" y="627.2" width="2.2" height="2.2"/>
<rect x="592.7" y="627.2" width="2.2" height="2.2"/>
<rect x="597.1" y="627.2" width="2.2" height="2.2"/>
<rect x="601.4" y="627.2" width="2.2" height="2.2"/>
<rect x="560.1" y="624.8" width="2.2" height="2.2"/>
<rect x="564.5" y="624.8" width="2.2" height="2.2"/>
<rect x="568.8" y="624.8" width="2.2" height="2.2"/>
<rect x="573.2" y="624.8" width="2.2" height="2.2"/>
<rect x="577.5" y="624.8" width="2.2" height="2.2"/>
<rect x="581.9" y="624.8" width="2.2" height="2.2"/>
<rect x="586.2" y="624.8" width="2.2" height="2.2"/>
<rect x="590.6" y="624.8" width="2.2" height="2.2"/>
<rect x="594.9" y="624.8" width="2.2" height="2.2"/>
<rect x="599.3" y="624.8" width="2.2" height="2.2"/>
<rect x="557.9" y="622.4" width="2.2" height="2.2"/>
<rect x="562.3" y="622.4" width="2.2" height="2.2"/>
<rect x="566.6" y="622.4" width="2.2" height="2.2"/>
<rect x="571.0" y="622.4" width="2.2" height="2.2"/>
<rect x="575.3" y="622.4" width="2.2" height="2.2"/>
<rect x="579.7" y="622.4" width="2.2" height="2.2"/>
<rect x="584.0" y="622.4" width="2.2" height="2.2"/>
<rect x="588.4" y="622.4" width="2.2" height="2.2"/>
<rect x="592.7" y="622.4" width="2.2" height="2.2"/>
<rect x="597.1" y="622.4" width="2.2" height="2.2"/>
<rect x="601.4" y="622.4" width="2.2" height="2.2"/>
<rect x="560.1" y="620.0" width="2.2" height="2.2"/>
<rect x="564.5" y="620.0" width="2.2" height="2.2"/>
<rect x="568.8" y="620.0" width="2.2" height="2.2"/>
<rect x="573.2" y="620.0" width="2.2" height="2.2"/>
<rect x="577.5" y="620.0" width="2.2" height="2.2"/>
<rect x="581.9" y="620.0" width="2.2" height="2.2"/>
<rect x="586.2" y="620.0" width="2.2" height="2.2"/>
<rect x="590.6" y="620.0" width="2.2" height="2.2"/>
<rect x="594.9" y="620.0" width="2.2" height="2.2"/>
<rect x="599.3" y="620.0" width="2.2" height="2.2"/>
<rect x="557.9" y="617.6" width="2.2" height="2.2"/>
<rect x="562.3" y="617.6" width="2.2" height="2.2"/>
<rect x="566.6" y="617.6" width="2.2" height="2.2"/>
<rect x="571.0" y="617.6" width="2.2" height="2.2"/>
<rect x="575.3" y="617.6" width="2.2" height="2.2"/>
<rect x="579.7" y="617.6" width="2.2" height="2.2"/>
<rect x="584.0" y="617.6" width="2.2" height="2.2"/>
<rect x="588.4" y="617.6" width="2.2" height="2.2"/>
<rect x="592.7" y="617.6" width="2.2" height="2.2"/>
<rect x="597.1" y="617.6" width="2.2" height="2.2"/>
<rect x="601.4" y="617.6" width="2.2" height="2.2"/>
<rect x="560.1" y="615.2" width="2.2" height="2.2"/>
<rect x="564.5" y="615.2" width="2.2" height="2.2"/>
<rect x="568.8" y="615.2" width="2.2" height="2.2"/>
<rect x="573.2" y="615.2" width="2.2" height="2.2"/>
<rect x="577.5" y="615.2" width="2.2" height="2.2"/>
<rect x="581.9" y="615.2" width="2.2" height="2.2"/>
<rect x="586.2" y="615.2" width="2.2" height="2.2"/>
<rect x="590.6" y="615.2" width="2.2" height="2.2"/>
<rect x="594.9" y="615.2" width="2.2" height="2.2"/>
<rect x="599.3" y="615.2" width="2.2" height="2.2"/>
<rect x="557.9" y="612.8" width="2.2" height="2.2"/>
<rect x="562.3" y="612.8" width="2.2" height="2.2"/>
<rect x="566.6" y="612.8" width="2.2" height="2.2"/>
<rect x="571.0" y="612.8" width="2.2" height="2.2"/>
<rect x="575.3" y="612.8" width="2.2" height="2.2"/>
<rect x="579.7" y="612.8" width="2.2" height="2.2"/>
<rect x="584.0" y="612.8" width="2.2" height="2.2"/>
<rect x="588.4" y="612.8" width="2.2" height="2.2"/>
<rect x="592.7" y="612.8" width="2.2" height="2.2"/>
<rect x="597.1" y="612.8" width="2.2" height="2.2"/>
<rect x="601.4" y="612.8" width="2.2" height="2.2"/>
<rect x="560.1" y="610.4" width="2.2" height="2.2"/>
<rect x="564.5" y="610.4" width="2.2" height="2.2"/>
<rect x="568.8" y="610.4" width="2.2" height="2.2"/>
<rect x="573.2" y="610.4" width="2.2" height="2.2"/>
<rect x="577.5" y="610.4" width="2.2" height="2.2"/>
<rect x="581.9" y="610.4" width="2.2" height="2.2"/>
<rect x="586.2" y="610.4" width="2.2" height="2.2"/>
<rect x="590.6" y="610.4" width="2.2" height="2.2"/>
<rect x="594.9" y="610.4" width="2.2" height="2.2"/>
<rect x="599.3" y="610.4" width="2.2" height="2.2"/>
<rect x="557.9" y="608.0" width="2.2" height="2.2"/>
<rect x="562.3" y="608.0" width="2.2" height="2.2"/>
<rect x="566.6" y="608.0" width="2.2" height="2.2"/>
<rect x="571.0" y="608.0" width="2.2" height="2.2"/>
<rect x="575.3" y="608.0" width="2.2" height="2.2"/>
<rect x="579.7" y="608.0" width="2.2" height="2.2"/>
<rect x="584.0" y="608.0" width="2.2" height="2.2"/>
<rect x="588.4" y="608.0" width="2.2" height="2.2"/>
<rect x="592.7" y="608.0" width="2.2" height="2.2"/>
<rect x="597.1" y="608.0" width="2.2" height="2.2"/>
<rect x="601.4" y="608.0" width="2.2" height="2.2"/>
<rect x="560.1" y="605.6" width="2.2" height="2.2"/>
<rect x="564.5" y="605.6" width="2.2" height="2.2"/>
<rect x="568.8" y="605.6" width="2.2" height="2.2"/>
<rect x="573.2" y="605.6" width="2.2" height="2.2"/>
<rect x="577.5" y="605.6" width="2.2" height="2.2"/>
<rect x="581.9" y="605.6" width="2.2" height="2.2"/>
<rect x="586.2" y="605.6" width="2.2" height="2.2"/>
<rect x="590.6" y="605.6" width="2.2" height="2.2"/>
<rect x="594.9" y="605.6" width="2.2" height="2.2"/>
<rect x="599.3" y="605.6" width="2.2" height="2.2"/>
<rect x="577.5" y="633.9" width="2.2" height="2.2"/>
<rect x="581.9" y="633.9" width="2.2" height="2.2"/>
<rect x="586.2" y="633.9" width="2.2" height="2.2"/>
<rect x="590.6" y="633.9" width="2.2" height="2.2"/>
<rect x="557.9" y="603.3" width="2.2" height="2.2"/>
<rect x="562.3" y="603.3" width="2.2" height="2.2"/>
<rect x="571.0" y="603.3" width="2.2" height="2.2"/>
<rect x="575.3" y="603.3" width="2.2" height="2.2"/>
<rect x="579.7" y="603.3" width="2.2" height="2.2"/>
<rect x="584.0" y="603.3" width="2.2" height="2.2"/>
<rect x="588.4" y="603.3" width="2.2" height="2.2"/>
<rect x="592.7" y="603.3" width="2.2" height="2.2"/>
<rect x="566.6" y="601.4" width="2.2" height="2.2"/>
<rect x="571.0" y="601.4" width="2.2" height="2.2"/>
<rect x="575.3" y="601.4" width="2.2" height="2.2"/>
<rect x="584.0" y="601.4" width="2.2" height="2.2"/>
<rect x="588.4" y="601.4" width="2.2" height="2.2"/>
<rect x="592.7" y="601.4" width="2.2" height="2.2"/>
<rect x="566.6" y="599.2" width="2.2" height="2.2"/>
<rect x="575.3" y="599.2" width="2.2" height="2.2"/>
<rect x="579.7" y="599.2" width="2.2" height="2.2"/>
<rect x="584.0" y="599.2" width="2.2" height="2.2"/>
<rect x="579.7" y="588.3" width="2.2" height="2.2"/>
</g>
<g fill="#ff0000">
<polygon points="631.2,633.6 632.9,636.5 629.6,636.5"/>
<polygon points="635.6,633.6 637.2,636.5 634.0,636.5"/>
<polygon points="640.0,633.6 641.6,636.5 638.4,636.5"/>
<polygon points="644.3,633.6 645.9,636.5 642.7,636.5"/>
<polygon points="648.6,633.6 650.2,636.5 647.0,636.5"/>
<polygon points="653.0,633.6 654.6,636.5 651.4,636.5"/>
<polygon points="657.4,633.6 659.0,636.5 655.8,636.5"/>
<polygon points="661.7,633.6 663.3,636.5 660.1,636.5"/>
<polygon points="666.0,633.6 667.6,636.5 664.4,636.5"/>
<polygon points="670.4,633.6 672.0,636.5 668.8,636.5"/>
<polygon points="674.8,633.6 676.4,636.5 673.1,636.5"/>
<polygon points="633.4,631.2 635.0,634.1 631.8,634.1"/>
<polygon points="637.8,631.2 639.4,634.1 636.2,634.1"/>
<polygon points="642.1,631.2 643.7,634.1 640.5,634.1"/>
<polygon points="646.5,631.2 648.1,634.1 644.9,634.1"/>
<polygon points="650.8,631.2 652.4,634.1 649.2,634.1"/>
<polygon points="655.2,631.2 656.8,634.1 653.6,634.1"/>
<polygon points="659.5,631.2 661.1,634.1 657.9,634.1"/>
<polygon points="663.9,631.2 665.5,634.1 662.3,634.1"/>
<polygon points="668.2,631.2 669.8,634.1 666.6,634.1"/>
<polygon points="672.6,631.2 674.2,634.1 671.0,634.1"/>
<polygon points="631.2,628.8 632.9,631.7 629.6,631.7"/>
<polygon points="635.6,628.8 637.2,631.7 634.0,631.7"/>
<polygon points="640.0,628.8 641.6,631.7 638.4,631.7"/>
<polygon points="644.3,628.8 645.9,631.7 642.7,631.7"/>
<polygon points="648.6,628.8 650.2,631.7 647.0,631.7"/>
<polygon points="653.0,628.8 654.6,631.7 651.4,631.7"/>
<polygon points="657.4,628.8 659.0,631.7 655.8,631.7"/>
<polygon points="661.7,628.8 663.3,631.7 660.1,631.7"/>
<polygon points="666.0,628.8 667.6,631.7 664.4,631.7"/>
<polygon points="670.4,628.8 672.0,631.7 668.8,631.7"/>
<polygon points="674.8,628.8 676.4,631.7 673.1,631.7"/>
<polygon points="633.4,626.4 635.0,629.3 631.8,629.3"/>
<polygon points="637.8,626.4 639.4,629.3 636.2,629.3"/>
<polygon points="642.1,626.4 643.7,629.3 640.5,629.3"/>
<polygon points="646.5,626.4 648.1,629.3 644.9,629.3"/>
<polygon points="650.8,626.4 652.4,629.3 649.2,629.3"/>
<polygon points="655.2,626.4 656.8,629.3 653.6,629.3"/>
<polygon points="659.5,626.4 661.1,629.3 657.9,629.3"/>
<polygon points="663.9,626.4 665.5,629.3 662.3,629.3"/>
<polygon points="668.2,626.4 669.8,629.3 666.6,629.3"/>
<polygon points="672.6,626.4 674.2,629.3 671.0,629.3"/>
<polygon points="631.2,624.0 632.9,626.9 629.6,626.9"/>
<polygon points="635.6,624.0 637.2,626.9 634.0,626.9"/>
<polygon points="640.0,624.0 641.6,626.9 638.4,626.9"/>
<polygon points="644.3,624.0 645.9,626.9 642.7,626.9"/>
<polygon points="648.6,624.0 650.2,626.9 647.0,626.9"/>
<polygon points="653.0,624.0 654.6,626.9 651.4,626.9"/>
<polygon points="657.4,624.0 659.0,626.9 655.8,626.9"/>
<polygon points="661.7,624.0 663.3,626.9 660.1,626.9"/>
<polygon points="666.0,624.0 667.6,626.9 664.4,626.9"/>
<polygon points="670.4,624.0 672.0,626.9 668.8,626.9"/>
<polygon points="674.8,624.0 676.4,626.9 673.1,626.9"/>
<polygon points="633.4,621.6 635.0,624.5 631.8,624.5"/>
<polygon points="637.8,621.6 639.4,624.5 636.2,624.5"/>
<polygon points="642.1,621.6 643.7,624.5 640.5,624.5"/>
<polygon points="646.5,621.6 648.1,624.5 644.9,624.5"/>
<polygon points="650.8,621.6 652.4,624.5 649.2,624.5"/>
<polygon points="655.2,621.6 656.8,624.5 653.6,624.5"/>
<polygon points="659.5,621.6 661.1,624.5 657.9,624.5"/>
<polygon points="663.9,621.6 665.5,624.5 662.3,624.5"/>
<polygon points="668.2,621.6 669.8,624.5 666.6,624.5"/>
<polygon points="672.6,621.6 674.2,624.5 671.0,624.5"/>
<polygon points="631.2,619.2 632.9,622.1 629.6,622.1"/>
<polygon points="635.6,619.2 637.2,622.1 634.0,622.1"/>
<polygon points="640.0,619.2 641.6,622.1 638.4,622.1"/>
<polygon points="644.3,619.2 645.9,622.1 642.7,622.1"/>
<polygon points="648.6,619.2 650.2,622.1 647.0,622.1"/>
<polygon points="653.0,619.2 654.6,622.1 651.4,622.1"/>
<polygon points="657.4,619.2 659.0,622.1 655.8,622.1"/>
<polygon points="661.7,619.2 663.3,622.1 660.1,622.1"/>
<polygon points="666.0,619.2 667.6,622.1 664.4,622.1"/>
<polygon points="670.4,619.2 672.0,622.1 668.8,622.1"/>
<polygon points="674.8,619.2 676.4,622.1 673.1,622.1"/>
<polygon points="633.4,616.8 635.0,619.7 631.8,619.7"/>
<polygon points="637.8,616.8 639.4,619.7 636.2,619.7"/>
<polygon points="642.1,616.8 643.7,619.7 640.5,619.7"/>
<polygon points="646.5,616.8 648.1,619.7 644.9,619.7"/>
<polygon points="650.8,616.8 652.4,619.7 649.2,619.7"/>
<polygon points="655.2,616.8 656.8,619.7 653.6,619.7"/>
<polygon points="659.5,616.8 661.1,619.7 657.9,619.7"/>
<polygon points="663.9,616.8 665.5,619.7 662.3,619.7"/>
<polygon points="668.2,616.8 669.8,619.7 666.6,619.7"/>
<polygon points="672.6,616.8 674.2,619.7 671.0,619.7"/>
<polygon points="631.2,614.4 632.9,617.3 629.6,617.3"/>
<polygon points="635.6,614.4 637.2,617.3 634.0,617.3"/>
<polygon points="640.0,614.4 641.6,617.3 638.4,617.3"/>
<polygon points="644.3,614.4 645.9,617.3 642.7,617.3"/>
<polygon points="648.6,614.4 650.2,617.3 647.0,617.3"/>
<polygon points="653.0,614.4 654.6,617.3 651.4,617.3"/>
<polygon points="657.4,614.4 659.0,617.3 655.8,617.3"/>
<polygon points="661.7,614.4 663.3,617.3 660.1,617.3"/>
<polygon points="666.0,614.4 667.6,617.3 664.4,617.3"/>
<polygon points="670.4,614.4 672.0,617.3 668.8,617.3"/>
<polygon points="674.8,614.4 676.4,617.3 673.1,617.3"/>
<polygon points="633.4,612.0 635.0,614.9 631.8,614.9"/>
<polygon points="637.8,612.0 639.4,614.9 636.2,614.9"/>
<polygon points="642.1,612.0 643.7,614.9 640.5,614.9"/>
<polygon points="646.5,612.0 648.1,614.9 644.9,614.9"/>
<polygon points="650.8,612.0 652.4,614.9 649.2,614.9"/>
<polygon points="655.2,612.0 656.8,614.9 653.6,614.9"/>
<polygon points="659.5,612.0 661.1,614.9 657.9,614.9"/>
<polygon points="663.9,612.0 665.5,614.9 662.3,614.9"/>
<polygon points="668.2,612.0 669.8,614.9 666.6,614.9"/>
<polygon points="672.6,612.0 674.2,614.9 671.0,614.9"/>
<polygon points="650.8,635.1 652.4,638.0 649.2,638.0"/>
<polygon points="655.2,635.1 656.8,638.0 653.6,638.0"/>
<polygon points="659.5,635.1 661.1,638.0 657.9,638.0"/>
<polygon points="663.9,635.1 665.5,638.0 662.3,638.0"/>
<polygon points="640.0,608.8 641.6,611.8 638.4,611.8"/>
<polygon points="644.3,608.8 645.9,611.8 642.7,611.8"/>
<polygon points="653.0,608.8 654.6,611.8 651.4,611.8"/>
<polygon points="657.4,608.8 659.0,611.8 655.8,611.8"/>
<polygon points="661.7,608.8 663.3,611.8 660.1,611.8"/>
<polygon points="670.4,608.8 672.0,611.8 668.8,611.8"/>
<polygon points="674.8,608.8 676.4,611.8 673.1,611.8"/>
<polygon points="644.3,607.0 645.9,609.9 642.7,609.9"/>
<polygon points="653.0,607.0 654.6,609.9 651.4,609.9"/>
<polygon points="661.7,607.0 663.3,609.9 660.1,609.9"/>
<polygon points="666.0,607.0 667.6,609.9 664.4,609.9"/>
<polygon points="648.6,605.2 650.2,608.1 647.0,608.1"/>
<polygon points="653.0,605.2 654.6,608.1 651.4,608.1"/>
<polygon points="657.4,605.2 659.0,608.1 655.8,608.1"/>
</g>
<rect x="484.1" y="603.2" width="49.2" height="3" fill="#000"/>
<rect x="555.5" y="617.4" width="50.7" height="3" fill="#000"/>
<rect x="627.7" y="622.9" width="50.8" height="3" fill="#000"/>
<line x1="472.0" y1="500.5" x2="472.0" y2="647.8" stroke="#000" stroke-width="1.5"/>
<line x1="471.3" y1="647.0" x2="690.2" y2="647.0" stroke="#000" stroke-width="1.5"/>
<line x1="467.5" y1="647.0" x2="472.0" y2="647.0" stroke="#000" stroke-width="1.5"/>
<text x="466.5" y="652.9" font-family="'Liberation Serif', serif" font-size="15" font-weight="bold" fill="#000" text-anchor="end" textLength="7.6" lengthAdjust="spacingAndGlyphs" stroke="#000" stroke-width="0.35">0</text>
<line x1="467.5" y1="610.5" x2="472.0" y2="610.5" stroke="#000" stroke-width="1.5"/>
<text x="466.5" y="616.4" font-family="'Liberation Serif', serif" font-size="15" font-weight="bold" fill="#000" text-anchor="end" textLength="22.8" lengthAdjust="spacingAndGlyphs" stroke="#000" stroke-width="0.35">100</text>
<line x1="467.5" y1="574.1" x2="472.0" y2="574.1" stroke="#000" stroke-width="1.5"/>
<text x="466.5" y="580.0" font-family="'Liberation Serif', serif" font-size="15" font-weight="bold" fill="#000" text-anchor="end" textLength="22.8" lengthAdjust="spacingAndGlyphs" stroke="#000" stroke-width="0.35">200</text>
<line x1="467.5" y1="537.6" x2="472.0" y2="537.6" stroke="#000" stroke-width="1.5"/>
<text x="466.5" y="543.5" font-family="'Liberation Serif', serif" font-size="15" font-weight="bold" fill="#000" text-anchor="end" textLength="22.8" lengthAdjust="spacingAndGlyphs" stroke="#000" stroke-width="0.35">300</text>
<line x1="467.5" y1="501.2" x2="472.0" y2="501.2" stroke="#000" stroke-width="1.5"/>
<text x="466.5" y="507.1" font-family="'Liberation Serif', serif" font-size="15" font-weight="bold" fill="#000" text-anchor="end" textLength="22.8" lengthAdjust="spacingAndGlyphs" stroke="#000" stroke-width="0.35">400</text>
<line x1="508.7" y1="647.0" x2="508.7" y2="651.5" stroke="#000" stroke-width="1.5"/>
<text x="483.2" y="666.2" font-family="'Liberation Serif', serif" font-size="15.5" font-weight="bold" fill="#000" text-anchor="start" textLength="51.2" lengthAdjust="spacingAndGlyphs">Control</text>
<line x1="580.9" y1="647.0" x2="580.9" y2="651.5" stroke="#000" stroke-width="1.5"/>
<text x="561.0" y="666.2" font-family="'Liberation Serif', serif" font-size="15.5" font-weight="bold" fill="#000" text-anchor="start" textLength="37.2" lengthAdjust="spacingAndGlyphs">5 μM</text>
<line x1="653.2" y1="647.0" x2="653.2" y2="651.5" stroke="#000" stroke-width="1.5"/>
<text x="629.4" y="666.2" font-family="'Liberation Serif', serif" font-size="15.5" font-weight="bold" fill="#000" text-anchor="start" textLength="44.5" lengthAdjust="spacingAndGlyphs">10 μM</text>
<text transform="translate(434.9,651.7) rotate(-90)" font-family="'Liberation Serif', serif" font-size="16.2" font-weight="bold" textLength="162.1" lengthAdjust="spacingAndGlyphs">Spheroid diameter (μm)</text>
<polyline points="508.5,496.6 508.5,492.6 652.5,492.6 652.5,496.6" fill="none" stroke="#111" stroke-width="1.4"/>
<text x="574.3" y="491.0" font-family="'Liberation Sans', sans-serif" font-size="13.0" fill="#2a2a2a" text-anchor="middle" stroke="#2a2a2a" stroke-width="0.3">*</text>
<text x="581.0" y="491.0" font-family="'Liberation Sans', sans-serif" font-size="13.0" fill="#2a2a2a" text-anchor="middle" stroke="#2a2a2a" stroke-width="0.3">*</text>
<text x="587.7" y="491.0" font-family="'Liberation Sans', sans-serif" font-size="13.0" fill="#2a2a2a" text-anchor="middle" stroke="#2a2a2a" stroke-width="0.3">*</text>
<polyline points="508.5,512.6 508.5,508.6 580.8,508.6 580.8,512.6" fill="none" stroke="#111" stroke-width="1.4"/>
<text x="538.3" y="507.0" font-family="'Liberation Sans', sans-serif" font-size="13.0" fill="#2a2a2a" text-anchor="middle" stroke="#2a2a2a" stroke-width="0.3">*</text>
<text x="545.0" y="507.0" font-family="'Liberation Sans', sans-serif" font-size="13.0" fill="#2a2a2a" text-anchor="middle" stroke="#2a2a2a" stroke-width="0.3">*</text>
<text x="551.7" y="507.0" font-family="'Liberation Sans', sans-serif" font-size="13.0" fill="#2a2a2a" text-anchor="middle" stroke="#2a2a2a" stroke-width="0.3">*</text>
<polyline points="580.8,527.3 580.8,523.3 652.5,523.3 652.5,527.3" fill="none" stroke="#111" stroke-width="1.4"/>
<text x="610.8" y="521.7" font-family="'Liberation Sans', sans-serif" font-size="13.0" fill="#2a2a2a" text-anchor="middle" stroke="#2a2a2a" stroke-width="0.3">*</text>
<text x="617.5" y="521.7" font-family="'Liberation Sans', sans-serif" font-size="13.0" fill="#2a2a2a" text-anchor="middle" stroke="#2a2a2a" stroke-width="0.3">*</text>
<text x="624.2" y="521.7" font-family="'Liberation Sans', sans-serif" font-size="13.0" fill="#2a2a2a" text-anchor="middle" stroke="#2a2a2a" stroke-width="0.3">*</text>
<text x="429.9" y="726.0" font-family="'Liberation Sans', sans-serif" font-size="21.5" font-weight="normal" fill="#000" text-anchor="start">G</text>
<text x="563.6" y="715.3" font-family="'Liberation Serif', serif" font-size="18.5" font-weight="bold" fill="#000" text-anchor="start" textLength="38.2" lengthAdjust="spacingAndGlyphs">T111</text>
<g fill="#0000cc">
<circle cx="489.1" cy="858.5" r="1.1"/>
<circle cx="493.4" cy="858.5" r="1.1"/>
<circle cx="497.8" cy="858.5" r="1.1"/>
<circle cx="502.1" cy="858.5" r="1.1"/>
<circle cx="506.4" cy="858.5" r="1.1"/>
<circle cx="510.8" cy="858.5" r="1.1"/>
<circle cx="515.1" cy="858.5" r="1.1"/>
<circle cx="519.5" cy="858.5" r="1.1"/>
<circle cx="523.9" cy="858.5" r="1.1"/>
<circle cx="528.2" cy="858.5" r="1.1"/>
<circle cx="532.5" cy="858.5" r="1.1"/>
<circle cx="491.2" cy="855.8" r="1.1"/>
<circle cx="495.6" cy="855.8" r="1.1"/>
<circle cx="499.9" cy="855.8" r="1.1"/>
<circle cx="504.3" cy="855.8" r="1.1"/>
<circle cx="508.6" cy="855.8" r="1.1"/>
<circle cx="513.0" cy="855.8" r="1.1"/>
<circle cx="517.3" cy="855.8" r="1.1"/>
<circle cx="521.7" cy="855.8" r="1.1"/>
<circle cx="526.0" cy="855.8" r="1.1"/>
<circle cx="489.1" cy="853.1" r="1.1"/>
<circle cx="493.4" cy="853.1" r="1.1"/>
<circle cx="497.8" cy="853.1" r="1.1"/>
<circle cx="502.1" cy="853.1" r="1.1"/>
<circle cx="506.4" cy="853.1" r="1.1"/>
<circle cx="510.8" cy="853.1" r="1.1"/>
<circle cx="515.1" cy="853.1" r="1.1"/>
<circle cx="519.5" cy="853.1" r="1.1"/>
<circle cx="523.9" cy="853.1" r="1.1"/>
<circle cx="528.2" cy="853.1" r="1.1"/>
<circle cx="532.5" cy="853.1" r="1.1"/>
<circle cx="491.2" cy="850.4" r="1.1"/>
<circle cx="495.6" cy="850.4" r="1.1"/>
<circle cx="499.9" cy="850.4" r="1.1"/>
<circle cx="504.3" cy="850.4" r="1.1"/>
<circle cx="508.6" cy="850.4" r="1.1"/>
<circle cx="513.0" cy="850.4" r="1.1"/>
<circle cx="517.3" cy="850.4" r="1.1"/>
<circle cx="521.7" cy="850.4" r="1.1"/>
<circle cx="526.0" cy="850.4" r="1.1"/>
<circle cx="530.4" cy="850.4" r="1.1"/>
<circle cx="489.1" cy="847.7" r="1.1"/>
<circle cx="493.4" cy="847.7" r="1.1"/>
<circle cx="497.8" cy="847.7" r="1.1"/>
<circle cx="502.1" cy="847.7" r="1.1"/>
<circle cx="506.4" cy="847.7" r="1.1"/>
<circle cx="510.8" cy="847.7" r="1.1"/>
<circle cx="515.1" cy="847.7" r="1.1"/>
<circle cx="519.5" cy="847.7" r="1.1"/>
<circle cx="528.2" cy="847.7" r="1.1"/>
<circle cx="532.5" cy="847.7" r="1.1"/>
<circle cx="491.2" cy="845.0" r="1.1"/>
<circle cx="495.6" cy="845.0" r="1.1"/>
<circle cx="499.9" cy="845.0" r="1.1"/>
<circle cx="504.3" cy="845.0" r="1.1"/>
<circle cx="508.6" cy="845.0" r="1.1"/>
<circle cx="513.0" cy="845.0" r="1.1"/>
<circle cx="517.3" cy="845.0" r="1.1"/>
<circle cx="521.7" cy="845.0" r="1.1"/>
<circle cx="526.0" cy="845.0" r="1.1"/>
<circle cx="530.4" cy="845.0" r="1.1"/>
<circle cx="489.1" cy="842.3" r="1.1"/>
<circle cx="493.4" cy="842.3" r="1.1"/>
<circle cx="497.8" cy="842.3" r="1.1"/>
<circle cx="502.1" cy="842.3" r="1.1"/>
<circle cx="506.4" cy="842.3" r="1.1"/>
<circle cx="510.8" cy="842.3" r="1.1"/>
<circle cx="515.1" cy="842.3" r="1.1"/>
<circle cx="519.5" cy="842.3" r="1.1"/>
<circle cx="523.9" cy="842.3" r="1.1"/>
<circle cx="528.2" cy="842.3" r="1.1"/>
<circle cx="491.2" cy="839.6" r="1.1"/>
<circle cx="495.6" cy="839.6" r="1.1"/>
<circle cx="499.9" cy="839.6" r="1.1"/>
<circle cx="504.3" cy="839.6" r="1.1"/>
<circle cx="508.6" cy="839.6" r="1.1"/>
<circle cx="513.0" cy="839.6" r="1.1"/>
<circle cx="517.3" cy="839.6" r="1.1"/>
<circle cx="521.7" cy="839.6" r="1.1"/>
<circle cx="526.0" cy="839.6" r="1.1"/>
<circle cx="530.4" cy="839.6" r="1.1"/>
<circle cx="489.1" cy="836.9" r="1.1"/>
<circle cx="493.4" cy="836.9" r="1.1"/>
<circle cx="497.8" cy="836.9" r="1.1"/>
<circle cx="502.1" cy="836.9" r="1.1"/>
<circle cx="506.4" cy="836.9" r="1.1"/>
<circle cx="510.8" cy="836.9" r="1.1"/>
<circle cx="515.1" cy="836.9" r="1.1"/>
<circle cx="519.5" cy="836.9" r="1.1"/>
<circle cx="523.9" cy="836.9" r="1.1"/>
<circle cx="528.2" cy="836.9" r="1.1"/>
<circle cx="532.5" cy="836.9" r="1.1"/>
<circle cx="491.2" cy="834.2" r="1.1"/>
<circle cx="495.6" cy="834.2" r="1.1"/>
<circle cx="499.9" cy="834.2" r="1.1"/>
<circle cx="508.6" cy="834.2" r="1.1"/>
<circle cx="513.0" cy="834.2" r="1.1"/>
<circle cx="517.3" cy="834.2" r="1.1"/>
<circle cx="521.7" cy="834.2" r="1.1"/>
<circle cx="526.0" cy="834.2" r="1.1"/>
<circle cx="530.4" cy="834.2" r="1.1"/>
<circle cx="489.1" cy="831.5" r="1.1"/>
<circle cx="493.4" cy="831.5" r="1.1"/>
<circle cx="497.8" cy="831.5" r="1.1"/>
<circle cx="502.1" cy="831.5" r="1.1"/>
<circle cx="506.4" cy="831.5" r="1.1"/>
<circle cx="515.1" cy="831.5" r="1.1"/>
<circle cx="519.5" cy="831.5" r="1.1"/>
<circle cx="523.9" cy="831.5" r="1.1"/>
<circle cx="528.2" cy="831.5" r="1.1"/>
<circle cx="532.5" cy="831.5" r="1.1"/>
<circle cx="491.2" cy="828.8" r="1.1"/>
<circle cx="495.6" cy="828.8" r="1.1"/>
<circle cx="499.9" cy="828.8" r="1.1"/>
<circle cx="504.3" cy="828.8" r="1.1"/>
<circle cx="508.6" cy="828.8" r="1.1"/>
<circle cx="513.0" cy="828.8" r="1.1"/>
<circle cx="517.3" cy="828.8" r="1.1"/>
<circle cx="521.7" cy="828.8" r="1.1"/>
<circle cx="526.0" cy="828.8" r="1.1"/>
<circle cx="530.4" cy="828.8" r="1.1"/>
<circle cx="489.1" cy="826.1" r="1.1"/>
<circle cx="493.4" cy="826.1" r="1.1"/>
<circle cx="497.8" cy="826.1" r="1.1"/>
<circle cx="502.1" cy="826.1" r="1.1"/>
<circle cx="506.4" cy="826.1" r="1.1"/>
<circle cx="510.8" cy="826.1" r="1.1"/>
<circle cx="515.1" cy="826.1" r="1.1"/>
<circle cx="519.5" cy="826.1" r="1.1"/>
<circle cx="523.9" cy="826.1" r="1.1"/>
<circle cx="528.2" cy="826.1" r="1.1"/>
<circle cx="532.5" cy="826.1" r="1.1"/>
<circle cx="491.2" cy="823.4" r="1.1"/>
<circle cx="495.6" cy="823.4" r="1.1"/>
<circle cx="499.9" cy="823.4" r="1.1"/>
<circle cx="504.3" cy="823.4" r="1.1"/>
<circle cx="508.6" cy="823.4" r="1.1"/>
<circle cx="513.0" cy="823.4" r="1.1"/>
<circle cx="521.7" cy="823.4" r="1.1"/>
<circle cx="526.0" cy="823.4" r="1.1"/>
<circle cx="530.4" cy="823.4" r="1.1"/>
<circle cx="489.1" cy="820.7" r="1.1"/>
<circle cx="493.4" cy="820.7" r="1.1"/>
<circle cx="497.8" cy="820.7" r="1.1"/>
<circle cx="502.1" cy="820.7" r="1.1"/>
<circle cx="506.4" cy="820.7" r="1.1"/>
<circle cx="510.8" cy="820.7" r="1.1"/>
<circle cx="519.5" cy="820.7" r="1.1"/>
<circle cx="523.9" cy="820.7" r="1.1"/>
<circle cx="528.2" cy="820.7" r="1.1"/>
<circle cx="532.5" cy="820.7" r="1.1"/>
<circle cx="491.2" cy="818.0" r="1.1"/>
<circle cx="499.9" cy="818.0" r="1.1"/>
<circle cx="504.3" cy="818.0" r="1.1"/>
<circle cx="508.6" cy="818.0" r="1.1"/>
<circle cx="513.0" cy="818.0" r="1.1"/>
<circle cx="517.3" cy="818.0" r="1.1"/>
<circle cx="521.7" cy="818.0" r="1.1"/>
<circle cx="526.0" cy="818.0" r="1.1"/>
<circle cx="530.4" cy="818.0" r="1.1"/>
<circle cx="489.1" cy="815.3" r="1.1"/>
<circle cx="493.4" cy="815.3" r="1.1"/>
<circle cx="497.8" cy="815.3" r="1.1"/>
<circle cx="506.4" cy="815.3" r="1.1"/>
<circle cx="510.8" cy="815.3" r="1.1"/>
<circle cx="515.1" cy="815.3" r="1.1"/>
<circle cx="519.5" cy="815.3" r="1.1"/>
<circle cx="523.9" cy="815.3" r="1.1"/>
<circle cx="528.2" cy="815.3" r="1.1"/>
<circle cx="532.5" cy="815.3" r="1.1"/>
<circle cx="491.2" cy="812.6" r="1.1"/>
<circle cx="495.6" cy="812.6" r="1.1"/>
<circle cx="499.9" cy="812.6" r="1.1"/>
<circle cx="504.3" cy="812.6" r="1.1"/>
<circle cx="508.6" cy="812.6" r="1.1"/>
<circle cx="517.3" cy="812.6" r="1.1"/>
<circle cx="521.7" cy="812.6" r="1.1"/>
<circle cx="489.1" cy="809.9" r="1.1"/>
<circle cx="493.4" cy="809.9" r="1.1"/>
<circle cx="497.8" cy="809.9" r="1.1"/>
<circle cx="502.1" cy="809.9" r="1.1"/>
<circle cx="506.4" cy="809.9" r="1.1"/>
<circle cx="510.8" cy="809.9" r="1.1"/>
<circle cx="515.1" cy="809.9" r="1.1"/>
<circle cx="519.5" cy="809.9" r="1.1"/>
<circle cx="523.9" cy="809.9" r="1.1"/>
<circle cx="528.2" cy="809.9" r="1.1"/>
<circle cx="532.5" cy="809.9" r="1.1"/>
<circle cx="491.2" cy="807.2" r="1.1"/>
<circle cx="495.6" cy="807.2" r="1.1"/>
<circle cx="499.9" cy="807.2" r="1.1"/>
<circle cx="504.3" cy="807.2" r="1.1"/>
<circle cx="508.6" cy="807.2" r="1.1"/>
<circle cx="513.0" cy="807.2" r="1.1"/>
<circle cx="517.3" cy="807.2" r="1.1"/>
<circle cx="521.7" cy="807.2" r="1.1"/>
<circle cx="526.0" cy="807.2" r="1.1"/>
<circle cx="530.4" cy="807.2" r="1.1"/>
<circle cx="493.4" cy="804.5" r="1.1"/>
<circle cx="497.8" cy="804.5" r="1.1"/>
<circle cx="502.1" cy="804.5" r="1.1"/>
<circle cx="506.4" cy="804.5" r="1.1"/>
<circle cx="510.8" cy="804.5" r="1.1"/>
<circle cx="515.1" cy="804.5" r="1.1"/>
<circle cx="519.5" cy="804.5" r="1.1"/>
<circle cx="523.9" cy="804.5" r="1.1"/>
<circle cx="528.2" cy="804.5" r="1.1"/>
<circle cx="532.5" cy="804.5" r="1.1"/>
<circle cx="491.2" cy="801.8" r="1.1"/>
<circle cx="499.9" cy="801.8" r="1.1"/>
<circle cx="504.3" cy="801.8" r="1.1"/>
<circle cx="508.6" cy="801.8" r="1.1"/>
<circle cx="513.0" cy="801.8" r="1.1"/>
<circle cx="517.3" cy="801.8" r="1.1"/>
<circle cx="526.0" cy="801.8" r="1.1"/>
<circle cx="530.4" cy="801.8" r="1.1"/>
<circle cx="510.8" cy="870.7" r="1.1"/>
<circle cx="504.3" cy="868.3" r="1.1"/>
<circle cx="513.0" cy="868.3" r="1.1"/>
<circle cx="517.3" cy="868.3" r="1.1"/>
<circle cx="495.6" cy="865.8" r="1.1"/>
<circle cx="499.9" cy="865.8" r="1.1"/>
<circle cx="504.3" cy="865.8" r="1.1"/>
<circle cx="517.3" cy="865.8" r="1.1"/>
<circle cx="521.7" cy="865.8" r="1.1"/>
<circle cx="489.1" cy="863.4" r="1.1"/>
<circle cx="493.4" cy="863.4" r="1.1"/>
<circle cx="506.4" cy="863.4" r="1.1"/>
<circle cx="510.8" cy="863.4" r="1.1"/>
<circle cx="515.1" cy="863.4" r="1.1"/>
<circle cx="519.5" cy="863.4" r="1.1"/>
<circle cx="528.2" cy="863.4" r="1.1"/>
<circle cx="493.4" cy="861.0" r="1.1"/>
<circle cx="497.8" cy="861.0" r="1.1"/>
<circle cx="506.4" cy="861.0" r="1.1"/>
<circle cx="510.8" cy="861.0" r="1.1"/>
<circle cx="515.1" cy="861.0" r="1.1"/>
<circle cx="519.5" cy="861.0" r="1.1"/>
<circle cx="523.9" cy="861.0" r="1.1"/>
<circle cx="528.2" cy="861.0" r="1.1"/>
<circle cx="532.5" cy="861.0" r="1.1"/>
<circle cx="489.1" cy="798.6" r="1.1"/>
<circle cx="493.4" cy="798.6" r="1.1"/>
<circle cx="497.8" cy="798.6" r="1.1"/>
<circle cx="506.4" cy="798.6" r="1.1"/>
<circle cx="515.1" cy="798.6" r="1.1"/>
<circle cx="519.5" cy="798.6" r="1.1"/>
<circle cx="523.9" cy="798.6" r="1.1"/>
<circle cx="528.2" cy="798.6" r="1.1"/>
<circle cx="489.1" cy="796.2" r="1.1"/>
<circle cx="493.4" cy="796.2" r="1.1"/>
<circle cx="497.8" cy="796.2" r="1.1"/>
<circle cx="502.1" cy="796.2" r="1.1"/>
<circle cx="506.4" cy="796.2" r="1.1"/>
<circle cx="510.8" cy="796.2" r="1.1"/>
<circle cx="519.5" cy="796.2" r="1.1"/>
<circle cx="532.5" cy="796.2" r="1.1"/>
<circle cx="489.1" cy="793.8" r="1.1"/>
<circle cx="493.4" cy="793.8" r="1.1"/>
<circle cx="497.8" cy="793.8" r="1.1"/>
<circle cx="502.1" cy="793.8" r="1.1"/>
<circle cx="523.9" cy="793.8" r="1.1"/>
<circle cx="528.2" cy="793.8" r="1.1"/>
<circle cx="532.5" cy="793.8" r="1.1"/>
<circle cx="493.4" cy="790.8" r="1.1"/>
<circle cx="497.8" cy="790.8" r="1.1"/>
<circle cx="510.8" cy="790.8" r="1.1"/>
<circle cx="515.1" cy="790.8" r="1.1"/>
<circle cx="523.9" cy="790.8" r="1.1"/>
<circle cx="510.8" cy="787.4" r="1.1"/>
<circle cx="515.1" cy="787.4" r="1.1"/>
<circle cx="519.5" cy="787.4" r="1.1"/>
<circle cx="510.8" cy="780.6" r="1.1"/>
<circle cx="510.8" cy="775.7" r="1.1"/>
<circle cx="508.6" cy="768.9" r="1.1"/>
<circle cx="513.0" cy="768.9" r="1.1"/>
</g>
<g fill="#ff0000">
<rect x="559.9" y="872.0" width="2.2" height="2.2"/>
<rect x="564.3" y="872.0" width="2.2" height="2.2"/>
<rect x="568.6" y="872.0" width="2.2" height="2.2"/>
<rect x="573.0" y="872.0" width="2.2" height="2.2"/>
<rect x="577.3" y="872.0" width="2.2" height="2.2"/>
<rect x="581.7" y="872.0" width="2.2" height="2.2"/>
<rect x="586.0" y="872.0" width="2.2" height="2.2"/>
<rect x="590.4" y="872.0" width="2.2" height="2.2"/>
<rect x="594.7" y="872.0" width="2.2" height="2.2"/>
<rect x="599.1" y="872.0" width="2.2" height="2.2"/>
<rect x="603.4" y="872.0" width="2.2" height="2.2"/>
<rect x="562.1" y="869.6" width="2.2" height="2.2"/>
<rect x="566.5" y="869.6" width="2.2" height="2.2"/>
<rect x="570.8" y="869.6" width="2.2" height="2.2"/>
<rect x="575.2" y="869.6" width="2.2" height="2.2"/>
<rect x="579.5" y="869.6" width="2.2" height="2.2"/>
<rect x="583.9" y="869.6" width="2.2" height="2.2"/>
<rect x="588.2" y="869.6" width="2.2" height="2.2"/>
<rect x="592.6" y="869.6" width="2.2" height="2.2"/>
<rect x="596.9" y="869.6" width="2.2" height="2.2"/>
<rect x="601.3" y="869.6" width="2.2" height="2.2"/>
<rect x="559.9" y="867.2" width="2.2" height="2.2"/>
<rect x="564.3" y="867.2" width="2.2" height="2.2"/>
<rect x="568.6" y="867.2" width="2.2" height="2.2"/>
<rect x="573.0" y="867.2" width="2.2" height="2.2"/>
<rect x="577.3" y="867.2" width="2.2" height="2.2"/>
<rect x="581.7" y="867.2" width="2.2" height="2.2"/>
<rect x="586.0" y="867.2" width="2.2" height="2.2"/>
<rect x="590.4" y="867.2" width="2.2" height="2.2"/>
<rect x="594.7" y="867.2" width="2.2" height="2.2"/>
<rect x="599.1" y="867.2" width="2.2" height="2.2"/>
<rect x="603.4" y="867.2" width="2.2" height="2.2"/>
<rect x="562.1" y="864.8" width="2.2" height="2.2"/>
<rect x="566.5" y="864.8" width="2.2" height="2.2"/>
<rect x="570.8" y="864.8" width="2.2" height="2.2"/>
<rect x="575.2" y="864.8" width="2.2" height="2.2"/>
<rect x="579.5" y="864.8" width="2.2" height="2.2"/>
<rect x="583.9" y="864.8" width="2.2" height="2.2"/>
<rect x="588.2" y="864.8" width="2.2" height="2.2"/>
<rect x="592.6" y="864.8" width="2.2" height="2.2"/>
<rect x="596.9" y="864.8" width="2.2" height="2.2"/>
<rect x="601.3" y="864.8" width="2.2" height="2.2"/>
<rect x="559.9" y="862.4" width="2.2" height="2.2"/>
<rect x="564.3" y="862.4" width="2.2" height="2.2"/>
<rect x="568.6" y="862.4" width="2.2" height="2.2"/>
<rect x="573.0" y="862.4" width="2.2" height="2.2"/>
<rect x="577.3" y="862.4" width="2.2" height="2.2"/>
<rect x="581.7" y="862.4" width="2.2" height="2.2"/>
<rect x="586.0" y="862.4" width="2.2" height="2.2"/>
<rect x="590.4" y="862.4" width="2.2" height="2.2"/>
<rect x="594.7" y="862.4" width="2.2" height="2.2"/>
<rect x="599.1" y="862.4" width="2.2" height="2.2"/>
<rect x="603.4" y="862.4" width="2.2" height="2.2"/>
<rect x="562.1" y="860.0" width="2.2" height="2.2"/>
<rect x="566.5" y="860.0" width="2.2" height="2.2"/>
<rect x="570.8" y="860.0" width="2.2" height="2.2"/>
<rect x="575.2" y="860.0" width="2.2" height="2.2"/>
<rect x="579.5" y="860.0" width="2.2" height="2.2"/>
<rect x="583.9" y="860.0" width="2.2" height="2.2"/>
<rect x="588.2" y="860.0" width="2.2" height="2.2"/>
<rect x="592.6" y="860.0" width="2.2" height="2.2"/>
<rect x="596.9" y="860.0" width="2.2" height="2.2"/>
<rect x="601.3" y="860.0" width="2.2" height="2.2"/>
<rect x="559.9" y="857.6" width="2.2" height="2.2"/>
<rect x="564.3" y="857.6" width="2.2" height="2.2"/>
<rect x="568.6" y="857.6" width="2.2" height="2.2"/>
<rect x="573.0" y="857.6" width="2.2" height="2.2"/>
<rect x="577.3" y="857.6" width="2.2" height="2.2"/>
<rect x="581.7" y="857.6" width="2.2" height="2.2"/>
<rect x="586.0" y="857.6" width="2.2" height="2.2"/>
<rect x="590.4" y="857.6" width="2.2" height="2.2"/>
<rect x="594.7" y="857.6" width="2.2" height="2.2"/>
<rect x="599.1" y="857.6" width="2.2" height="2.2"/>
<rect x="603.4" y="857.6" width="2.2" height="2.2"/>
<rect x="562.1" y="855.2" width="2.2" height="2.2"/>
<rect x="566.5" y="855.2" width="2.2" height="2.2"/>
<rect x="570.8" y="855.2" width="2.2" height="2.2"/>
<rect x="575.2" y="855.2" width="2.2" height="2.2"/>
<rect x="579.5" y="855.2" width="2.2" height="2.2"/>
<rect x="583.9" y="855.2" width="2.2" height="2.2"/>
<rect x="588.2" y="855.2" width="2.2" height="2.2"/>
<rect x="592.6" y="855.2" width="2.2" height="2.2"/>
<rect x="596.9" y="855.2" width="2.2" height="2.2"/>
<rect x="601.3" y="855.2" width="2.2" height="2.2"/>
<rect x="559.9" y="852.8" width="2.2" height="2.2"/>
<rect x="564.3" y="852.8" width="2.2" height="2.2"/>
<rect x="568.6" y="852.8" width="2.2" height="2.2"/>
<rect x="573.0" y="852.8" width="2.2" height="2.2"/>
<rect x="577.3" y="852.8" width="2.2" height="2.2"/>
<rect x="581.7" y="852.8" width="2.2" height="2.2"/>
<rect x="586.0" y="852.8" width="2.2" height="2.2"/>
<rect x="590.4" y="852.8" width="2.2" height="2.2"/>
<rect x="594.7" y="852.8" width="2.2" height="2.2"/>
<rect x="599.1" y="852.8" width="2.2" height="2.2"/>
<rect x="603.4" y="852.8" width="2.2" height="2.2"/>
<rect x="562.1" y="850.4" width="2.2" height="2.2"/>
<rect x="566.5" y="850.4" width="2.2" height="2.2"/>
<rect x="570.8" y="850.4" width="2.2" height="2.2"/>
<rect x="575.2" y="850.4" width="2.2" height="2.2"/>
<rect x="579.5" y="850.4" width="2.2" height="2.2"/>
<rect x="583.9" y="850.4" width="2.2" height="2.2"/>
<rect x="588.2" y="850.4" width="2.2" height="2.2"/>
<rect x="592.6" y="850.4" width="2.2" height="2.2"/>
<rect x="596.9" y="850.4" width="2.2" height="2.2"/>
<rect x="601.3" y="850.4" width="2.2" height="2.2"/>
<rect x="559.9" y="848.0" width="2.2" height="2.2"/>
<rect x="564.3" y="848.0" width="2.2" height="2.2"/>
<rect x="568.6" y="848.0" width="2.2" height="2.2"/>
<rect x="573.0" y="848.0" width="2.2" height="2.2"/>
<rect x="577.3" y="848.0" width="2.2" height="2.2"/>
<rect x="581.7" y="848.0" width="2.2" height="2.2"/>
<rect x="586.0" y="848.0" width="2.2" height="2.2"/>
<rect x="590.4" y="848.0" width="2.2" height="2.2"/>
<rect x="594.7" y="848.0" width="2.2" height="2.2"/>
<rect x="599.1" y="848.0" width="2.2" height="2.2"/>
<rect x="603.4" y="848.0" width="2.2" height="2.2"/>
<rect x="562.1" y="845.6" width="2.2" height="2.2"/>
<rect x="566.5" y="845.6" width="2.2" height="2.2"/>
<rect x="570.8" y="845.6" width="2.2" height="2.2"/>
<rect x="575.2" y="845.6" width="2.2" height="2.2"/>
<rect x="579.5" y="845.6" width="2.2" height="2.2"/>
<rect x="583.9" y="845.6" width="2.2" height="2.2"/>
<rect x="588.2" y="845.6" width="2.2" height="2.2"/>
<rect x="592.6" y="845.6" width="2.2" height="2.2"/>
<rect x="596.9" y="845.6" width="2.2" height="2.2"/>
<rect x="601.3" y="845.6" width="2.2" height="2.2"/>
<rect x="559.9" y="843.2" width="2.2" height="2.2"/>
<rect x="564.3" y="843.2" width="2.2" height="2.2"/>
<rect x="568.6" y="843.2" width="2.2" height="2.2"/>
<rect x="573.0" y="843.2" width="2.2" height="2.2"/>
<rect x="577.3" y="843.2" width="2.2" height="2.2"/>
<rect x="581.7" y="843.2" width="2.2" height="2.2"/>
<rect x="586.0" y="843.2" width="2.2" height="2.2"/>
<rect x="590.4" y="843.2" width="2.2" height="2.2"/>
<rect x="594.7" y="843.2" width="2.2" height="2.2"/>
<rect x="599.1" y="843.2" width="2.2" height="2.2"/>
<rect x="603.4" y="843.2" width="2.2" height="2.2"/>
<rect x="562.1" y="840.8" width="2.2" height="2.2"/>
<rect x="566.5" y="840.8" width="2.2" height="2.2"/>
<rect x="570.8" y="840.8" width="2.2" height="2.2"/>
<rect x="575.2" y="840.8" width="2.2" height="2.2"/>
<rect x="579.5" y="840.8" width="2.2" height="2.2"/>
<rect x="583.9" y="840.8" width="2.2" height="2.2"/>
<rect x="588.2" y="840.8" width="2.2" height="2.2"/>
<rect x="592.6" y="840.8" width="2.2" height="2.2"/>
<rect x="596.9" y="840.8" width="2.2" height="2.2"/>
<rect x="601.3" y="840.8" width="2.2" height="2.2"/>
<rect x="559.9" y="838.4" width="2.2" height="2.2"/>
<rect x="564.3" y="838.4" width="2.2" height="2.2"/>
<rect x="568.6" y="838.4" width="2.2" height="2.2"/>
<rect x="573.0" y="838.4" width="2.2" height="2.2"/>
<rect x="577.3" y="838.4" width="2.2" height="2.2"/>
<rect x="581.7" y="838.4" width="2.2" height="2.2"/>
<rect x="586.0" y="838.4" width="2.2" height="2.2"/>
<rect x="590.4" y="838.4" width="2.2" height="2.2"/>
<rect x="594.7" y="838.4" width="2.2" height="2.2"/>
<rect x="599.1" y="838.4" width="2.2" height="2.2"/>
<rect x="603.4" y="838.4" width="2.2" height="2.2"/>
<rect x="562.1" y="836.0" width="2.2" height="2.2"/>
<rect x="566.5" y="836.0" width="2.2" height="2.2"/>
<rect x="570.8" y="836.0" width="2.2" height="2.2"/>
<rect x="575.2" y="836.0" width="2.2" height="2.2"/>
<rect x="579.5" y="836.0" width="2.2" height="2.2"/>
<rect x="583.9" y="836.0" width="2.2" height="2.2"/>
<rect x="588.2" y="836.0" width="2.2" height="2.2"/>
<rect x="592.6" y="836.0" width="2.2" height="2.2"/>
<rect x="596.9" y="836.0" width="2.2" height="2.2"/>
<rect x="601.3" y="836.0" width="2.2" height="2.2"/>
<rect x="559.9" y="833.6" width="2.2" height="2.2"/>
<rect x="564.3" y="833.6" width="2.2" height="2.2"/>
<rect x="568.6" y="833.6" width="2.2" height="2.2"/>
<rect x="573.0" y="833.6" width="2.2" height="2.2"/>
<rect x="577.3" y="833.6" width="2.2" height="2.2"/>
<rect x="581.7" y="833.6" width="2.2" height="2.2"/>
<rect x="586.0" y="833.6" width="2.2" height="2.2"/>
<rect x="590.4" y="833.6" width="2.2" height="2.2"/>
<rect x="594.7" y="833.6" width="2.2" height="2.2"/>
<rect x="599.1" y="833.6" width="2.2" height="2.2"/>
<rect x="603.4" y="833.6" width="2.2" height="2.2"/>
<rect x="562.1" y="831.2" width="2.2" height="2.2"/>
<rect x="566.5" y="831.2" width="2.2" height="2.2"/>
<rect x="570.8" y="831.2" width="2.2" height="2.2"/>
<rect x="575.2" y="831.2" width="2.2" height="2.2"/>
<rect x="579.5" y="831.2" width="2.2" height="2.2"/>
<rect x="583.9" y="831.2" width="2.2" height="2.2"/>
<rect x="588.2" y="831.2" width="2.2" height="2.2"/>
<rect x="592.6" y="831.2" width="2.2" height="2.2"/>
<rect x="596.9" y="831.2" width="2.2" height="2.2"/>
<rect x="601.3" y="831.2" width="2.2" height="2.2"/>
<rect x="559.9" y="828.8" width="2.2" height="2.2"/>
<rect x="564.3" y="828.8" width="2.2" height="2.2"/>
<rect x="568.6" y="828.8" width="2.2" height="2.2"/>
<rect x="573.0" y="828.8" width="2.2" height="2.2"/>
<rect x="577.3" y="828.8" width="2.2" height="2.2"/>
<rect x="581.7" y="828.8" width="2.2" height="2.2"/>
<rect x="586.0" y="828.8" width="2.2" height="2.2"/>
<rect x="590.4" y="828.8" width="2.2" height="2.2"/>
<rect x="594.7" y="828.8" width="2.2" height="2.2"/>
<rect x="599.1" y="828.8" width="2.2" height="2.2"/>
<rect x="603.4" y="828.8" width="2.2" height="2.2"/>
<rect x="562.1" y="826.4" width="2.2" height="2.2"/>
<rect x="566.5" y="826.4" width="2.2" height="2.2"/>
<rect x="570.8" y="826.4" width="2.2" height="2.2"/>
<rect x="575.2" y="826.4" width="2.2" height="2.2"/>
<rect x="579.5" y="826.4" width="2.2" height="2.2"/>
<rect x="583.9" y="826.4" width="2.2" height="2.2"/>
<rect x="588.2" y="826.4" width="2.2" height="2.2"/>
<rect x="592.6" y="826.4" width="2.2" height="2.2"/>
<rect x="596.9" y="826.4" width="2.2" height="2.2"/>
<rect x="601.3" y="826.4" width="2.2" height="2.2"/>
<rect x="559.9" y="824.0" width="2.2" height="2.2"/>
<rect x="564.3" y="824.0" width="2.2" height="2.2"/>
<rect x="568.6" y="824.0" width="2.2" height="2.2"/>
<rect x="573.0" y="824.0" width="2.2" height="2.2"/>
<rect x="577.3" y="824.0" width="2.2" height="2.2"/>
<rect x="581.7" y="824.0" width="2.2" height="2.2"/>
<rect x="586.0" y="824.0" width="2.2" height="2.2"/>
<rect x="590.4" y="824.0" width="2.2" height="2.2"/>
<rect x="594.7" y="824.0" width="2.2" height="2.2"/>
<rect x="599.1" y="824.0" width="2.2" height="2.2"/>
<rect x="603.4" y="824.0" width="2.2" height="2.2"/>
<rect x="562.1" y="821.6" width="2.2" height="2.2"/>
<rect x="566.5" y="821.6" width="2.2" height="2.2"/>
<rect x="570.8" y="821.6" width="2.2" height="2.2"/>
<rect x="575.2" y="821.6" width="2.2" height="2.2"/>
<rect x="579.5" y="821.6" width="2.2" height="2.2"/>
<rect x="583.9" y="821.6" width="2.2" height="2.2"/>
<rect x="588.2" y="821.6" width="2.2" height="2.2"/>
<rect x="592.6" y="821.6" width="2.2" height="2.2"/>
<rect x="596.9" y="821.6" width="2.2" height="2.2"/>
<rect x="601.3" y="821.6" width="2.2" height="2.2"/>
<rect x="559.9" y="819.2" width="2.2" height="2.2"/>
<rect x="564.3" y="819.2" width="2.2" height="2.2"/>
<rect x="568.6" y="819.2" width="2.2" height="2.2"/>
<rect x="573.0" y="819.2" width="2.2" height="2.2"/>
<rect x="577.3" y="819.2" width="2.2" height="2.2"/>
<rect x="581.7" y="819.2" width="2.2" height="2.2"/>
<rect x="586.0" y="819.2" width="2.2" height="2.2"/>
<rect x="590.4" y="819.2" width="2.2" height="2.2"/>
<rect x="594.7" y="819.2" width="2.2" height="2.2"/>
<rect x="599.1" y="819.2" width="2.2" height="2.2"/>
<rect x="603.4" y="819.2" width="2.2" height="2.2"/>
<rect x="562.1" y="816.8" width="2.2" height="2.2"/>
<rect x="566.5" y="816.8" width="2.2" height="2.2"/>
<rect x="570.8" y="816.8" width="2.2" height="2.2"/>
<rect x="575.2" y="816.8" width="2.2" height="2.2"/>
<rect x="579.5" y="816.8" width="2.2" height="2.2"/>
<rect x="583.9" y="816.8" width="2.2" height="2.2"/>
<rect x="588.2" y="816.8" width="2.2" height="2.2"/>
<rect x="592.6" y="816.8" width="2.2" height="2.2"/>
<rect x="596.9" y="816.8" width="2.2" height="2.2"/>
<rect x="601.3" y="816.8" width="2.2" height="2.2"/>
<rect x="559.9" y="874.0" width="2.2" height="2.2"/>
<rect x="564.3" y="874.0" width="2.2" height="2.2"/>
<rect x="568.6" y="874.0" width="2.2" height="2.2"/>
<rect x="573.0" y="874.0" width="2.2" height="2.2"/>
<rect x="577.3" y="874.0" width="2.2" height="2.2"/>
<rect x="586.0" y="874.0" width="2.2" height="2.2"/>
<rect x="603.4" y="874.0" width="2.2" height="2.2"/>
<rect x="564.3" y="813.1" width="2.2" height="2.2"/>
<rect x="568.6" y="813.1" width="2.2" height="2.2"/>
<rect x="573.0" y="813.1" width="2.2" height="2.2"/>
<rect x="581.7" y="813.1" width="2.2" height="2.2"/>
<rect x="586.0" y="813.1" width="2.2" height="2.2"/>
<rect x="590.4" y="813.1" width="2.2" height="2.2"/>
<rect x="594.7" y="813.1" width="2.2" height="2.2"/>
<rect x="603.4" y="813.1" width="2.2" height="2.2"/>
<rect x="559.9" y="810.7" width="2.2" height="2.2"/>
<rect x="564.3" y="810.7" width="2.2" height="2.2"/>
<rect x="568.6" y="810.7" width="2.2" height="2.2"/>
<rect x="586.0" y="810.7" width="2.2" height="2.2"/>
<rect x="599.1" y="810.7" width="2.2" height="2.2"/>
<rect x="603.4" y="810.7" width="2.2" height="2.2"/>
<rect x="573.0" y="808.2" width="2.2" height="2.2"/>
<rect x="577.3" y="808.2" width="2.2" height="2.2"/>
<rect x="581.7" y="808.2" width="2.2" height="2.2"/>
<rect x="590.4" y="808.2" width="2.2" height="2.2"/>
<rect x="594.7" y="808.2" width="2.2" height="2.2"/>
<rect x="599.1" y="808.2" width="2.2" height="2.2"/>
<rect x="603.4" y="808.2" width="2.2" height="2.2"/>
<rect x="564.3" y="805.8" width="2.2" height="2.2"/>
<rect x="568.6" y="805.8" width="2.2" height="2.2"/>
<rect x="581.7" y="805.8" width="2.2" height="2.2"/>
<rect x="599.1" y="805.8" width="2.2" height="2.2"/>
<rect x="603.4" y="805.8" width="2.2" height="2.2"/>
<rect x="568.6" y="803.9" width="2.2" height="2.2"/>
<rect x="573.0" y="803.9" width="2.2" height="2.2"/>
<rect x="577.3" y="803.9" width="2.2" height="2.2"/>
<rect x="599.1" y="803.9" width="2.2" height="2.2"/>
<rect x="581.7" y="796.1" width="2.2" height="2.2"/>
<rect x="581.7" y="782.9" width="2.2" height="2.2"/>
</g>
<g fill="#008000">
<polygon points="633.2,872.4 634.9,875.3 631.6,875.3"/>
<polygon points="637.6,872.4 639.2,875.3 636.0,875.3"/>
<polygon points="642.0,872.4 643.6,875.3 640.4,875.3"/>
<polygon points="646.3,872.4 647.9,875.3 644.7,875.3"/>
<polygon points="650.6,872.4 652.2,875.3 649.0,875.3"/>
<polygon points="655.0,872.4 656.6,875.3 653.4,875.3"/>
<polygon points="659.4,872.4 661.0,875.3 657.8,875.3"/>
<polygon points="663.7,872.4 665.3,875.3 662.1,875.3"/>
<polygon points="668.0,872.4 669.6,875.3 666.4,875.3"/>
<polygon points="672.4,872.4 674.0,875.3 670.8,875.3"/>
<polygon points="676.8,872.4 678.4,875.3 675.1,875.3"/>
<polygon points="635.4,870.0 637.0,872.9 633.8,872.9"/>
<polygon points="639.8,870.0 641.4,872.9 638.2,872.9"/>
<polygon points="644.1,870.0 645.7,872.9 642.5,872.9"/>
<polygon points="648.5,870.0 650.1,872.9 646.9,872.9"/>
<polygon points="652.8,870.0 654.4,872.9 651.2,872.9"/>
<polygon points="657.2,870.0 658.8,872.9 655.6,872.9"/>
<polygon points="661.5,870.0 663.1,872.9 659.9,872.9"/>
<polygon points="665.9,870.0 667.5,872.9 664.3,872.9"/>
<polygon points="670.2,870.0 671.8,872.9 668.6,872.9"/>
<polygon points="674.6,870.0 676.2,872.9 673.0,872.9"/>
<polygon points="633.2,867.6 634.9,870.5 631.6,870.5"/>
<polygon points="637.6,867.6 639.2,870.5 636.0,870.5"/>
<polygon points="642.0,867.6 643.6,870.5 640.4,870.5"/>
<polygon points="646.3,867.6 647.9,870.5 644.7,870.5"/>
<polygon points="650.6,867.6 652.2,870.5 649.0,870.5"/>
<polygon points="655.0,867.6 656.6,870.5 653.4,870.5"/>
<polygon points="659.4,867.6 661.0,870.5 657.8,870.5"/>
<polygon points="663.7,867.6 665.3,870.5 662.1,870.5"/>
<polygon points="668.0,867.6 669.6,870.5 666.4,870.5"/>
<polygon points="672.4,867.6 674.0,870.5 670.8,870.5"/>
<polygon points="676.8,867.6 678.4,870.5 675.1,870.5"/>
<polygon points="635.4,865.2 637.0,868.1 633.8,868.1"/>
<polygon points="639.8,865.2 641.4,868.1 638.2,868.1"/>
<polygon points="644.1,865.2 645.7,868.1 642.5,868.1"/>
<polygon points="648.5,865.2 650.1,868.1 646.9,868.1"/>
<polygon points="652.8,865.2 654.4,868.1 651.2,868.1"/>
<polygon points="657.2,865.2 658.8,868.1 655.6,868.1"/>
<polygon points="661.5,865.2 663.1,868.1 659.9,868.1"/>
<polygon points="665.9,865.2 667.5,868.1 664.3,868.1"/>
<polygon points="670.2,865.2 671.8,868.1 668.6,868.1"/>
<polygon points="674.6,865.2 676.2,868.1 673.0,868.1"/>
<polygon points="633.2,862.8 634.9,865.7 631.6,865.7"/>
<polygon points="637.6,862.8 639.2,865.7 636.0,865.7"/>
<polygon points="642.0,862.8 643.6,865.7 640.4,865.7"/>
<polygon points="646.3,862.8 647.9,865.7 644.7,865.7"/>
<polygon points="650.6,862.8 652.2,865.7 649.0,865.7"/>
<polygon points="655.0,862.8 656.6,865.7 653.4,865.7"/>
<polygon points="659.4,862.8 661.0,865.7 657.8,865.7"/>
<polygon points="663.7,862.8 665.3,865.7 662.1,865.7"/>
<polygon points="668.0,862.8 669.6,865.7 666.4,865.7"/>
<polygon points="672.4,862.8 674.0,865.7 670.8,865.7"/>
<polygon points="676.8,862.8 678.4,865.7 675.1,865.7"/>
<polygon points="635.4,860.4 637.0,863.3 633.8,863.3"/>
<polygon points="639.8,860.4 641.4,863.3 638.2,863.3"/>
<polygon points="644.1,860.4 645.7,863.3 642.5,863.3"/>
<polygon points="648.5,860.4 650.1,863.3 646.9,863.3"/>
<polygon points="652.8,860.4 654.4,863.3 651.2,863.3"/>
<polygon points="657.2,860.4 658.8,863.3 655.6,863.3"/>
<polygon points="661.5,860.4 663.1,863.3 659.9,863.3"/>
<polygon points="665.9,860.4 667.5,863.3 664.3,863.3"/>
<polygon points="670.2,860.4 671.8,863.3 668.6,863.3"/>
<polygon points="674.6,860.4 676.2,863.3 673.0,863.3"/>
<polygon points="633.2,858.0 634.9,860.9 631.6,860.9"/>
<polygon points="637.6,858.0 639.2,860.9 636.0,860.9"/>
<polygon points="642.0,858.0 643.6,860.9 640.4,860.9"/>
<polygon points="646.3,858.0 647.9,860.9 644.7,860.9"/>
<polygon points="650.6,858.0 652.2,860.9 649.0,860.9"/>
<polygon points="655.0,858.0 656.6,860.9 653.4,860.9"/>
<polygon points="659.4,858.0 661.0,860.9 657.8,860.9"/>
<polygon points="663.7,858.0 665.3,860.9 662.1,860.9"/>
<polygon points="668.0,858.0 669.6,860.9 666.4,860.9"/>
<polygon points="672.4,858.0 674.0,860.9 670.8,860.9"/>
<polygon points="676.8,858.0 678.4,860.9 675.1,860.9"/>
<polygon points="635.4,855.6 637.0,858.5 633.8,858.5"/>
<polygon points="639.8,855.6 641.4,858.5 638.2,858.5"/>
<polygon points="644.1,855.6 645.7,858.5 642.5,858.5"/>
<polygon points="648.5,855.6 650.1,858.5 646.9,858.5"/>
<polygon points="652.8,855.6 654.4,858.5 651.2,858.5"/>
<polygon points="657.2,855.6 658.8,858.5 655.6,858.5"/>
<polygon points="661.5,855.6 663.1,858.5 659.9,858.5"/>
<polygon points="665.9,855.6 667.5,858.5 664.3,858.5"/>
<polygon points="670.2,855.6 671.8,858.5 668.6,858.5"/>
<polygon points="674.6,855.6 676.2,858.5 673.0,858.5"/>
<polygon points="633.2,853.2 634.9,856.1 631.6,856.1"/>
<polygon points="637.6,853.2 639.2,856.1 636.0,856.1"/>
<polygon points="642.0,853.2 643.6,856.1 640.4,856.1"/>
<polygon points="646.3,853.2 647.9,856.1 644.7,856.1"/>
<polygon points="650.6,853.2 652.2,856.1 649.0,856.1"/>
<polygon points="655.0,853.2 656.6,856.1 653.4,856.1"/>
<polygon points="659.4,853.2 661.0,856.1 657.8,856.1"/>
<polygon points="663.7,853.2 665.3,856.1 662.1,856.1"/>
<polygon points="668.0,853.2 669.6,856.1 666.4,856.1"/>
<polygon points="672.4,853.2 674.0,856.1 670.8,856.1"/>
<polygon points="676.8,853.2 678.4,856.1 675.1,856.1"/>
<polygon points="635.4,850.8 637.0,853.7 633.8,853.7"/>
<polygon points="639.8,850.8 641.4,853.7 638.2,853.7"/>
<polygon points="644.1,850.8 645.7,853.7 642.5,853.7"/>
<polygon points="648.5,850.8 650.1,853.7 646.9,853.7"/>
<polygon points="652.8,850.8 654.4,853.7 651.2,853.7"/>
<polygon points="657.2,850.8 658.8,853.7 655.6,853.7"/>
<polygon points="661.5,850.8 663.1,853.7 659.9,853.7"/>
<polygon points="665.9,850.8 667.5,853.7 664.3,853.7"/>
<polygon points="670.2,850.8 671.8,853.7 668.6,853.7"/>
<polygon points="674.6,850.8 676.2,853.7 673.0,853.7"/>
<polygon points="633.2,848.4 634.9,851.3 631.6,851.3"/>
<polygon points="637.6,848.4 639.2,851.3 636.0,851.3"/>
<polygon points="642.0,848.4 643.6,851.3 640.4,851.3"/>
<polygon points="646.3,848.4 647.9,851.3 644.7,851.3"/>
<polygon points="650.6,848.4 652.2,851.3 649.0,851.3"/>
<polygon points="655.0,848.4 656.6,851.3 653.4,851.3"/>
<polygon points="659.4,848.4 661.0,851.3 657.8,851.3"/>
<polygon points="663.7,848.4 665.3,851.3 662.1,851.3"/>
<polygon points="668.0,848.4 669.6,851.3 666.4,851.3"/>
<polygon points="672.4,848.4 674.0,851.3 670.8,851.3"/>
<polygon points="676.8,848.4 678.4,851.3 675.1,851.3"/>
<polygon points="635.4,846.0 637.0,848.9 633.8,848.9"/>
<polygon points="639.8,846.0 641.4,848.9 638.2,848.9"/>
<polygon points="644.1,846.0 645.7,848.9 642.5,848.9"/>
<polygon points="648.5,846.0 650.1,848.9 646.9,848.9"/>
<polygon points="652.8,846.0 654.4,848.9 651.2,848.9"/>
<polygon points="657.2,846.0 658.8,848.9 655.6,848.9"/>
<polygon points="661.5,846.0 663.1,848.9 659.9,848.9"/>
<polygon points="665.9,846.0 667.5,848.9 664.3,848.9"/>
<polygon points="670.2,846.0 671.8,848.9 668.6,848.9"/>
<polygon points="674.6,846.0 676.2,848.9 673.0,848.9"/>
<polygon points="633.2,843.6 634.9,846.5 631.6,846.5"/>
<polygon points="637.6,843.6 639.2,846.5 636.0,846.5"/>
<polygon points="642.0,843.6 643.6,846.5 640.4,846.5"/>
<polygon points="646.3,843.6 647.9,846.5 644.7,846.5"/>
<polygon points="650.6,843.6 652.2,846.5 649.0,846.5"/>
<polygon points="655.0,843.6 656.6,846.5 653.4,846.5"/>
<polygon points="659.4,843.6 661.0,846.5 657.8,846.5"/>
<polygon points="663.7,843.6 665.3,846.5 662.1,846.5"/>
<polygon points="668.0,843.6 669.6,846.5 666.4,846.5"/>
<polygon points="672.4,843.6 674.0,846.5 670.8,846.5"/>
<polygon points="676.8,843.6 678.4,846.5 675.1,846.5"/>
<polygon points="635.4,841.2 637.0,844.1 633.8,844.1"/>
<polygon points="639.8,841.2 641.4,844.1 638.2,844.1"/>
<polygon points="644.1,841.2 645.7,844.1 642.5,844.1"/>
<polygon points="648.5,841.2 650.1,844.1 646.9,844.1"/>
<polygon points="652.8,841.2 654.4,844.1 651.2,844.1"/>
<polygon points="657.2,841.2 658.8,844.1 655.6,844.1"/>
<polygon points="661.5,841.2 663.1,844.1 659.9,844.1"/>
<polygon points="665.9,841.2 667.5,844.1 664.3,844.1"/>
<polygon points="670.2,841.2 671.8,844.1 668.6,844.1"/>
<polygon points="674.6,841.2 676.2,844.1 673.0,844.1"/>
<polygon points="633.2,838.8 634.9,841.7 631.6,841.7"/>
<polygon points="637.6,838.8 639.2,841.7 636.0,841.7"/>
<polygon points="642.0,838.8 643.6,841.7 640.4,841.7"/>
<polygon points="646.3,838.8 647.9,841.7 644.7,841.7"/>
<polygon points="650.6,838.8 652.2,841.7 649.0,841.7"/>
<polygon points="655.0,838.8 656.6,841.7 653.4,841.7"/>
<polygon points="659.4,838.8 661.0,841.7 657.8,841.7"/>
<polygon points="663.7,838.8 665.3,841.7 662.1,841.7"/>
<polygon points="668.0,838.8 669.6,841.7 666.4,841.7"/>
<polygon points="672.4,838.8 674.0,841.7 670.8,841.7"/>
<polygon points="676.8,838.8 678.4,841.7 675.1,841.7"/>
<polygon points="635.4,836.4 637.0,839.3 633.8,839.3"/>
<polygon points="639.8,836.4 641.4,839.3 638.2,839.3"/>
<polygon points="644.1,836.4 645.7,839.3 642.5,839.3"/>
<polygon points="648.5,836.4 650.1,839.3 646.9,839.3"/>
<polygon points="652.8,836.4 654.4,839.3 651.2,839.3"/>
<polygon points="657.2,836.4 658.8,839.3 655.6,839.3"/>
<polygon points="661.5,836.4 663.1,839.3 659.9,839.3"/>
<polygon points="665.9,836.4 667.5,839.3 664.3,839.3"/>
<polygon points="670.2,836.4 671.8,839.3 668.6,839.3"/>
<polygon points="674.6,836.4 676.2,839.3 673.0,839.3"/>
<polygon points="633.2,834.0 634.9,836.9 631.6,836.9"/>
<polygon points="637.6,834.0 639.2,836.9 636.0,836.9"/>
<polygon points="642.0,834.0 643.6,836.9 640.4,836.9"/>
<polygon points="646.3,834.0 647.9,836.9 644.7,836.9"/>
<polygon points="650.6,834.0 652.2,836.9 649.0,836.9"/>
<polygon points="655.0,834.0 656.6,836.9 653.4,836.9"/>
<polygon points="659.4,834.0 661.0,836.9 657.8,836.9"/>
<polygon points="663.7,834.0 665.3,836.9 662.1,836.9"/>
<polygon points="668.0,834.0 669.6,836.9 666.4,836.9"/>
<polygon points="672.4,834.0 674.0,836.9 670.8,836.9"/>
<polygon points="676.8,834.0 678.4,836.9 675.1,836.9"/>
<polygon points="635.4,831.6 637.0,834.5 633.8,834.5"/>
<polygon points="639.8,831.6 641.4,834.5 638.2,834.5"/>
<polygon points="644.1,831.6 645.7,834.5 642.5,834.5"/>
<polygon points="648.5,831.6 650.1,834.5 646.9,834.5"/>
<polygon points="652.8,831.6 654.4,834.5 651.2,834.5"/>
<polygon points="657.2,831.6 658.8,834.5 655.6,834.5"/>
<polygon points="661.5,831.6 663.1,834.5 659.9,834.5"/>
<polygon points="665.9,831.6 667.5,834.5 664.3,834.5"/>
<polygon points="670.2,831.6 671.8,834.5 668.6,834.5"/>
<polygon points="674.6,831.6 676.2,834.5 673.0,834.5"/>
<polygon points="637.6,874.4 639.2,877.3 636.0,877.3"/>
<polygon points="650.6,874.4 652.2,877.3 649.0,877.3"/>
<polygon points="655.0,874.4 656.6,877.3 653.4,877.3"/>
<polygon points="659.4,874.4 661.0,877.3 657.8,877.3"/>
<polygon points="663.7,874.4 665.3,877.3 662.1,877.3"/>
<polygon points="668.0,874.4 669.6,877.3 666.4,877.3"/>
<polygon points="633.2,827.1 634.9,830.0 631.6,830.0"/>
<polygon points="637.6,827.1 639.2,830.0 636.0,830.0"/>
<polygon points="650.6,827.1 652.2,830.0 649.0,830.0"/>
<polygon points="655.0,827.1 656.6,830.0 653.4,830.0"/>
<polygon points="659.4,827.1 661.0,830.0 657.8,830.0"/>
<polygon points="663.7,827.1 665.3,830.0 662.1,830.0"/>
<polygon points="668.0,827.1 669.6,830.0 666.4,830.0"/>
<polygon points="672.4,827.1 674.0,830.0 670.8,830.0"/>
<polygon points="676.8,827.1 678.4,830.0 675.1,830.0"/>
<polygon points="633.2,824.7 634.9,827.6 631.6,827.6"/>
<polygon points="637.6,824.7 639.2,827.6 636.0,827.6"/>
<polygon points="642.0,824.7 643.6,827.6 640.4,827.6"/>
<polygon points="650.6,824.7 652.2,827.6 649.0,827.6"/>
<polygon points="668.0,824.7 669.6,827.6 666.4,827.6"/>
<polygon points="672.4,824.7 674.0,827.6 670.8,827.6"/>
<polygon points="676.8,824.7 678.4,827.6 675.1,827.6"/>
<polygon points="633.2,822.3 634.9,825.2 631.6,825.2"/>
<polygon points="655.0,822.3 656.6,825.2 653.4,825.2"/>
<polygon points="663.7,822.3 665.3,825.2 662.1,825.2"/>
<polygon points="668.0,822.3 669.6,825.2 666.4,825.2"/>
<polygon points="672.4,822.3 674.0,825.2 670.8,825.2"/>
<polygon points="676.8,822.3 678.4,825.2 675.1,825.2"/>
<polygon points="633.2,819.8 634.9,822.7 631.6,822.7"/>
<polygon points="637.6,819.8 639.2,822.7 636.0,822.7"/>
<polygon points="655.0,819.8 656.6,822.7 653.4,822.7"/>
<polygon points="672.4,819.8 674.0,822.7 670.8,822.7"/>
<polygon points="676.8,819.8 678.4,822.7 675.1,822.7"/>
<polygon points="642.0,817.4 643.6,820.3 640.4,820.3"/>
<polygon points="655.0,817.4 656.6,820.3 653.4,820.3"/>
<polygon points="668.0,817.4 669.6,820.3 666.4,820.3"/>
<polygon points="672.4,817.4 674.0,820.3 670.8,820.3"/>
<polygon points="646.3,815.0 647.9,817.9 644.7,817.9"/>
<polygon points="655.0,815.0 656.6,817.9 653.4,817.9"/>
<polygon points="668.0,815.0 669.6,817.9 666.4,817.9"/>
<polygon points="646.3,811.5 647.9,814.4 644.7,814.4"/>
<polygon points="655.0,811.5 656.6,814.4 653.4,814.4"/>
<polygon points="659.4,811.5 661.0,814.4 657.8,814.4"/>
<polygon points="650.6,808.1 652.2,811.0 649.0,811.0"/>
<polygon points="659.4,808.1 661.0,811.0 657.8,811.0"/>
<polygon points="650.6,805.2 652.2,808.1 649.0,808.1"/>
<polygon points="659.4,805.2 661.0,808.1 657.8,808.1"/>
<polygon points="655.0,801.8 656.6,804.7 653.4,804.7"/>
<polygon points="655.0,792.6 656.6,795.5 653.4,795.5"/>
</g>
<rect x="485.6" y="827.3" width="50.7" height="3" fill="#000"/>
<rect x="557.6" y="844.9" width="51.0" height="3" fill="#000"/>
<rect x="629.9" y="850.2" width="51.0" height="3" fill="#000"/>
<line x1="474.5" y1="746.8" x2="474.5" y2="894.4" stroke="#000" stroke-width="1.5"/>
<line x1="473.8" y1="893.6" x2="691.8" y2="893.6" stroke="#000" stroke-width="1.5"/>
<line x1="470.0" y1="893.6" x2="474.5" y2="893.6" stroke="#000" stroke-width="1.5"/>
<text x="469.0" y="899.5" font-family="'Liberation Serif', serif" font-size="15" font-weight="bold" fill="#000" text-anchor="end" textLength="7.6" lengthAdjust="spacingAndGlyphs" stroke="#000" stroke-width="0.35">0</text>
<line x1="470.0" y1="844.9" x2="474.5" y2="844.9" stroke="#000" stroke-width="1.5"/>
<text x="469.0" y="850.8" font-family="'Liberation Serif', serif" font-size="15" font-weight="bold" fill="#000" text-anchor="end" textLength="22.8" lengthAdjust="spacingAndGlyphs" stroke="#000" stroke-width="0.35">100</text>
<line x1="470.0" y1="796.2" x2="474.5" y2="796.2" stroke="#000" stroke-width="1.5"/>
<text x="469.0" y="802.1" font-family="'Liberation Serif', serif" font-size="15" font-weight="bold" fill="#000" text-anchor="end" textLength="22.8" lengthAdjust="spacingAndGlyphs" stroke="#000" stroke-width="0.35">200</text>
<line x1="470.0" y1="747.5" x2="474.5" y2="747.5" stroke="#000" stroke-width="1.5"/>
<text x="469.0" y="753.4" font-family="'Liberation Serif', serif" font-size="15" font-weight="bold" fill="#000" text-anchor="end" textLength="22.8" lengthAdjust="spacingAndGlyphs" stroke="#000" stroke-width="0.35">300</text>
<line x1="511.0" y1="893.6" x2="511.0" y2="898.1" stroke="#000" stroke-width="1.5"/>
<text x="485.6" y="913.2" font-family="'Liberation Serif', serif" font-size="15.5" font-weight="bold" fill="#000" text-anchor="start" textLength="51.0" lengthAdjust="spacingAndGlyphs">Control</text>
<line x1="582.6" y1="893.6" x2="582.6" y2="898.1" stroke="#000" stroke-width="1.5"/>
<text x="563.2" y="913.2" font-family="'Liberation Serif', serif" font-size="15.5" font-weight="bold" fill="#000" text-anchor="start" textLength="35.8" lengthAdjust="spacingAndGlyphs">5 μM</text>
<line x1="654.9" y1="893.6" x2="654.9" y2="898.1" stroke="#000" stroke-width="1.5"/>
<text x="631.8" y="913.2" font-family="'Liberation Serif', serif" font-size="15.5" font-weight="bold" fill="#000" text-anchor="start" textLength="43.6" lengthAdjust="spacingAndGlyphs">10 μM</text>
<text transform="translate(437.3,899.0) rotate(-90)" font-family="'Liberation Serif', serif" font-size="17" font-weight="bold" textLength="162.6" lengthAdjust="spacingAndGlyphs">Spheroid diameter (μm)</text>
<polyline points="511.0,745.0 511.0,741.0 654.9,741.0 654.9,745.0" fill="none" stroke="#111" stroke-width="1.4"/>
<text x="576.3" y="739.4" font-family="'Liberation Sans', sans-serif" font-size="13.0" fill="#2a2a2a" text-anchor="middle" stroke="#2a2a2a" stroke-width="0.3">*</text>
<text x="583.0" y="739.4" font-family="'Liberation Sans', sans-serif" font-size="13.0" fill="#2a2a2a" text-anchor="middle" stroke="#2a2a2a" stroke-width="0.3">*</text>
<text x="589.7" y="739.4" font-family="'Liberation Sans', sans-serif" font-size="13.0" fill="#2a2a2a" text-anchor="middle" stroke="#2a2a2a" stroke-width="0.3">*</text>
<polyline points="511.0,761.0 511.0,757.0 582.6,757.0 582.6,761.0" fill="none" stroke="#111" stroke-width="1.4"/>
<text x="540.8" y="755.4" font-family="'Liberation Sans', sans-serif" font-size="13.0" fill="#2a2a2a" text-anchor="middle" stroke="#2a2a2a" stroke-width="0.3">*</text>
<text x="547.5" y="755.4" font-family="'Liberation Sans', sans-serif" font-size="13.0" fill="#2a2a2a" text-anchor="middle" stroke="#2a2a2a" stroke-width="0.3">*</text>
<text x="554.2" y="755.4" font-family="'Liberation Sans', sans-serif" font-size="13.0" fill="#2a2a2a" text-anchor="middle" stroke="#2a2a2a" stroke-width="0.3">*</text>
<polyline points="582.6,773.2 582.6,769.2 654.9,769.2 654.9,773.2" fill="none" stroke="#111" stroke-width="1.4"/>
<text x="613.3" y="767.6" font-family="'Liberation Sans', sans-serif" font-size="13.0" fill="#2a2a2a" text-anchor="middle" stroke="#2a2a2a" stroke-width="0.3">*</text>
<text x="620.0" y="767.6" font-family="'Liberation Sans', sans-serif" font-size="13.0" fill="#2a2a2a" text-anchor="middle" stroke="#2a2a2a" stroke-width="0.3">*</text>
<text x="626.7" y="767.6" font-family="'Liberation Sans', sans-serif" font-size="13.0" fill="#2a2a2a" text-anchor="middle" stroke="#2a2a2a" stroke-width="0.3">*</text>
</svg>
</body></html>
